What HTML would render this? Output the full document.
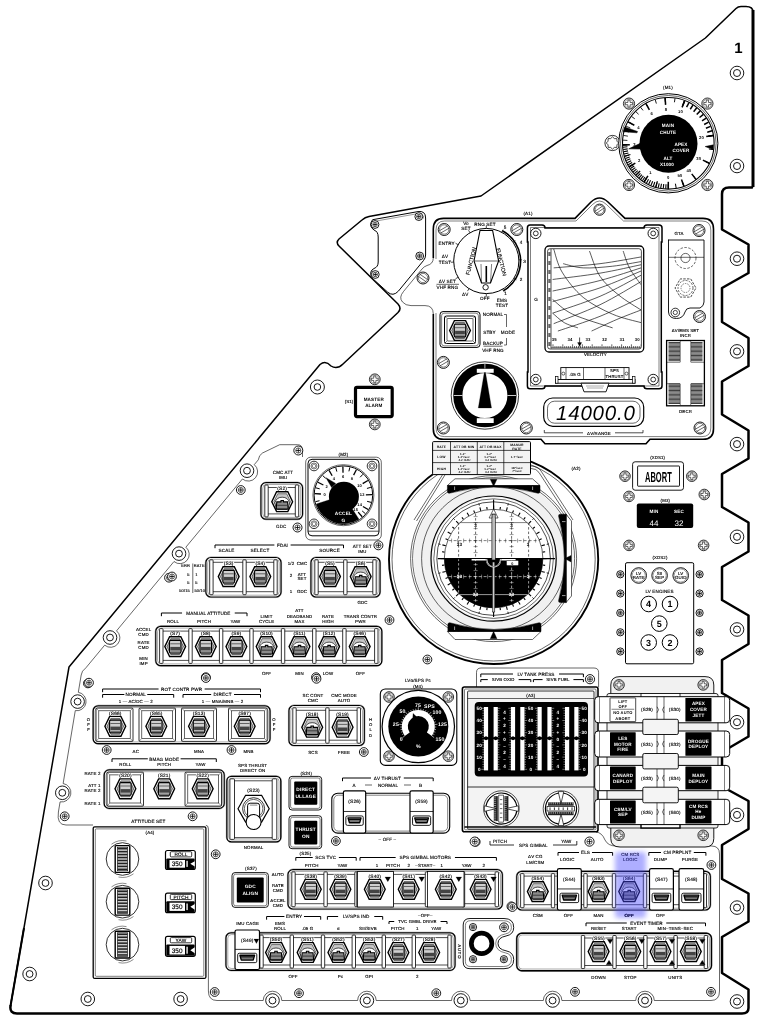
<!DOCTYPE html>
<html><head><meta charset="utf-8"><title>Panel 1</title>
<style>html,body{margin:0;padding:0;background:#fff}svg{display:block;will-change:transform;transform:translateZ(0)}text{font-family:"Liberation Sans",sans-serif;text-rendering:geometricPrecision;letter-spacing:0.15px}</style>
</head><body>
<svg width="760" height="1031" viewBox="0 0 760 1031">
<rect x="0" y="0" width="760" height="1031" fill="#fff"/>
<path d="M753 186.5 V12 Q753 6.5 746 6.5 H741 Q738 6.5 736 8.5 L705.4 38 L481 196 L369 216.5 Q365 217.3 362 220 L339 239 Q335.5 242.5 339 246 L398 304 Q402 308.5 398 312.5 L343 364 Q337 370 331 366 Q325.5 360 320 364.5 L69 667 L10.5 1006 Q9.5 1013.5 17 1013.5 H742 Q748.5 1013.5 748.5 1008 V989.5 L722 973 V937 L748.5 921.5 V893.5 L722 879 V845 L748.5 829 V801 L722 786.5 V752 L748.5 736.5 V708.5 L722 693 V660 L748.5 644 V615.5 L722 600 V567 L748.5 551.5 V522.5 L722 507 V474 L748.5 458.5 V430.5 L722 414.5 V381.5 L748.5 366 V338 L722 322 V288 L748.5 273 V244.5 L722 229.5 V194 Q722 187.5 729 187.5 H752 Z" fill="#fff" stroke="none" stroke-width="0" />
<path d="M753 186.5 V12 Q753 6.5 746 6.5 H741 Q738 6.5 736 8.5 L705.4 38 L481 196 L369 216.5 Q365 217.3 362 220 L339 239 Q335.5 242.5 339 246 L398 304 Q402 308.5 398 312.5 L343 364 Q337 370 331 366 Q325.5 360 320 364.5 L69 667 L10.5 1006" fill="none" stroke="#000" stroke-width="1.5" stroke-linejoin="round"/>
<path d="M10.5 1006 Q9.5 1013.5 17 1013.5 H742 Q748.5 1013.5 748.5 1008 V989.5 L722 973 V937 L748.5 921.5 V893.5 L722 879 V845 L748.5 829 V801 L722 786.5 V752 L748.5 736.5 V708.5 L722 693 V660 L748.5 644 V615.5 L722 600 V567 L748.5 551.5 V522.5 L722 507 V474 L748.5 458.5 V430.5 L722 414.5 V381.5 L748.5 366 V338 L722 322 V288 L748.5 273 V244.5 L722 229.5 V194 Q722 187.5 729 187.5 H752" fill="none" stroke="#000" stroke-width="2.5" stroke-linejoin="round" stroke-linecap="round"/>
<path d="M24 928 L10.5 1006" fill="none" stroke="#000" stroke-width="2.0" />
<line x1="753" y1="10" x2="753" y2="187" stroke="#000" stroke-width="3" />
<text x="738.5" y="52.5" font-size="15" text-anchor="middle" font-weight="bold" fill="#000" >1</text>
<circle cx="737" cy="73" r="6.8" fill="#fff" stroke="#000" stroke-width="0.9" />
<circle cx="737" cy="73" r="3.5" fill="none" stroke="#000" stroke-width="0.9" />
<circle cx="737" cy="166" r="6.8" fill="#fff" stroke="#000" stroke-width="0.9" />
<circle cx="737" cy="166" r="3.5" fill="none" stroke="#000" stroke-width="0.9" />
<circle cx="737" cy="258.7" r="6.8" fill="#fff" stroke="#000" stroke-width="0.9" />
<circle cx="737" cy="258.7" r="3.5" fill="none" stroke="#000" stroke-width="0.9" />
<circle cx="737" cy="351.4" r="6.8" fill="#fff" stroke="#000" stroke-width="0.9" />
<circle cx="737" cy="351.4" r="3.5" fill="none" stroke="#000" stroke-width="0.9" />
<circle cx="737" cy="444.1" r="6.8" fill="#fff" stroke="#000" stroke-width="0.9" />
<circle cx="737" cy="444.1" r="3.5" fill="none" stroke="#000" stroke-width="0.9" />
<circle cx="737" cy="536.8" r="6.8" fill="#fff" stroke="#000" stroke-width="0.9" />
<circle cx="737" cy="536.8" r="3.5" fill="none" stroke="#000" stroke-width="0.9" />
<circle cx="737" cy="629.5" r="6.8" fill="#fff" stroke="#000" stroke-width="0.9" />
<circle cx="737" cy="629.5" r="3.5" fill="none" stroke="#000" stroke-width="0.9" />
<circle cx="737" cy="722.2" r="6.8" fill="#fff" stroke="#000" stroke-width="0.9" />
<circle cx="737" cy="722.2" r="3.5" fill="none" stroke="#000" stroke-width="0.9" />
<circle cx="737" cy="814.9" r="6.8" fill="#fff" stroke="#000" stroke-width="0.9" />
<circle cx="737" cy="814.9" r="3.5" fill="none" stroke="#000" stroke-width="0.9" />
<circle cx="737" cy="907.6" r="6.8" fill="#fff" stroke="#000" stroke-width="0.9" />
<circle cx="737" cy="907.6" r="3.5" fill="none" stroke="#000" stroke-width="0.9" />
<circle cx="737" cy="1001.5" r="6.8" fill="#fff" stroke="#000" stroke-width="0.9" />
<circle cx="737" cy="1001.5" r="3.5" fill="none" stroke="#000" stroke-width="0.9" />
<path d="M302.5 457 V450 Q302.5 444.7 297.5 444.7 H279.7 L262.5 453 Q259 455 258.3 459.8" fill="none" stroke="#000" stroke-width="0.6" />
<path d="M258.3 459.8 L254.28 464.65 A9.3 9.3 0 0 1 242.41 478.97 L185.86 547.21 A9.3 9.3 0 0 1 173.99 561.53 L116.54 630.84 A9.3 9.3 0 0 1 104.68 645.17 L86 667.7" fill="none" stroke="#000" stroke-width="0.6" />
<path d="M86 667.7 Q81.5 671 81.2 675" fill="none" stroke="#000" stroke-width="0.6" />
<path d="M81.2 675 L78.32 692.29 A9.3 9.3 0 0 1 75.27 710.64 L63.14 783.51 A9.3 9.3 0 0 1 60.09 801.86 L58.4 812" fill="none" stroke="#000" stroke-width="0.6" />
<path d="M58.4 812 Q56.5 825 66 825 H93" fill="none" stroke="#000" stroke-width="0.6" />
<circle cx="247" cy="470.7" r="6.8" fill="#fff" stroke="#000" stroke-width="0.9" />
<circle cx="247" cy="470.7" r="3.4" fill="none" stroke="#000" stroke-width="0.9" />
<circle cx="179" cy="553.6" r="6.8" fill="#fff" stroke="#000" stroke-width="0.9" />
<circle cx="179" cy="553.6" r="3.4" fill="none" stroke="#000" stroke-width="0.9" />
<circle cx="110" cy="637.5" r="6.8" fill="#fff" stroke="#000" stroke-width="0.9" />
<circle cx="110" cy="637.5" r="3.4" fill="none" stroke="#000" stroke-width="0.9" />
<circle cx="77.6" cy="701.6" r="6.8" fill="#fff" stroke="#000" stroke-width="0.9" />
<circle cx="77.6" cy="701.6" r="3.4" fill="none" stroke="#000" stroke-width="0.9" />
<circle cx="62.3" cy="792.8" r="6.8" fill="#fff" stroke="#000" stroke-width="0.9" />
<circle cx="62.3" cy="792.8" r="3.4" fill="none" stroke="#000" stroke-width="0.9" />
<circle cx="240.8" cy="490" r="4.4" fill="#fff" stroke="#000" stroke-width="0.9" />
<circle cx="240.8" cy="490" r="2.55" fill="#f6f6f6" stroke="#000" stroke-width="0.6" />
<line x1="238.6" y1="490" x2="243" y2="490" stroke="#000" stroke-width="0.8" />
<line x1="240.8" y1="487.8" x2="240.8" y2="492.2" stroke="#000" stroke-width="0.8" />
<circle cx="169" cy="577.7" r="4.4" fill="#fff" stroke="#000" stroke-width="0.9" />
<circle cx="169" cy="577.7" r="2.55" fill="#f6f6f6" stroke="#000" stroke-width="0.6" />
<line x1="166.8" y1="577.7" x2="171.2" y2="577.7" stroke="#000" stroke-width="0.8" />
<line x1="169" y1="575.5" x2="169" y2="579.9" stroke="#000" stroke-width="0.8" />
<circle cx="87.9" cy="683.4" r="4.4" fill="#fff" stroke="#000" stroke-width="0.9" />
<circle cx="87.9" cy="683.4" r="2.55" fill="#f6f6f6" stroke="#000" stroke-width="0.6" />
<line x1="85.7" y1="683.4" x2="90.1" y2="683.4" stroke="#000" stroke-width="0.8" />
<line x1="87.9" y1="681.2" x2="87.9" y2="685.6" stroke="#000" stroke-width="0.8" />
<path d="M205.9 825.3 Q208.4 825.3 208.4 829 V991 Q208.4 1000.5 217 1000.5" fill="none" stroke="#000" stroke-width="0.6" />
<path d="M217 1000.5 L263.2 1000.5 A9.3 9.3 0 0 1 281.8 1000.5 L357.6 1000.5 A9.3 9.3 0 0 1 376.2 1000.5 L451.5 1000.5 A9.3 9.3 0 0 1 470.1 1000.5 L543.3 1000.5 A9.3 9.3 0 0 1 561.9 1000.5 L635.7 1000.5 A9.3 9.3 0 0 1 654.3 1000.5 L711 1000.5" fill="none" stroke="#000" stroke-width="0.6" />
<path d="M711 1000.5 Q719.5 1000.5 719.5 991 V854 Q719.5 846 711.5 846 H616 Q608 846 605 840 Q602 832.5 596 832" fill="none" stroke="#000" stroke-width="0.6" />
<path d="M372.6 219.7 L418 211.6 Q425.6 210.5 425.6 218 V255 Q425.6 258 423.5 260.5 L398.5 291 Q393 297 387.5 292 L371.5 277.5 Q369 271 374 268.5 Q378.2 267 378.2 262 V237 Q378.2 231.5 374 230 Q368 226 372.6 219.7 Z" fill="#fff" stroke="#000" stroke-width="1.0" />
<path d="M373.5 221.5 L418 213.6 Q423.6 213 423.6 218.5" fill="none" stroke="#000" stroke-width="0.4" />
<circle cx="375" cy="224.5" r="3.9" fill="#fff" stroke="#000" stroke-width="0.9" />
<circle cx="375" cy="224.5" r="2.26" fill="#f6f6f6" stroke="#000" stroke-width="0.6" />
<line x1="373.05" y1="224.5" x2="376.95" y2="224.5" stroke="#000" stroke-width="0.8" />
<line x1="375" y1="222.55" x2="375" y2="226.45" stroke="#000" stroke-width="0.8" />
<circle cx="418.8" cy="216.6" r="3.9" fill="#fff" stroke="#000" stroke-width="0.9" />
<circle cx="418.8" cy="216.6" r="2.26" fill="#f6f6f6" stroke="#000" stroke-width="0.6" />
<line x1="416.85" y1="216.6" x2="420.75" y2="216.6" stroke="#000" stroke-width="0.8" />
<line x1="418.8" y1="214.65" x2="418.8" y2="218.55" stroke="#000" stroke-width="0.8" />
<circle cx="419.7" cy="256" r="3.9" fill="#fff" stroke="#000" stroke-width="0.9" />
<circle cx="419.7" cy="256" r="2.26" fill="#f6f6f6" stroke="#000" stroke-width="0.6" />
<line x1="417.75" y1="256" x2="421.65" y2="256" stroke="#000" stroke-width="0.8" />
<line x1="419.7" y1="254.05" x2="419.7" y2="257.95" stroke="#000" stroke-width="0.8" />
<circle cx="375.3" cy="274.5" r="3.9" fill="#fff" stroke="#000" stroke-width="0.9" />
<circle cx="375.3" cy="274.5" r="2.26" fill="#f6f6f6" stroke="#000" stroke-width="0.6" />
<line x1="373.35" y1="274.5" x2="377.25" y2="274.5" stroke="#000" stroke-width="0.8" />
<line x1="375.3" y1="272.55" x2="375.3" y2="276.45" stroke="#000" stroke-width="0.8" />
<text x="668" y="88.5" font-size="4.5" text-anchor="middle" font-weight="normal" fill="#000" stroke="#000" stroke-width="0.14" >(M1)</text>
<circle cx="612.5" cy="143" r="7.6" fill="#fff" stroke="#000" stroke-width="0.8" />
<path d="M612.5 136.8 L614.34 138.57 L616.88 138.62 L616.93 141.16 L618.7 143 L616.93 144.84 L616.88 147.38 L614.34 147.43 L612.5 149.2 L610.66 147.43 L608.12 147.38 L608.07 144.84 L606.3 143 L608.07 141.16 L608.12 138.62 L610.66 138.57 Z" fill="#fff" stroke="#000" stroke-width="0.7" />
<circle cx="629" cy="103.6" r="5.6" fill="#fff" stroke="#000" stroke-width="0.8" />
<circle cx="629" cy="103.6" r="4.48" fill="none" stroke="#000" stroke-width="0.4" />
<path d="M627.88 100.13 H630.12 V102.48 H632.47 V104.72 H630.12 V107.07 H627.88 V104.72 H625.53 V102.48 H627.88 Z" fill="#fff" stroke="#000" stroke-width="0.6" />
<circle cx="707.4" cy="103.6" r="5.6" fill="#fff" stroke="#000" stroke-width="0.8" />
<circle cx="707.4" cy="103.6" r="4.48" fill="none" stroke="#000" stroke-width="0.4" />
<path d="M706.28 100.13 H708.52 V102.48 H710.87 V104.72 H708.52 V107.07 H706.28 V104.72 H703.93 V102.48 H706.28 Z" fill="#fff" stroke="#000" stroke-width="0.6" />
<circle cx="629" cy="185" r="5.6" fill="#fff" stroke="#000" stroke-width="0.8" />
<circle cx="629" cy="185" r="4.48" fill="none" stroke="#000" stroke-width="0.4" />
<path d="M627.88 181.53 H630.12 V183.88 H632.47 V186.12 H630.12 V188.47 H627.88 V186.12 H625.53 V183.88 H627.88 Z" fill="#fff" stroke="#000" stroke-width="0.6" />
<circle cx="707.4" cy="185" r="5.6" fill="#fff" stroke="#000" stroke-width="0.8" />
<circle cx="707.4" cy="185" r="4.48" fill="none" stroke="#000" stroke-width="0.4" />
<path d="M706.28 181.53 H708.52 V183.88 H710.87 V186.12 H708.52 V188.47 H706.28 V186.12 H703.93 V183.88 H706.28 Z" fill="#fff" stroke="#000" stroke-width="0.6" />
<circle cx="668.3" cy="143.3" r="49.6" fill="#fff" stroke="#000" stroke-width="1.0" />
<circle cx="668.3" cy="143.3" r="47.8" fill="none" stroke="#000" stroke-width="0.6" />
<circle cx="668.3" cy="143.3" r="45.8" fill="none" stroke="#000" stroke-width="1.1" />
<line x1="668.3" y1="188.8" x2="668.3" y2="184.3" stroke="#000" stroke-width="1.1" />
<line x1="665.76" y1="188.73" x2="666.01" y2="184.24" stroke="#000" stroke-width="1.1" />
<line x1="663.23" y1="188.52" x2="663.73" y2="184.04" stroke="#000" stroke-width="1.1" />
<line x1="660.71" y1="188.16" x2="661.46" y2="183.73" stroke="#000" stroke-width="1.1" />
<line x1="658.22" y1="187.67" x2="659.22" y2="183.28" stroke="#000" stroke-width="1.1" />
<line x1="655.76" y1="187.04" x2="657" y2="182.71" stroke="#000" stroke-width="1.1" />
<line x1="653.34" y1="186.27" x2="654.82" y2="182.02" stroke="#000" stroke-width="1.1" />
<line x1="650.96" y1="185.37" x2="652.68" y2="181.21" stroke="#000" stroke-width="1.1" />
<line x1="648.64" y1="184.33" x2="650.58" y2="180.28" stroke="#000" stroke-width="1.1" />
<line x1="646.38" y1="183.17" x2="648.55" y2="179.23" stroke="#000" stroke-width="1.1" />
<line x1="644.19" y1="181.89" x2="646.57" y2="178.07" stroke="#000" stroke-width="1.1" />
<line x1="644.19" y1="181.89" x2="646.57" y2="178.07" stroke="#000" stroke-width="1.1" />
<line x1="642.4" y1="180.71" x2="644.96" y2="177.01" stroke="#000" stroke-width="1.1" />
<line x1="640.66" y1="179.45" x2="643.4" y2="175.87" stroke="#000" stroke-width="1.1" />
<line x1="638.99" y1="178.1" x2="641.89" y2="174.66" stroke="#000" stroke-width="1.1" />
<line x1="637.39" y1="176.68" x2="640.44" y2="173.38" stroke="#000" stroke-width="1.1" />
<line x1="635.85" y1="175.19" x2="639.06" y2="172.04" stroke="#000" stroke-width="1.1" />
<line x1="634.38" y1="173.63" x2="637.74" y2="170.63" stroke="#000" stroke-width="1.1" />
<line x1="632.99" y1="172" x2="636.48" y2="169.16" stroke="#000" stroke-width="1.1" />
<line x1="631.68" y1="170.3" x2="635.3" y2="167.63" stroke="#000" stroke-width="1.1" />
<line x1="630.45" y1="168.55" x2="634.19" y2="166.05" stroke="#000" stroke-width="1.1" />
<line x1="629.3" y1="166.73" x2="633.16" y2="164.42" stroke="#000" stroke-width="1.1" />
<line x1="629.3" y1="166.73" x2="633.16" y2="164.42" stroke="#000" stroke-width="1.1" />
<line x1="628.16" y1="164.73" x2="632.13" y2="162.61" stroke="#000" stroke-width="1.1" />
<line x1="627.13" y1="162.67" x2="631.2" y2="160.76" stroke="#000" stroke-width="1.1" />
<line x1="626.2" y1="160.57" x2="630.37" y2="158.86" stroke="#000" stroke-width="1.1" />
<line x1="625.38" y1="158.41" x2="629.63" y2="156.92" stroke="#000" stroke-width="1.1" />
<line x1="624.67" y1="156.22" x2="628.99" y2="154.94" stroke="#000" stroke-width="1.1" />
<line x1="624.08" y1="154" x2="628.45" y2="152.94" stroke="#000" stroke-width="1.1" />
<line x1="623.59" y1="151.75" x2="628.01" y2="150.91" stroke="#000" stroke-width="1.1" />
<line x1="623.22" y1="149.48" x2="627.68" y2="148.86" stroke="#000" stroke-width="1.1" />
<line x1="622.97" y1="147.19" x2="627.45" y2="146.8" stroke="#000" stroke-width="1.1" />
<line x1="622.83" y1="144.89" x2="627.32" y2="144.73" stroke="#000" stroke-width="1.1" />
<line x1="622.83" y1="144.89" x2="627.32" y2="144.73" stroke="#000" stroke-width="0.8" />
<line x1="622.91" y1="140.13" x2="627.4" y2="140.44" stroke="#000" stroke-width="0.8" />
<line x1="623.49" y1="135.4" x2="627.92" y2="136.18" stroke="#000" stroke-width="0.8" />
<line x1="624.56" y1="130.76" x2="628.89" y2="132" stroke="#000" stroke-width="0.8" />
<line x1="626.11" y1="126.26" x2="630.29" y2="127.94" stroke="#000" stroke-width="0.8" />
<line x1="628.13" y1="121.94" x2="632.1" y2="124.05" stroke="#000" stroke-width="0.8" />
<line x1="628.13" y1="121.94" x2="631.66" y2="123.82" stroke="#000" stroke-width="0.9" />
<line x1="631.56" y1="116.46" x2="634.79" y2="118.82" stroke="#000" stroke-width="0.9" />
<line x1="635.74" y1="111.52" x2="638.6" y2="114.32" stroke="#000" stroke-width="0.9" />
<line x1="640.57" y1="107.23" x2="643.01" y2="110.4" stroke="#000" stroke-width="0.9" />
<line x1="645.96" y1="103.66" x2="647.93" y2="107.14" stroke="#000" stroke-width="0.9" />
<line x1="645.96" y1="103.66" x2="647.93" y2="107.14" stroke="#000" stroke-width="0.9" />
<line x1="655.23" y1="99.72" x2="656.37" y2="103.55" stroke="#000" stroke-width="0.9" />
<line x1="665.13" y1="97.91" x2="665.41" y2="101.9" stroke="#000" stroke-width="0.9" />
<line x1="665.13" y1="97.91" x2="665.41" y2="101.9" stroke="#000" stroke-width="0.9" />
<line x1="675.03" y1="98.3" x2="674.43" y2="102.26" stroke="#000" stroke-width="0.9" />
<line x1="684.61" y1="100.82" x2="683.17" y2="104.56" stroke="#000" stroke-width="0.9" />
<line x1="684.61" y1="100.82" x2="682.81" y2="105.49" stroke="#000" stroke-width="1.5" />
<line x1="688.89" y1="102.72" x2="686.62" y2="107.18" stroke="#000" stroke-width="1.5" />
<line x1="692.95" y1="105.05" x2="690.24" y2="109.26" stroke="#000" stroke-width="1.5" />
<line x1="696.75" y1="107.79" x2="693.62" y2="111.69" stroke="#000" stroke-width="1.5" />
<line x1="700.25" y1="110.9" x2="696.74" y2="114.46" stroke="#000" stroke-width="1.5" />
<line x1="703.41" y1="114.36" x2="699.55" y2="117.54" stroke="#000" stroke-width="1.5" />
<line x1="706.2" y1="118.12" x2="702.03" y2="120.89" stroke="#000" stroke-width="1.5" />
<line x1="708.59" y1="122.15" x2="704.16" y2="124.47" stroke="#000" stroke-width="1.5" />
<line x1="710.55" y1="126.4" x2="705.9" y2="128.26" stroke="#000" stroke-width="1.5" />
<line x1="712.06" y1="130.83" x2="707.25" y2="132.2" stroke="#000" stroke-width="1.5" />
<line x1="713.11" y1="135.4" x2="708.18" y2="136.27" stroke="#000" stroke-width="1.5" />
<line x1="713.11" y1="135.4" x2="708.68" y2="136.18" stroke="#000" stroke-width="1.0" />
<line x1="713.36" y1="149.63" x2="708.9" y2="149.01" stroke="#000" stroke-width="1.0" />
<line x1="709.2" y1="163.25" x2="705.15" y2="161.27" stroke="#000" stroke-width="1.0" />
<line x1="709.2" y1="163.25" x2="705.15" y2="161.27" stroke="#000" stroke-width="1.0" />
<line x1="696" y1="179.4" x2="693.26" y2="175.83" stroke="#000" stroke-width="1.0" />
<line x1="696" y1="179.4" x2="693.26" y2="175.83" stroke="#000" stroke-width="1.0" />
<line x1="683.86" y1="186.06" x2="682.32" y2="181.83" stroke="#000" stroke-width="1.0" />
<line x1="683.86" y1="186.06" x2="682.32" y2="181.83" stroke="#000" stroke-width="1.0" />
<line x1="676.2" y1="188.11" x2="675.42" y2="183.68" stroke="#000" stroke-width="1.0" />
<line x1="668.3" y1="188.8" x2="668.3" y2="184.3" stroke="#000" stroke-width="1.0" />
<line x1="668.3" y1="188.8" x2="668.3" y2="181.8" stroke="#000" stroke-width="1.5" />
<text x="668.3" y="178.7" font-size="4.2" text-anchor="middle" font-weight="bold" fill="#000" >0</text>
<line x1="644.19" y1="181.89" x2="647.9" y2="175.95" stroke="#000" stroke-width="1.5" />
<text x="650.39" y="173.56" font-size="4.2" text-anchor="middle" font-weight="bold" fill="#000" >1</text>
<line x1="629.3" y1="166.73" x2="635.3" y2="163.13" stroke="#000" stroke-width="1.5" />
<text x="639.33" y="162.31" font-size="4.2" text-anchor="middle" font-weight="bold" fill="#000" >2</text>
<line x1="622.83" y1="144.89" x2="629.82" y2="144.64" stroke="#000" stroke-width="1.5" />
<text x="634.52" y="146.08" font-size="4.2" text-anchor="middle" font-weight="bold" fill="#000" >3</text>
<line x1="628.13" y1="121.94" x2="634.31" y2="125.23" stroke="#000" stroke-width="1.5" />
<text x="638.46" y="129.03" font-size="4.2" text-anchor="middle" font-weight="bold" fill="#000" >4</text>
<line x1="645.96" y1="103.66" x2="649.4" y2="109.76" stroke="#000" stroke-width="1.5" />
<text x="651.71" y="115.45" font-size="4.2" text-anchor="middle" font-weight="bold" fill="#000" >6</text>
<line x1="665.13" y1="97.91" x2="665.61" y2="104.89" stroke="#000" stroke-width="1.5" />
<text x="665.94" y="111.18" font-size="4.2" text-anchor="middle" font-weight="bold" fill="#000" >8</text>
<line x1="684.61" y1="100.82" x2="682.1" y2="107.36" stroke="#000" stroke-width="1.5" />
<text x="680.41" y="113.34" font-size="4.2" text-anchor="middle" font-weight="bold" fill="#000" >10</text>
<line x1="713.11" y1="135.4" x2="706.22" y2="136.61" stroke="#000" stroke-width="1.5" />
<text x="701.59" y="139.03" font-size="4.2" text-anchor="middle" font-weight="bold" fill="#000" >20</text>
<line x1="709.2" y1="163.25" x2="702.9" y2="160.18" stroke="#000" stroke-width="1.5" />
<text x="698.68" y="159.72" font-size="4.2" text-anchor="middle" font-weight="bold" fill="#000" >30</text>
<line x1="696" y1="179.4" x2="691.74" y2="173.84" stroke="#000" stroke-width="1.5" />
<text x="688.88" y="171.72" font-size="4.2" text-anchor="middle" font-weight="bold" fill="#000" >40</text>
<line x1="683.86" y1="186.06" x2="681.47" y2="179.48" stroke="#000" stroke-width="1.5" />
<text x="679.86" y="176.66" font-size="4.2" text-anchor="middle" font-weight="bold" fill="#000" >50</text>
<line x1="655.76" y1="187.04" x2="657.41" y2="181.27" stroke="#000" stroke-width="1.2" />
<line x1="635.85" y1="175.19" x2="640.13" y2="170.99" stroke="#000" stroke-width="1.2" />
<line x1="624.67" y1="156.22" x2="630.43" y2="154.52" stroke="#000" stroke-width="1.2" />
<circle cx="668.5" cy="143.7" r="29" fill="#000" stroke="#000" stroke-width="0" />
<path d="M623.28 131.66 L624.74 127.02 L637.49 131.47 L637.01 132.83 Z" fill="#000" stroke="#000" stroke-width="0.5" />
<path d="M628.69 148.87 L640.91 149.12 L640.3 143.3 Z" fill="#000" stroke="#000" stroke-width="0.5" />
<path d="M705.16 146.52 L713.27 144.87 L712.86 149.56 Z" fill="#000" stroke="#000" stroke-width="0.5" />
<text x="668" y="127" font-size="4.6" text-anchor="middle" font-weight="bold" fill="#fff" >MAIN</text>
<text x="668" y="133.5" font-size="4.6" text-anchor="middle" font-weight="bold" fill="#fff" >CHUTE</text>
<text x="681" y="145.5" font-size="4.6" text-anchor="middle" font-weight="bold" fill="#fff" >APEX</text>
<text x="681" y="152" font-size="4.6" text-anchor="middle" font-weight="bold" fill="#fff" >COVER</text>
<text x="668" y="159.5" font-size="4.6" text-anchor="middle" font-weight="bold" fill="#fff" >ALT</text>
<text x="667" y="166" font-size="4.6" text-anchor="middle" font-weight="bold" fill="#fff" >X1000</text>
<text x="528" y="214.5" font-size="4.5" text-anchor="middle" font-weight="normal" fill="#000" stroke="#000" stroke-width="0.14" >(A1)</text>
<path d="M433.3 258 V229 Q433.3 218.4 443.5 218.4 H575 L591 202 Q599.5 194 608 202 L625 218.4 H703 Q713.5 218.4 713.5 229 V429 Q713.5 439.3 703 439.3 H650 L646 443.8 H545 L541 439.3 H443.5 Q433.3 439.3 433.3 429 V314 V258 Z" fill="#fff" stroke="none" stroke-width="0" />
<path d="M433.3 258 V229 Q433.3 218.4 443.5 218.4 H575 L591 202 Q599.5 194 608 202 L625 218.4 H703 Q713.5 218.4 713.5 229 V429 Q713.5 439.3 703 439.3 H650 L646 443.8 H545 L541 439.3 H443.5 Q433.3 439.3 433.3 429 V314" fill="none" stroke="#000" stroke-width="1.6" />
<path d="M436 259 V230 Q436 221 444.5 221 H576 L592.5 204.5 Q599.5 197.5 606.5 204.5 L623.5 221 H702 Q710.8 221 710.8 230 V428 Q710.8 436.6 702 436.6 H444.5 Q436 436.6 436 428 V313" fill="none" stroke="#000" stroke-width="0.5" />
<circle cx="599.5" cy="209.7" r="5.6" fill="#fff" stroke="#000" stroke-width="0.9" />
<circle cx="599.5" cy="209.7" r="4.37" fill="none" stroke="#000" stroke-width="0.5" />
<line x1="596.63" y1="213.21" x2="603.78" y2="208.2" stroke="#000" stroke-width="0.6" />
<line x1="595.22" y1="211.2" x2="602.37" y2="206.19" stroke="#000" stroke-width="0.6" />
<circle cx="444.2" cy="229.5" r="6" fill="#fff" stroke="#000" stroke-width="0.9" />
<circle cx="444.2" cy="229.5" r="4.68" fill="none" stroke="#000" stroke-width="0.5" />
<line x1="440.81" y1="232.98" x2="448.91" y2="228.3" stroke="#000" stroke-width="0.6" />
<line x1="439.49" y1="230.7" x2="447.59" y2="226.02" stroke="#000" stroke-width="0.6" />
<circle cx="516.8" cy="229.5" r="6" fill="#fff" stroke="#000" stroke-width="0.9" />
<circle cx="516.8" cy="229.5" r="4.68" fill="none" stroke="#000" stroke-width="0.5" />
<line x1="513.41" y1="232.98" x2="521.51" y2="228.3" stroke="#000" stroke-width="0.6" />
<line x1="512.09" y1="230.7" x2="520.19" y2="226.02" stroke="#000" stroke-width="0.6" />
<circle cx="443.4" cy="362.4" r="6" fill="#fff" stroke="#000" stroke-width="0.9" />
<circle cx="443.4" cy="362.4" r="4.68" fill="none" stroke="#000" stroke-width="0.5" />
<line x1="440.01" y1="365.88" x2="448.11" y2="361.2" stroke="#000" stroke-width="0.6" />
<line x1="438.69" y1="363.6" x2="446.79" y2="358.92" stroke="#000" stroke-width="0.6" />
<circle cx="443.4" cy="428" r="6" fill="#fff" stroke="#000" stroke-width="0.9" />
<circle cx="443.4" cy="428" r="4.68" fill="none" stroke="#000" stroke-width="0.5" />
<line x1="440.01" y1="431.48" x2="448.11" y2="426.8" stroke="#000" stroke-width="0.6" />
<line x1="438.69" y1="429.2" x2="446.79" y2="424.52" stroke="#000" stroke-width="0.6" />
<circle cx="526.3" cy="428" r="6" fill="#fff" stroke="#000" stroke-width="0.9" />
<circle cx="526.3" cy="428" r="4.68" fill="none" stroke="#000" stroke-width="0.5" />
<line x1="522.91" y1="431.48" x2="531.01" y2="426.8" stroke="#000" stroke-width="0.6" />
<line x1="521.59" y1="429.2" x2="529.69" y2="424.52" stroke="#000" stroke-width="0.6" />
<circle cx="699" cy="230.5" r="6" fill="#fff" stroke="#000" stroke-width="0.9" />
<circle cx="699" cy="230.5" r="4.68" fill="none" stroke="#000" stroke-width="0.5" />
<line x1="695.61" y1="233.98" x2="703.71" y2="229.3" stroke="#000" stroke-width="0.6" />
<line x1="694.29" y1="231.7" x2="702.39" y2="227.02" stroke="#000" stroke-width="0.6" />
<circle cx="699.5" cy="316.5" r="6" fill="#fff" stroke="#000" stroke-width="0.9" />
<circle cx="699.5" cy="316.5" r="4.68" fill="none" stroke="#000" stroke-width="0.5" />
<line x1="696.11" y1="319.98" x2="704.21" y2="315.3" stroke="#000" stroke-width="0.6" />
<line x1="694.79" y1="317.7" x2="702.89" y2="313.02" stroke="#000" stroke-width="0.6" />
<circle cx="700" cy="428" r="6" fill="#fff" stroke="#000" stroke-width="0.9" />
<circle cx="700" cy="428" r="4.68" fill="none" stroke="#000" stroke-width="0.5" />
<line x1="696.61" y1="431.48" x2="704.71" y2="426.8" stroke="#000" stroke-width="0.6" />
<line x1="695.29" y1="429.2" x2="703.39" y2="424.52" stroke="#000" stroke-width="0.6" />
<circle cx="486.3" cy="261" r="32.6" fill="#fff" stroke="#000" stroke-width="1.0" />
<path d="M502.4 230.71 A34.3 34.3 0 0 1 503.45 290.7" fill="none" stroke="#000" stroke-width="1.6" />
<line x1="486.3" y1="228.4" x2="486.3" y2="225.5" stroke="#000" stroke-width="0.7" />
<line x1="501.6" y1="232.22" x2="502.97" y2="229.66" stroke="#000" stroke-width="0.7" />
<line x1="513" y1="242.3" x2="515.38" y2="240.64" stroke="#000" stroke-width="0.7" />
<line x1="518.88" y1="259.86" x2="521.78" y2="259.76" stroke="#000" stroke-width="0.7" />
<line x1="513.95" y1="278.28" x2="516.41" y2="279.81" stroke="#000" stroke-width="0.7" />
<line x1="502.6" y1="289.23" x2="504.05" y2="291.74" stroke="#000" stroke-width="0.7" />
<line x1="486.3" y1="293.6" x2="486.3" y2="296.5" stroke="#000" stroke-width="0.7" />
<line x1="469.02" y1="288.65" x2="467.49" y2="291.11" stroke="#000" stroke-width="0.7" />
<line x1="458.07" y1="277.3" x2="455.56" y2="278.75" stroke="#000" stroke-width="0.7" />
<line x1="453.72" y1="262.14" x2="450.82" y2="262.24" stroke="#000" stroke-width="0.7" />
<line x1="458.07" y1="244.7" x2="455.56" y2="243.25" stroke="#000" stroke-width="0.7" />
<line x1="470" y1="232.77" x2="468.55" y2="230.26" stroke="#000" stroke-width="0.7" />
<path d="M480 230.5 L492.6 230.5 L498.6 261 L490.5 283 L481.5 283 L474 261 Z" fill="#fff" stroke="#000" stroke-width="1.1" />
<line x1="474" y1="261" x2="498.6" y2="261" stroke="#000" stroke-width="0.6" />
<line x1="486.3" y1="266" x2="486.3" y2="282" stroke="#000" stroke-width="1.6" />
<line x1="481" y1="264" x2="481.5" y2="283" stroke="#000" stroke-width="0.5" />
<line x1="491.6" y1="264" x2="490.5" y2="283" stroke="#000" stroke-width="0.5" />
<circle cx="485.6" cy="287.3" r="2.7" fill="#fff" stroke="#000" stroke-width="0.9" />
<text x="0" y="0" font-size="5.3" text-anchor="middle" font-weight="normal" fill="#000" stroke="#000" stroke-width="0.14" transform="translate(472.8 261.5) rotate(-76)">FUNCTION</text>
<text x="0" y="0" font-size="5.3" text-anchor="middle" font-weight="normal" fill="#000" stroke="#000" stroke-width="0.14" transform="translate(499.6 262.5) rotate(76)">FUNCTION</text>
<text x="466" y="224.5" font-size="4.6" text-anchor="middle" font-weight="normal" fill="#000" stroke="#000" stroke-width="0.14" >Vo</text>
<text x="466" y="229.8" font-size="4.6" text-anchor="middle" font-weight="normal" fill="#000" stroke="#000" stroke-width="0.14" >SET</text>
<text x="485" y="225.6" font-size="4.6" text-anchor="middle" font-weight="normal" fill="#000" stroke="#000" stroke-width="0.14" >RNG SET</text>
<text x="446.7" y="245.2" font-size="4.6" text-anchor="middle" font-weight="normal" fill="#000" stroke="#000" stroke-width="0.14" >ENTRY</text>
<text x="445" y="258" font-size="4.6" text-anchor="middle" font-weight="normal" fill="#000" stroke="#000" stroke-width="0.14" >ΔV</text>
<text x="445" y="264" font-size="4.6" text-anchor="middle" font-weight="normal" fill="#000" stroke="#000" stroke-width="0.14" >TEST</text>
<text x="447.4" y="282.6" font-size="4.6" text-anchor="middle" font-weight="normal" fill="#000" stroke="#000" stroke-width="0.14" >ΔV SET</text>
<text x="447.4" y="289" font-size="4.6" text-anchor="middle" font-weight="normal" fill="#000" stroke="#000" stroke-width="0.14" >VHF RNG</text>
<text x="465.3" y="296.3" font-size="4.6" text-anchor="middle" font-weight="normal" fill="#000" stroke="#000" stroke-width="0.14" >ΔV</text>
<text x="484.8" y="300" font-size="4.6" text-anchor="middle" font-weight="normal" fill="#000" stroke="#000" stroke-width="0.14" >OFF</text>
<text x="502" y="302.2" font-size="4.6" text-anchor="middle" font-weight="normal" fill="#000" stroke="#000" stroke-width="0.14" >EMS</text>
<text x="502" y="307.2" font-size="4.6" text-anchor="middle" font-weight="normal" fill="#000" stroke="#000" stroke-width="0.14" >TEST</text>
<text x="505.5" y="295.2" font-size="4.6" text-anchor="middle" font-weight="normal" fill="#000" stroke="#000" stroke-width="0.14" >1</text>
<text x="521" y="281.2" font-size="4.6" text-anchor="middle" font-weight="normal" fill="#000" stroke="#000" stroke-width="0.14" >2</text>
<text x="524.5" y="263.4" font-size="4.6" text-anchor="middle" font-weight="normal" fill="#000" stroke="#000" stroke-width="0.14" >3</text>
<text x="521" y="244.3" font-size="4.6" text-anchor="middle" font-weight="normal" fill="#000" stroke="#000" stroke-width="0.14" >4</text>
<text x="505" y="229" font-size="4.6" text-anchor="middle" font-weight="normal" fill="#000" stroke="#000" stroke-width="0.14" >5</text>
<line x1="436.5" y1="284.3" x2="459" y2="284.3" stroke="#000" stroke-width="0.6" />
<rect x="440" y="311.6" width="40" height="35.8" rx="3" fill="#fff" stroke="#000" stroke-width="1.0" />
<rect x="441.6" y="313.2" width="36.8" height="32.6" rx="2.5" fill="none" stroke="#000" stroke-width="0.5" />
<rect x="444.5" y="316" width="31" height="27.5" rx="2" fill="none" stroke="#000" stroke-width="1.0" />
<rect x="447" y="318.5" width="26" height="22.5" rx="1" fill="none" stroke="#000" stroke-width="0.6" />
<line x1="444.5" y1="316" x2="447" y2="318.5" stroke="#000" stroke-width="0.5" />
<line x1="475.5" y1="316" x2="473" y2="318.5" stroke="#000" stroke-width="0.5" />
<line x1="444.5" y1="343.5" x2="447" y2="341" stroke="#000" stroke-width="0.5" />
<line x1="475.5" y1="343.5" x2="473" y2="341" stroke="#000" stroke-width="0.5" />
<path d="M449.6 330.5 L454.4 320.6 L465.6 320.6 L470.4 330.5 L465.6 340.4 L454.4 340.4 Z" fill="#fff" stroke="#000" stroke-width="1.4" />
<path d="M451.68 330.5 L455.52 322.58 L464.48 322.58 L468.32 330.5 L464.48 338.42 L455.52 338.42 Z" fill="#a2a2a2" stroke="#222" stroke-width="0.6" />
<rect x="454.3" y="324.3" width="11.4" height="12.6" rx="1.2" fill="#cfcfcf" stroke="#000" stroke-width="1.1" />
<rect x="455.1" y="330.8" width="9.8" height="3.6" rx="0" fill="#444" stroke="#000" stroke-width="0" />
<line x1="455.1" y1="327.7" x2="464.9" y2="327.7" stroke="#333" stroke-width="0.7" />
<line x1="455.1" y1="335.7" x2="464.9" y2="335.7" stroke="#333" stroke-width="0.6" />
<text x="493" y="316" font-size="4.6" text-anchor="middle" font-weight="normal" fill="#000" stroke="#000" stroke-width="0.14" >NORMAL</text>
<text x="489.5" y="333.8" font-size="4.6" text-anchor="middle" font-weight="normal" fill="#000" stroke="#000" stroke-width="0.14" >STBY</text>
<text x="508" y="333.8" font-size="4.6" text-anchor="middle" font-weight="normal" fill="#000" stroke="#000" stroke-width="0.14" >MODE</text>
<text x="493" y="344.6" font-size="4.6" text-anchor="middle" font-weight="normal" fill="#000" stroke="#000" stroke-width="0.14" >BACKUP</text>
<text x="493" y="351.6" font-size="4.6" text-anchor="middle" font-weight="normal" fill="#000" stroke="#000" stroke-width="0.14" >VHF RNG</text>
<line x1="483.5" y1="346.2" x2="502.5" y2="346.2" stroke="#000" stroke-width="0.6" />
<path d="M504 314.5 H506.5 V327 M506.5 338 V345 H504" fill="none" stroke="#000" stroke-width="0.6" />
<circle cx="484.9" cy="395.5" r="33.7" fill="#fff" stroke="#000" stroke-width="0.8" />
<circle cx="484.9" cy="395.5" r="27.1" fill="none" stroke="#000" stroke-width="9.2" />
<rect x="476.8" y="368.8" width="16.9" height="4" rx="0" fill="#fff" stroke="#000" stroke-width="0" />
<rect x="476.8" y="418.2" width="16.9" height="4.8" rx="0" fill="#fff" stroke="#000" stroke-width="0" />
<line x1="453.7" y1="395.5" x2="462.4" y2="395.5" stroke="#fff" stroke-width="0.8" />
<line x1="516.1" y1="395.5" x2="507.4" y2="395.5" stroke="#fff" stroke-width="0.8" />
<line x1="484.9" y1="363.8" x2="484.9" y2="368.5" stroke="#fff" stroke-width="0.7" />
<path d="M484.3 372.6 L485.5 372.6 L491.5 407.9 L478.3 407.9 Z" fill="#000" stroke="#000" stroke-width="0.3" />
<path d="M530 225 H542 Q545 225 545 228 H644 Q644 225 647 225 H659 Q662 225 662 228 V242 H661.3 V372 H662 V386 Q662 388.8 659 388.8 H647 Q644 388.8 644 386 H545 Q545 388.8 542 388.8 H530 Q527.4 388.8 527.4 386 V372 H528 V242 H527.4 V228 Q527.4 225 530 225 Z" fill="#fff" stroke="#000" stroke-width="1.5" />
<path d="M530.5 227.5 H659 V386 H530.5 Z" fill="none" stroke="#000" stroke-width="0.5" />
<circle cx="535.8" cy="233.4" r="5.2" fill="#fff" stroke="#000" stroke-width="0.9" />
<circle cx="535.8" cy="233.4" r="2.4" fill="none" stroke="#000" stroke-width="0.8" />
<circle cx="653.2" cy="233.4" r="5.2" fill="#fff" stroke="#000" stroke-width="0.9" />
<circle cx="653.2" cy="233.4" r="2.4" fill="none" stroke="#000" stroke-width="0.8" />
<circle cx="535.8" cy="379.5" r="5.2" fill="#fff" stroke="#000" stroke-width="0.9" />
<circle cx="535.8" cy="379.5" r="2.4" fill="none" stroke="#000" stroke-width="0.8" />
<circle cx="653.2" cy="379.5" r="5.2" fill="#fff" stroke="#000" stroke-width="0.9" />
<circle cx="653.2" cy="379.5" r="2.4" fill="none" stroke="#000" stroke-width="0.8" />
<rect x="545" y="246" width="98.7" height="106" rx="4" fill="#fff" stroke="#000" stroke-width="1.3" />
<rect x="547.6" y="248.7" width="93.8" height="100.3" rx="2.5" fill="none" stroke="#000" stroke-width="0.7" />
<path d="M433.3 258 Q433.3 264 427 265.5 Q424 266.5 422 269 L403.5 291.5 Q398.5 297.5 402.5 302 Q405.5 305.6 411 305.6 H425 Q433.3 305.6 433.3 314" fill="none" stroke="#000" stroke-width="0.6" />
<circle cx="423" cy="278" r="6" fill="#fff" stroke="#000" stroke-width="0.9" />
<circle cx="423" cy="278" r="4.68" fill="none" stroke="#000" stroke-width="0.5" />
<line x1="418.41" y1="276.4" x2="426.08" y2="281.77" stroke="#000" stroke-width="0.6" />
<line x1="419.92" y1="274.23" x2="427.59" y2="279.6" stroke="#000" stroke-width="0.6" />
<clipPath id="scr"><rect x="548" y="249" width="93" height="99.5" rx="2"/></clipPath>
<g clip-path="url(#scr)">
<line x1="551" y1="249" x2="551" y2="349" stroke="#000" stroke-width="0.7" />
<rect x="548.3" y="252" width="2.4" height="4" rx="0" fill="#666" stroke="#000" stroke-width="0" />
<rect x="548.3" y="261" width="2.4" height="4" rx="0" fill="#666" stroke="#000" stroke-width="0" />
<rect x="548.3" y="270" width="2.4" height="4" rx="0" fill="#666" stroke="#000" stroke-width="0" />
<rect x="548.3" y="279" width="2.4" height="4" rx="0" fill="#666" stroke="#000" stroke-width="0" />
<rect x="548.3" y="288" width="2.4" height="4" rx="0" fill="#666" stroke="#000" stroke-width="0" />
<rect x="548.3" y="297" width="2.4" height="4" rx="0" fill="#666" stroke="#000" stroke-width="0" />
<rect x="548.3" y="306" width="2.4" height="4" rx="0" fill="#666" stroke="#000" stroke-width="0" />
<rect x="548.3" y="315" width="2.4" height="4" rx="0" fill="#666" stroke="#000" stroke-width="0" />
<rect x="548.3" y="324" width="2.4" height="4" rx="0" fill="#666" stroke="#000" stroke-width="0" />
<rect x="548.3" y="333" width="2.4" height="4" rx="0" fill="#666" stroke="#000" stroke-width="0" />
<rect x="548.3" y="342" width="2.4" height="4" rx="0" fill="#666" stroke="#000" stroke-width="0" />
<path d="M553.68 267.89 C561.4 267.19 585.44 265.51 600 263.68 C614.56 261.86 634.21 258.07 641.05 256.95" fill="none" stroke="#000" stroke-width="0.65" />
<path d="M563.16 263.68 C566.49 264.39 574.91 267.47 583.16 267.89 C591.4 268.32 602.98 267.26 612.63 266.21 C622.28 265.16 636.32 262.35 641.05 261.58" fill="none" stroke="#000" stroke-width="0.65" />
<path d="M552.63 279.47 C560.53 278.42 585.26 275.61 600 273.16 C614.74 270.7 634.21 266.14 641.05 264.74" fill="none" stroke="#000" stroke-width="0.65" />
<path d="M552.63 291.05 C560.53 289.3 585.26 284.39 600 280.53 C614.74 276.67 634.21 270 641.05 267.89" fill="none" stroke="#000" stroke-width="0.65" />
<path d="M552.63 301.58 C560.53 299.3 585.26 292.98 600 287.89 C614.74 282.81 634.21 273.86 641.05 271.05" fill="none" stroke="#000" stroke-width="0.65" />
<path d="M552.63 313.16 C560.53 310.35 585.26 302.63 600 296.32 C614.74 290 634.21 278.77 641.05 275.26" fill="none" stroke="#000" stroke-width="0.65" />
<path d="M553.68 323.68 C561.4 320.53 585.44 311.75 600 304.74 C614.56 297.72 634.21 285.44 641.05 281.58" fill="none" stroke="#000" stroke-width="0.65" />
<path d="M557.89 331.05 C564.91 328.6 586.14 321.93 600 316.32 C613.86 310.7 634.21 300.53 641.05 297.37" fill="none" stroke="#000" stroke-width="0.65" />
<path d="M591.58 331.05 C595.79 329.12 608.6 322.98 616.84 319.47 C625.09 315.96 637.02 311.58 641.05 310" fill="none" stroke="#000" stroke-width="0.65" />
<path d="M553.68 248.95 C555.09 252.81 557.19 264.04 562.11 272.11 C567.02 280.18 574.74 290.35 583.16 297.37 C591.58 304.39 602.98 310 612.63 314.21 C622.28 318.42 636.32 321.23 641.05 322.63" fill="none" stroke="#000" stroke-width="0.65" />
<path d="M589.47 251.05 C591.23 255.26 595.09 268.95 600 276.32 C604.91 283.68 612.11 289.65 618.95 295.26 C625.79 300.88 637.37 307.54 641.05 310" fill="none" stroke="#000" stroke-width="0.65" />
<path d="M623.16 251.05 C624.21 253.86 626.49 262.28 629.47 267.89 C632.46 273.51 639.12 281.93 641.05 284.74" fill="none" stroke="#000" stroke-width="0.65" />
<path d="M552.63 299.47 C555.96 301.93 562.63 309.47 572.63 314.21 C582.63 318.95 605.96 325.61 612.63 327.89" fill="none" stroke="#000" stroke-width="0.65" />
<path d="M552.63 313.16 C554.56 314.74 560 320.18 564.21 322.63 C568.42 325.09 575.61 327.02 577.89 327.89" fill="none" stroke="#000" stroke-width="0.65" />
<line x1="551" y1="348" x2="641" y2="348" stroke="#000" stroke-width="0.7" />
<line x1="553" y1="348" x2="553" y2="344.3" stroke="#000" stroke-width="0.6" />
<line x1="554.96" y1="348" x2="554.96" y2="346" stroke="#000" stroke-width="0.6" />
<line x1="556.92" y1="348" x2="556.92" y2="346" stroke="#000" stroke-width="0.6" />
<line x1="558.88" y1="348" x2="558.88" y2="346" stroke="#000" stroke-width="0.6" />
<line x1="560.84" y1="348" x2="560.84" y2="346" stroke="#000" stroke-width="0.6" />
<line x1="562.8" y1="348" x2="562.8" y2="344.3" stroke="#000" stroke-width="0.6" />
<line x1="564.76" y1="348" x2="564.76" y2="346" stroke="#000" stroke-width="0.6" />
<line x1="566.72" y1="348" x2="566.72" y2="346" stroke="#000" stroke-width="0.6" />
<line x1="568.68" y1="348" x2="568.68" y2="346" stroke="#000" stroke-width="0.6" />
<line x1="570.64" y1="348" x2="570.64" y2="346" stroke="#000" stroke-width="0.6" />
<line x1="572.6" y1="348" x2="572.6" y2="344.3" stroke="#000" stroke-width="0.6" />
<line x1="574.56" y1="348" x2="574.56" y2="346" stroke="#000" stroke-width="0.6" />
<line x1="576.52" y1="348" x2="576.52" y2="346" stroke="#000" stroke-width="0.6" />
<line x1="578.48" y1="348" x2="578.48" y2="346" stroke="#000" stroke-width="0.6" />
<line x1="580.44" y1="348" x2="580.44" y2="346" stroke="#000" stroke-width="0.6" />
<line x1="582.4" y1="348" x2="582.4" y2="344.3" stroke="#000" stroke-width="0.6" />
<line x1="584.36" y1="348" x2="584.36" y2="346" stroke="#000" stroke-width="0.6" />
<line x1="586.32" y1="348" x2="586.32" y2="346" stroke="#000" stroke-width="0.6" />
<line x1="588.28" y1="348" x2="588.28" y2="346" stroke="#000" stroke-width="0.6" />
<line x1="590.24" y1="348" x2="590.24" y2="346" stroke="#000" stroke-width="0.6" />
<line x1="592.2" y1="348" x2="592.2" y2="344.3" stroke="#000" stroke-width="0.6" />
<line x1="594.16" y1="348" x2="594.16" y2="346" stroke="#000" stroke-width="0.6" />
<line x1="596.12" y1="348" x2="596.12" y2="346" stroke="#000" stroke-width="0.6" />
<line x1="598.08" y1="348" x2="598.08" y2="346" stroke="#000" stroke-width="0.6" />
<line x1="600.04" y1="348" x2="600.04" y2="346" stroke="#000" stroke-width="0.6" />
<line x1="602" y1="348" x2="602" y2="344.3" stroke="#000" stroke-width="0.6" />
<line x1="603.96" y1="348" x2="603.96" y2="346" stroke="#000" stroke-width="0.6" />
<line x1="605.92" y1="348" x2="605.92" y2="346" stroke="#000" stroke-width="0.6" />
<line x1="607.88" y1="348" x2="607.88" y2="346" stroke="#000" stroke-width="0.6" />
<line x1="609.84" y1="348" x2="609.84" y2="346" stroke="#000" stroke-width="0.6" />
<line x1="611.8" y1="348" x2="611.8" y2="344.3" stroke="#000" stroke-width="0.6" />
<line x1="613.76" y1="348" x2="613.76" y2="346" stroke="#000" stroke-width="0.6" />
<line x1="615.72" y1="348" x2="615.72" y2="346" stroke="#000" stroke-width="0.6" />
<line x1="617.68" y1="348" x2="617.68" y2="346" stroke="#000" stroke-width="0.6" />
<line x1="619.64" y1="348" x2="619.64" y2="346" stroke="#000" stroke-width="0.6" />
<line x1="621.6" y1="348" x2="621.6" y2="344.3" stroke="#000" stroke-width="0.6" />
<line x1="623.56" y1="348" x2="623.56" y2="346" stroke="#000" stroke-width="0.6" />
<line x1="625.52" y1="348" x2="625.52" y2="346" stroke="#000" stroke-width="0.6" />
<line x1="627.48" y1="348" x2="627.48" y2="346" stroke="#000" stroke-width="0.6" />
<line x1="629.44" y1="348" x2="629.44" y2="346" stroke="#000" stroke-width="0.6" />
<line x1="631.4" y1="348" x2="631.4" y2="344.3" stroke="#000" stroke-width="0.6" />
<line x1="633.36" y1="348" x2="633.36" y2="346" stroke="#000" stroke-width="0.6" />
<line x1="635.32" y1="348" x2="635.32" y2="346" stroke="#000" stroke-width="0.6" />
<line x1="637.28" y1="348" x2="637.28" y2="346" stroke="#000" stroke-width="0.6" />
<line x1="639.24" y1="348" x2="639.24" y2="346" stroke="#000" stroke-width="0.6" />
<line x1="641.2" y1="348" x2="641.2" y2="344.3" stroke="#000" stroke-width="0.6" />
<text x="554.2" y="341.2" font-size="4.3" text-anchor="middle" font-weight="bold" fill="#000" >35</text>
<text x="570" y="341.2" font-size="4.3" text-anchor="middle" font-weight="bold" fill="#000" >34</text>
<text x="588" y="341.2" font-size="4.3" text-anchor="middle" font-weight="bold" fill="#000" >33</text>
<text x="604.6" y="341.2" font-size="4.3" text-anchor="middle" font-weight="bold" fill="#000" >32</text>
<text x="622" y="341.2" font-size="4.3" text-anchor="middle" font-weight="bold" fill="#000" >31</text>
<text x="637.3" y="341.2" font-size="4.3" text-anchor="middle" font-weight="bold" fill="#000" >30</text>
</g>
<path d="M577.6 342.6 L581.6 342.6 L579.6 346.6 Z" fill="#000" stroke="#000" stroke-width="0.3" />
<line x1="579.6" y1="337.5" x2="579.6" y2="343" stroke="#000" stroke-width="0.7" />
<text x="595.5" y="356.3" font-size="4.4" text-anchor="middle" font-weight="normal" fill="#000" stroke="#000" stroke-width="0.14" >VELOCITY</text>
<text x="536" y="301.2" font-size="4.6" text-anchor="middle" font-weight="normal" fill="#000" stroke="#000" stroke-width="0.14" >G</text>
<rect x="560.8" y="367.6" width="68.2" height="11.9" rx="0" fill="#fff" stroke="#000" stroke-width="0.9" />
<line x1="566" y1="367.6" x2="566" y2="379.5" stroke="#000" stroke-width="0.6" />
<line x1="583.5" y1="367.6" x2="583.5" y2="379.5" stroke="#000" stroke-width="0.6" />
<line x1="605" y1="367.6" x2="605" y2="379.5" stroke="#000" stroke-width="0.6" />
<line x1="624" y1="367.6" x2="624" y2="379.5" stroke="#000" stroke-width="0.6" />
<circle cx="563.3" cy="373.6" r="1.5" fill="none" stroke="#000" stroke-width="0.6" />
<circle cx="626.5" cy="373.6" r="1.5" fill="none" stroke="#000" stroke-width="0.6" />
<text x="575" y="375.5" font-size="4.4" text-anchor="middle" font-weight="normal" fill="#000" stroke="#000" stroke-width="0.14" >.05 G</text>
<text x="614.5" y="372.4" font-size="4.2" text-anchor="middle" font-weight="normal" fill="#000" stroke="#000" stroke-width="0.14" >SPS</text>
<text x="614.5" y="377.6" font-size="4.2" text-anchor="middle" font-weight="normal" fill="#000" stroke="#000" stroke-width="0.14" >THRUST</text>
<rect x="555.5" y="379.5" width="79.5" height="3.7" rx="0" fill="#fff" stroke="#000" stroke-width="0.9" />
<rect x="555.5" y="376.5" width="2.5" height="6.7" rx="0" fill="#fff" stroke="#000" stroke-width="0.7" />
<rect x="632.5" y="376.5" width="2.5" height="6.7" rx="0" fill="#fff" stroke="#000" stroke-width="0.7" />
<path d="M581 383.2 L609 383.2 L606 391.8 L584 391.8 Z" fill="#fff" stroke="#000" stroke-width="0.9" />
<line x1="586" y1="386" x2="604" y2="386" stroke="#555" stroke-width="0.5" />
<line x1="587" y1="388" x2="603" y2="388" stroke="#555" stroke-width="0.5" />
<rect x="543.7" y="398" width="100" height="28.3" rx="9" fill="#fff" stroke="#000" stroke-width="1.2" />
<rect x="547.5" y="401.2" width="92.5" height="22" rx="7" fill="none" stroke="#000" stroke-width="0.6" />
<text x="595.5" y="420.3" font-size="20.5" text-anchor="middle" font-weight="normal" fill="#000" font-style="italic" font-family="DejaVu Sans Light,DejaVu Sans,sans-serif" font-weight="200" textLength="79" lengthAdjust="spacing">14000.0</text>
<path d="M544.3 430 V432.8 H583 M615 432.8 H643 V430" fill="none" stroke="#000" stroke-width="0.7" />
<text x="599" y="434.5" font-size="4.4" text-anchor="middle" font-weight="normal" fill="#000" stroke="#000" stroke-width="0.14" >ΔV/RANGE</text>
<text x="679" y="234.5" font-size="4.4" text-anchor="middle" font-weight="normal" fill="#000" stroke="#000" stroke-width="0.14" >GTA</text>
<path d="M668 240 H704 V302 Q704 306 700 308 H690 Q686 308 685 312 Q683 318.5 676.5 318.5 Q669 318.5 668.5 312 V240 Z" fill="#fff" stroke="#000" stroke-width="0.9" />
<line x1="668" y1="257.3" x2="704" y2="257.3" stroke="#000" stroke-width="0.6" />
<circle cx="685.5" cy="258" r="10.5" fill="none" stroke="#000" stroke-width="0.6" stroke-dasharray="2.5 1.5"/>
<circle cx="685.5" cy="258" r="4.6" fill="none" stroke="#000" stroke-width="0.6" />
<path d="M690.75 278.91 L696 288 L690.75 297.09 L680.25 297.09 L675 288 L680.25 278.91 Z" fill="none" stroke="#000" stroke-width="0.7" stroke-dasharray="2.5 1.2"/>
<circle cx="685.5" cy="288" r="7.5" fill="none" stroke="#000" stroke-width="0.6" stroke-dasharray="2 1.2"/>
<circle cx="685.5" cy="288" r="4.5" fill="none" stroke="#000" stroke-width="0.5" stroke-dasharray="1.5 1"/>
<circle cx="675.3" cy="312.5" r="4.3" fill="#fff" stroke="#000" stroke-width="0.8" />
<circle cx="675.3" cy="312.5" r="2.1" fill="none" stroke="#000" stroke-width="0.7" />
<text x="685.5" y="332.3" font-size="4.3" text-anchor="middle" font-weight="normal" fill="#000" stroke="#000" stroke-width="0.14" >ΔV/EMS SET</text>
<text x="685.5" y="337.3" font-size="4.3" text-anchor="middle" font-weight="normal" fill="#000" stroke="#000" stroke-width="0.14" >INCR</text>
<text x="685.5" y="412.8" font-size="4.3" text-anchor="middle" font-weight="normal" fill="#000" stroke="#000" stroke-width="0.14" >DECR</text>
<rect x="666.6" y="340.5" width="37.8" height="65.3" rx="0" fill="#fff" stroke="#000" stroke-width="1.3" />
<line x1="668.5" y1="342.5" x2="680" y2="342.5" stroke="#000" stroke-width="0.75" />
<line x1="668.5" y1="343.8" x2="680" y2="343.8" stroke="#000" stroke-width="0.75" />
<line x1="668.5" y1="345.1" x2="680" y2="345.1" stroke="#000" stroke-width="0.75" />
<line x1="668.5" y1="346.4" x2="680" y2="346.4" stroke="#000" stroke-width="0.75" />
<line x1="668.5" y1="347.7" x2="680" y2="347.7" stroke="#000" stroke-width="0.75" />
<line x1="668.5" y1="349" x2="680" y2="349" stroke="#000" stroke-width="0.75" />
<line x1="668.5" y1="350.3" x2="680" y2="350.3" stroke="#000" stroke-width="0.75" />
<line x1="668.5" y1="351.6" x2="680" y2="351.6" stroke="#000" stroke-width="0.75" />
<line x1="668.5" y1="352.9" x2="680" y2="352.9" stroke="#000" stroke-width="0.75" />
<line x1="668.5" y1="354.2" x2="680" y2="354.2" stroke="#000" stroke-width="0.75" />
<line x1="668.5" y1="355.5" x2="680" y2="355.5" stroke="#000" stroke-width="0.75" />
<line x1="668.5" y1="356.8" x2="680" y2="356.8" stroke="#000" stroke-width="0.75" />
<line x1="668.5" y1="358.1" x2="680" y2="358.1" stroke="#000" stroke-width="0.75" />
<line x1="668.5" y1="359.4" x2="680" y2="359.4" stroke="#000" stroke-width="0.75" />
<line x1="668.5" y1="360.7" x2="680" y2="360.7" stroke="#000" stroke-width="0.75" />
<line x1="668.5" y1="384" x2="680" y2="384" stroke="#000" stroke-width="0.75" />
<line x1="668.5" y1="385.3" x2="680" y2="385.3" stroke="#000" stroke-width="0.75" />
<line x1="668.5" y1="386.6" x2="680" y2="386.6" stroke="#000" stroke-width="0.75" />
<line x1="668.5" y1="387.9" x2="680" y2="387.9" stroke="#000" stroke-width="0.75" />
<line x1="668.5" y1="389.2" x2="680" y2="389.2" stroke="#000" stroke-width="0.75" />
<line x1="668.5" y1="390.5" x2="680" y2="390.5" stroke="#000" stroke-width="0.75" />
<line x1="668.5" y1="391.8" x2="680" y2="391.8" stroke="#000" stroke-width="0.75" />
<line x1="668.5" y1="393.1" x2="680" y2="393.1" stroke="#000" stroke-width="0.75" />
<line x1="668.5" y1="394.4" x2="680" y2="394.4" stroke="#000" stroke-width="0.75" />
<line x1="668.5" y1="395.7" x2="680" y2="395.7" stroke="#000" stroke-width="0.75" />
<line x1="668.5" y1="397" x2="680" y2="397" stroke="#000" stroke-width="0.75" />
<line x1="668.5" y1="398.3" x2="680" y2="398.3" stroke="#000" stroke-width="0.75" />
<line x1="668.5" y1="399.6" x2="680" y2="399.6" stroke="#000" stroke-width="0.75" />
<line x1="668.5" y1="400.9" x2="680" y2="400.9" stroke="#000" stroke-width="0.75" />
<line x1="668.5" y1="402.2" x2="680" y2="402.2" stroke="#000" stroke-width="0.75" />
<line x1="668.5" y1="403.5" x2="680" y2="403.5" stroke="#000" stroke-width="0.75" />
<line x1="691" y1="342.5" x2="702.5" y2="342.5" stroke="#000" stroke-width="0.75" />
<line x1="691" y1="343.8" x2="702.5" y2="343.8" stroke="#000" stroke-width="0.75" />
<line x1="691" y1="345.1" x2="702.5" y2="345.1" stroke="#000" stroke-width="0.75" />
<line x1="691" y1="346.4" x2="702.5" y2="346.4" stroke="#000" stroke-width="0.75" />
<line x1="691" y1="347.7" x2="702.5" y2="347.7" stroke="#000" stroke-width="0.75" />
<line x1="691" y1="349" x2="702.5" y2="349" stroke="#000" stroke-width="0.75" />
<line x1="691" y1="350.3" x2="702.5" y2="350.3" stroke="#000" stroke-width="0.75" />
<line x1="691" y1="351.6" x2="702.5" y2="351.6" stroke="#000" stroke-width="0.75" />
<line x1="691" y1="352.9" x2="702.5" y2="352.9" stroke="#000" stroke-width="0.75" />
<line x1="691" y1="354.2" x2="702.5" y2="354.2" stroke="#000" stroke-width="0.75" />
<line x1="691" y1="355.5" x2="702.5" y2="355.5" stroke="#000" stroke-width="0.75" />
<line x1="691" y1="356.8" x2="702.5" y2="356.8" stroke="#000" stroke-width="0.75" />
<line x1="691" y1="358.1" x2="702.5" y2="358.1" stroke="#000" stroke-width="0.75" />
<line x1="691" y1="359.4" x2="702.5" y2="359.4" stroke="#000" stroke-width="0.75" />
<line x1="691" y1="360.7" x2="702.5" y2="360.7" stroke="#000" stroke-width="0.75" />
<line x1="691" y1="384" x2="702.5" y2="384" stroke="#000" stroke-width="0.75" />
<line x1="691" y1="385.3" x2="702.5" y2="385.3" stroke="#000" stroke-width="0.75" />
<line x1="691" y1="386.6" x2="702.5" y2="386.6" stroke="#000" stroke-width="0.75" />
<line x1="691" y1="387.9" x2="702.5" y2="387.9" stroke="#000" stroke-width="0.75" />
<line x1="691" y1="389.2" x2="702.5" y2="389.2" stroke="#000" stroke-width="0.75" />
<line x1="691" y1="390.5" x2="702.5" y2="390.5" stroke="#000" stroke-width="0.75" />
<line x1="691" y1="391.8" x2="702.5" y2="391.8" stroke="#000" stroke-width="0.75" />
<line x1="691" y1="393.1" x2="702.5" y2="393.1" stroke="#000" stroke-width="0.75" />
<line x1="691" y1="394.4" x2="702.5" y2="394.4" stroke="#000" stroke-width="0.75" />
<line x1="691" y1="395.7" x2="702.5" y2="395.7" stroke="#000" stroke-width="0.75" />
<line x1="691" y1="397" x2="702.5" y2="397" stroke="#000" stroke-width="0.75" />
<line x1="691" y1="398.3" x2="702.5" y2="398.3" stroke="#000" stroke-width="0.75" />
<line x1="691" y1="399.6" x2="702.5" y2="399.6" stroke="#000" stroke-width="0.75" />
<line x1="691" y1="400.9" x2="702.5" y2="400.9" stroke="#000" stroke-width="0.75" />
<line x1="691" y1="402.2" x2="702.5" y2="402.2" stroke="#000" stroke-width="0.75" />
<line x1="691" y1="403.5" x2="702.5" y2="403.5" stroke="#000" stroke-width="0.75" />
<line x1="680.3" y1="341" x2="680.3" y2="362" stroke="#000" stroke-width="0.5" />
<line x1="690.7" y1="341" x2="690.7" y2="362" stroke="#000" stroke-width="0.5" />
<line x1="680.3" y1="384" x2="680.3" y2="405" stroke="#000" stroke-width="0.5" />
<line x1="690.7" y1="384" x2="690.7" y2="405" stroke="#000" stroke-width="0.5" />
<line x1="667" y1="362.3" x2="680.3" y2="362.3" stroke="#000" stroke-width="0.5" />
<line x1="690.7" y1="362.3" x2="704" y2="362.3" stroke="#000" stroke-width="0.5" />
<line x1="667" y1="383.7" x2="680.3" y2="383.7" stroke="#000" stroke-width="0.5" />
<line x1="690.7" y1="383.7" x2="704" y2="383.7" stroke="#000" stroke-width="0.5" />
<text x="576" y="469.5" font-size="4.5" text-anchor="middle" font-weight="normal" fill="#000" stroke="#000" stroke-width="0.14" >(A2)</text>
<circle cx="493.6" cy="559.4" r="104.6" fill="#fff" stroke="#000" stroke-width="1.9" />
<circle cx="493.6" cy="559.4" r="101.6" fill="none" stroke="#000" stroke-width="0.6" />
<circle cx="493.6" cy="558.6" r="83" fill="none" stroke="#000" stroke-width="0.6" />
<circle cx="493.6" cy="558.6" r="81" fill="none" stroke="#000" stroke-width="0.6" />
<circle cx="493.6" cy="558.6" r="70.5" fill="none" stroke="#f1f1f1" stroke-width="19" />
<circle cx="493.6" cy="558.6" r="72" fill="none" stroke="#000" stroke-width="0.6" />
<circle cx="493.6" cy="558.6" r="62.6" fill="none" stroke="#000" stroke-width="1.2" />
<circle cx="493.6" cy="558.6" r="59.8" fill="none" stroke="#000" stroke-width="0.6" />
<circle cx="493.6" cy="558.6" r="56.8" fill="#fff" stroke="#000" stroke-width="0.7" />
<line x1="443" y1="474" x2="414" y2="520" stroke="#000" stroke-width="0.6" />
<line x1="445.5" y1="474" x2="416.5" y2="521" stroke="#000" stroke-width="0.6" />
<path d="M531 466 Q538 466 541 471 L573 520" fill="none" stroke="#000" stroke-width="0.6" />
<path d="M531 468.5 Q536.5 468.5 539 472.5 L570.5 521" fill="none" stroke="#000" stroke-width="0.6" />
<clipPath id="ball"><circle cx="493.6" cy="558.6" r="49.3"/></clipPath>
<circle cx="493.6" cy="558.6" r="49.3" fill="#fff" stroke="#000" stroke-width="0.6" />
<g clip-path="url(#ball)">
<rect x="443.6" y="558.6" width="100" height="51" rx="0" fill="#000" stroke="#000" stroke-width="0" />
<line x1="443.6" y1="522.6" x2="543.6" y2="522.6" stroke="#000" stroke-width="0.5" />
<line x1="443.6" y1="540.6" x2="543.6" y2="540.6" stroke="#000" stroke-width="0.5" stroke-dasharray="3 2"/>
<line x1="458.6" y1="513.6" x2="458.6" y2="558.6" stroke="#000" stroke-width="0.6" stroke-dasharray="2.5 2"/>
<line x1="458.6" y1="558.6" x2="458.6" y2="603.6" stroke="#fff" stroke-width="0.6" stroke-dasharray="2.5 2"/>
<line x1="475.6" y1="513.6" x2="475.6" y2="558.6" stroke="#000" stroke-width="0.6" stroke-dasharray="2.5 2"/>
<line x1="475.6" y1="558.6" x2="475.6" y2="603.6" stroke="#fff" stroke-width="0.6" stroke-dasharray="2.5 2"/>
<line x1="511.6" y1="513.6" x2="511.6" y2="558.6" stroke="#000" stroke-width="0.6" stroke-dasharray="2.5 2"/>
<line x1="511.6" y1="558.6" x2="511.6" y2="603.6" stroke="#fff" stroke-width="0.6" stroke-dasharray="2.5 2"/>
<line x1="528.6" y1="513.6" x2="528.6" y2="558.6" stroke="#000" stroke-width="0.6" stroke-dasharray="2.5 2"/>
<line x1="528.6" y1="558.6" x2="528.6" y2="603.6" stroke="#fff" stroke-width="0.6" stroke-dasharray="2.5 2"/>
<line x1="443.6" y1="576.6" x2="543.6" y2="576.6" stroke="#fff" stroke-width="0.6" stroke-dasharray="3 2"/>
<line x1="443.6" y1="594.6" x2="543.6" y2="594.6" stroke="#fff" stroke-width="0.6" />
<line x1="451.6" y1="538.6" x2="451.6" y2="542.6" stroke="#000" stroke-width="0.4" />
<line x1="451.6" y1="574.6" x2="451.6" y2="578.6" stroke="#fff" stroke-width="0.4" />
<line x1="457.6" y1="538.6" x2="457.6" y2="542.6" stroke="#000" stroke-width="0.4" />
<line x1="457.6" y1="574.6" x2="457.6" y2="578.6" stroke="#fff" stroke-width="0.4" />
<line x1="463.6" y1="538.6" x2="463.6" y2="542.6" stroke="#000" stroke-width="0.4" />
<line x1="463.6" y1="574.6" x2="463.6" y2="578.6" stroke="#fff" stroke-width="0.4" />
<line x1="469.6" y1="538.6" x2="469.6" y2="542.6" stroke="#000" stroke-width="0.4" />
<line x1="469.6" y1="574.6" x2="469.6" y2="578.6" stroke="#fff" stroke-width="0.4" />
<line x1="475.6" y1="538.6" x2="475.6" y2="542.6" stroke="#000" stroke-width="0.4" />
<line x1="475.6" y1="574.6" x2="475.6" y2="578.6" stroke="#fff" stroke-width="0.4" />
<line x1="481.6" y1="538.6" x2="481.6" y2="542.6" stroke="#000" stroke-width="0.4" />
<line x1="481.6" y1="574.6" x2="481.6" y2="578.6" stroke="#fff" stroke-width="0.4" />
<line x1="487.6" y1="538.6" x2="487.6" y2="542.6" stroke="#000" stroke-width="0.4" />
<line x1="487.6" y1="574.6" x2="487.6" y2="578.6" stroke="#fff" stroke-width="0.4" />
<line x1="493.6" y1="538.6" x2="493.6" y2="542.6" stroke="#000" stroke-width="0.4" />
<line x1="493.6" y1="574.6" x2="493.6" y2="578.6" stroke="#fff" stroke-width="0.4" />
<line x1="499.6" y1="538.6" x2="499.6" y2="542.6" stroke="#000" stroke-width="0.4" />
<line x1="499.6" y1="574.6" x2="499.6" y2="578.6" stroke="#fff" stroke-width="0.4" />
<line x1="505.6" y1="538.6" x2="505.6" y2="542.6" stroke="#000" stroke-width="0.4" />
<line x1="505.6" y1="574.6" x2="505.6" y2="578.6" stroke="#fff" stroke-width="0.4" />
<line x1="511.6" y1="538.6" x2="511.6" y2="542.6" stroke="#000" stroke-width="0.4" />
<line x1="511.6" y1="574.6" x2="511.6" y2="578.6" stroke="#fff" stroke-width="0.4" />
<line x1="517.6" y1="538.6" x2="517.6" y2="542.6" stroke="#000" stroke-width="0.4" />
<line x1="517.6" y1="574.6" x2="517.6" y2="578.6" stroke="#fff" stroke-width="0.4" />
<line x1="523.6" y1="538.6" x2="523.6" y2="542.6" stroke="#000" stroke-width="0.4" />
<line x1="523.6" y1="574.6" x2="523.6" y2="578.6" stroke="#fff" stroke-width="0.4" />
<line x1="529.6" y1="538.6" x2="529.6" y2="542.6" stroke="#000" stroke-width="0.4" />
<line x1="529.6" y1="574.6" x2="529.6" y2="578.6" stroke="#fff" stroke-width="0.4" />
<line x1="535.6" y1="538.6" x2="535.6" y2="542.6" stroke="#000" stroke-width="0.4" />
<line x1="535.6" y1="574.6" x2="535.6" y2="578.6" stroke="#fff" stroke-width="0.4" />
<line x1="473.6" y1="516.6" x2="477.6" y2="516.6" stroke="#000" stroke-width="0.4" />
<line x1="509.6" y1="516.6" x2="513.6" y2="516.6" stroke="#000" stroke-width="0.4" />
<line x1="473.6" y1="522.6" x2="477.6" y2="522.6" stroke="#000" stroke-width="0.4" />
<line x1="509.6" y1="522.6" x2="513.6" y2="522.6" stroke="#000" stroke-width="0.4" />
<line x1="473.6" y1="528.6" x2="477.6" y2="528.6" stroke="#000" stroke-width="0.4" />
<line x1="509.6" y1="528.6" x2="513.6" y2="528.6" stroke="#000" stroke-width="0.4" />
<line x1="473.6" y1="534.6" x2="477.6" y2="534.6" stroke="#000" stroke-width="0.4" />
<line x1="509.6" y1="534.6" x2="513.6" y2="534.6" stroke="#000" stroke-width="0.4" />
<line x1="473.6" y1="540.6" x2="477.6" y2="540.6" stroke="#000" stroke-width="0.4" />
<line x1="509.6" y1="540.6" x2="513.6" y2="540.6" stroke="#000" stroke-width="0.4" />
<line x1="473.6" y1="546.6" x2="477.6" y2="546.6" stroke="#000" stroke-width="0.4" />
<line x1="509.6" y1="546.6" x2="513.6" y2="546.6" stroke="#000" stroke-width="0.4" />
<line x1="473.6" y1="552.6" x2="477.6" y2="552.6" stroke="#000" stroke-width="0.4" />
<line x1="509.6" y1="552.6" x2="513.6" y2="552.6" stroke="#000" stroke-width="0.4" />
<line x1="473.6" y1="558.6" x2="477.6" y2="558.6" stroke="#fff" stroke-width="0.4" />
<line x1="509.6" y1="558.6" x2="513.6" y2="558.6" stroke="#fff" stroke-width="0.4" />
<line x1="473.6" y1="564.6" x2="477.6" y2="564.6" stroke="#fff" stroke-width="0.4" />
<line x1="509.6" y1="564.6" x2="513.6" y2="564.6" stroke="#fff" stroke-width="0.4" />
<line x1="473.6" y1="570.6" x2="477.6" y2="570.6" stroke="#fff" stroke-width="0.4" />
<line x1="509.6" y1="570.6" x2="513.6" y2="570.6" stroke="#fff" stroke-width="0.4" />
<line x1="473.6" y1="576.6" x2="477.6" y2="576.6" stroke="#fff" stroke-width="0.4" />
<line x1="509.6" y1="576.6" x2="513.6" y2="576.6" stroke="#fff" stroke-width="0.4" />
<line x1="473.6" y1="582.6" x2="477.6" y2="582.6" stroke="#fff" stroke-width="0.4" />
<line x1="509.6" y1="582.6" x2="513.6" y2="582.6" stroke="#fff" stroke-width="0.4" />
<line x1="473.6" y1="588.6" x2="477.6" y2="588.6" stroke="#fff" stroke-width="0.4" />
<line x1="509.6" y1="588.6" x2="513.6" y2="588.6" stroke="#fff" stroke-width="0.4" />
<line x1="473.6" y1="594.6" x2="477.6" y2="594.6" stroke="#fff" stroke-width="0.4" />
<line x1="509.6" y1="594.6" x2="513.6" y2="594.6" stroke="#fff" stroke-width="0.4" />
<line x1="473.6" y1="600.6" x2="477.6" y2="600.6" stroke="#fff" stroke-width="0.4" />
<line x1="509.6" y1="600.6" x2="513.6" y2="600.6" stroke="#fff" stroke-width="0.4" />
</g>
<text x="475.5" y="526.5" font-size="4.6" text-anchor="middle" font-weight="bold" fill="#000" >3</text>
<text x="511.5" y="526.5" font-size="4.6" text-anchor="middle" font-weight="bold" fill="#000" >3</text>
<text x="459.5" y="546" font-size="4.6" text-anchor="middle" font-weight="bold" fill="#000" >33</text>
<text x="528" y="546" font-size="4.6" text-anchor="middle" font-weight="bold" fill="#000" >3</text>
<text x="459.5" y="578" font-size="4.6" text-anchor="middle" font-weight="bold" fill="#fff" >33</text>
<text x="528" y="578" font-size="4.6" text-anchor="middle" font-weight="bold" fill="#fff" >3</text>
<text x="475.5" y="596" font-size="4.6" text-anchor="middle" font-weight="bold" fill="#fff" >33</text>
<text x="511.5" y="596" font-size="4.6" text-anchor="middle" font-weight="bold" fill="#fff" >33</text>
<line x1="493.6" y1="509.1" x2="493.6" y2="505.6" stroke="#000" stroke-width="1.1" />
<line x1="500.06" y1="509.52" x2="500.39" y2="507.04" stroke="#000" stroke-width="1.1" />
<line x1="506.41" y1="510.79" x2="507.32" y2="507.41" stroke="#000" stroke-width="1.1" />
<line x1="512.54" y1="512.87" x2="513.5" y2="510.56" stroke="#000" stroke-width="1.1" />
<line x1="518.35" y1="515.73" x2="520.1" y2="512.7" stroke="#000" stroke-width="1.1" />
<line x1="523.73" y1="519.33" x2="525.26" y2="517.35" stroke="#000" stroke-width="1.1" />
<line x1="528.6" y1="523.6" x2="531.08" y2="521.12" stroke="#000" stroke-width="1.1" />
<line x1="532.87" y1="528.47" x2="534.85" y2="526.94" stroke="#000" stroke-width="1.1" />
<line x1="536.47" y1="533.85" x2="539.5" y2="532.1" stroke="#000" stroke-width="1.1" />
<line x1="539.33" y1="539.66" x2="541.64" y2="538.7" stroke="#000" stroke-width="1.1" />
<line x1="541.41" y1="545.79" x2="544.79" y2="544.88" stroke="#000" stroke-width="1.1" />
<line x1="542.68" y1="552.14" x2="545.16" y2="551.81" stroke="#000" stroke-width="1.1" />
<line x1="543.1" y1="558.6" x2="546.6" y2="558.6" stroke="#000" stroke-width="1.1" />
<line x1="542.68" y1="565.06" x2="545.16" y2="565.39" stroke="#000" stroke-width="1.1" />
<line x1="541.41" y1="571.41" x2="544.79" y2="572.32" stroke="#000" stroke-width="1.1" />
<line x1="539.33" y1="577.54" x2="541.64" y2="578.5" stroke="#000" stroke-width="1.1" />
<line x1="536.47" y1="583.35" x2="539.5" y2="585.1" stroke="#000" stroke-width="1.1" />
<line x1="532.87" y1="588.73" x2="534.85" y2="590.26" stroke="#000" stroke-width="1.1" />
<line x1="528.6" y1="593.6" x2="531.08" y2="596.08" stroke="#000" stroke-width="1.1" />
<line x1="523.73" y1="597.87" x2="525.26" y2="599.85" stroke="#000" stroke-width="1.1" />
<line x1="518.35" y1="601.47" x2="520.1" y2="604.5" stroke="#000" stroke-width="1.1" />
<line x1="512.54" y1="604.33" x2="513.5" y2="606.64" stroke="#000" stroke-width="1.1" />
<line x1="506.41" y1="606.41" x2="507.32" y2="609.79" stroke="#000" stroke-width="1.1" />
<line x1="500.06" y1="607.68" x2="500.39" y2="610.16" stroke="#000" stroke-width="1.1" />
<line x1="493.6" y1="608.1" x2="493.6" y2="611.6" stroke="#000" stroke-width="1.1" />
<line x1="487.14" y1="607.68" x2="486.81" y2="610.16" stroke="#000" stroke-width="1.1" />
<line x1="480.79" y1="606.41" x2="479.88" y2="609.79" stroke="#000" stroke-width="1.1" />
<line x1="474.66" y1="604.33" x2="473.7" y2="606.64" stroke="#000" stroke-width="1.1" />
<line x1="468.85" y1="601.47" x2="467.1" y2="604.5" stroke="#000" stroke-width="1.1" />
<line x1="463.47" y1="597.87" x2="461.94" y2="599.85" stroke="#000" stroke-width="1.1" />
<line x1="458.6" y1="593.6" x2="456.12" y2="596.08" stroke="#000" stroke-width="1.1" />
<line x1="454.33" y1="588.73" x2="452.35" y2="590.26" stroke="#000" stroke-width="1.1" />
<line x1="450.73" y1="583.35" x2="447.7" y2="585.1" stroke="#000" stroke-width="1.1" />
<line x1="447.87" y1="577.54" x2="445.56" y2="578.5" stroke="#000" stroke-width="1.1" />
<line x1="445.79" y1="571.41" x2="442.41" y2="572.32" stroke="#000" stroke-width="1.1" />
<line x1="444.52" y1="565.06" x2="442.04" y2="565.39" stroke="#000" stroke-width="1.1" />
<line x1="444.1" y1="558.6" x2="440.6" y2="558.6" stroke="#000" stroke-width="1.1" />
<line x1="444.52" y1="552.14" x2="442.04" y2="551.81" stroke="#000" stroke-width="1.1" />
<line x1="445.79" y1="545.79" x2="442.41" y2="544.88" stroke="#000" stroke-width="1.1" />
<line x1="447.87" y1="539.66" x2="445.56" y2="538.7" stroke="#000" stroke-width="1.1" />
<line x1="450.73" y1="533.85" x2="447.7" y2="532.1" stroke="#000" stroke-width="1.1" />
<line x1="454.33" y1="528.47" x2="452.35" y2="526.94" stroke="#000" stroke-width="1.1" />
<line x1="458.6" y1="523.6" x2="456.12" y2="521.12" stroke="#000" stroke-width="1.1" />
<line x1="463.47" y1="519.33" x2="461.94" y2="517.35" stroke="#000" stroke-width="1.1" />
<line x1="468.85" y1="515.73" x2="467.1" y2="512.7" stroke="#000" stroke-width="1.1" />
<line x1="474.66" y1="512.87" x2="473.7" y2="510.56" stroke="#000" stroke-width="1.1" />
<line x1="480.79" y1="510.79" x2="479.88" y2="507.41" stroke="#000" stroke-width="1.1" />
<line x1="487.14" y1="509.52" x2="486.81" y2="507.04" stroke="#000" stroke-width="1.1" />
<line x1="507.84" y1="505.47" x2="508.35" y2="503.54" stroke="#000" stroke-width="0.9" />
<line x1="532.49" y1="519.71" x2="533.91" y2="518.29" stroke="#000" stroke-width="0.9" />
<line x1="546.73" y1="544.36" x2="548.66" y2="543.85" stroke="#000" stroke-width="0.9" />
<line x1="546.73" y1="572.84" x2="548.66" y2="573.35" stroke="#000" stroke-width="0.9" />
<line x1="532.49" y1="597.49" x2="533.91" y2="598.91" stroke="#000" stroke-width="0.9" />
<line x1="507.84" y1="611.73" x2="508.35" y2="613.66" stroke="#000" stroke-width="0.9" />
<line x1="479.36" y1="611.73" x2="478.85" y2="613.66" stroke="#000" stroke-width="0.9" />
<line x1="454.71" y1="597.49" x2="453.29" y2="598.91" stroke="#000" stroke-width="0.9" />
<line x1="440.47" y1="572.84" x2="438.54" y2="573.35" stroke="#000" stroke-width="0.9" />
<line x1="440.47" y1="544.36" x2="438.54" y2="543.85" stroke="#000" stroke-width="0.9" />
<line x1="454.71" y1="519.71" x2="453.29" y2="518.29" stroke="#000" stroke-width="0.9" />
<line x1="479.36" y1="505.47" x2="478.85" y2="503.54" stroke="#000" stroke-width="0.9" />
<line x1="437.7" y1="558.6" x2="555" y2="558.6" stroke="#000" stroke-width="1.3" />
<line x1="493.6" y1="499.4" x2="493.6" y2="617" stroke="#000" stroke-width="1.1" />
<rect x="491.9" y="514" width="3.4" height="46" rx="0" fill="#bbb" stroke="#000" stroke-width="0.6" />
<rect x="492.4" y="562" width="2.4" height="50" rx="0" fill="#ccc" stroke="#000" stroke-width="0.5" />
<path d="M493.6 509 L498.1 518 L495.3 518 L495.3 514 L491.9 514 L491.9 518 L489.1 518 Z" fill="#fff" stroke="#000" stroke-width="0.6" />
<path d="M471.6 559.8000000000001 H486.6 A7 7 0 0 0 500.6 559.8000000000001 H515.6" fill="none" stroke="#fff" stroke-width="1.4" />
<path d="M486.1 559.1 A7.5 7.5 0 0 0 501.1 559.1" fill="none" stroke="#000" stroke-width="0.5" />
<rect x="506.5" y="560.5" width="12" height="5" rx="1" fill="#fff" stroke="#000" stroke-width="0.4" />
<text x="512.5" y="564.6" font-size="3.8" text-anchor="middle" font-weight="bold" fill="#000" >0</text>
<rect x="432.6" y="441.6" width="97.9" height="33" rx="1" fill="#f3f3f3" stroke="#000" stroke-width="1.0" />
<line x1="450.5" y1="441.6" x2="450.5" y2="474.6" stroke="#000" stroke-width="0.7" />
<line x1="477.3" y1="441.6" x2="477.3" y2="474.6" stroke="#000" stroke-width="0.7" />
<line x1="503.8" y1="441.6" x2="503.8" y2="474.6" stroke="#000" stroke-width="0.7" />
<line x1="432.6" y1="450.4" x2="530.5" y2="450.4" stroke="#000" stroke-width="0.7" />
<line x1="432.6" y1="462.6" x2="530.5" y2="462.6" stroke="#000" stroke-width="0.7" />
<text x="441.5" y="447.5" font-size="3.4" text-anchor="middle" font-weight="bold" fill="#000" >RATE</text>
<text x="464" y="447.5" font-size="3.4" text-anchor="middle" font-weight="bold" fill="#000" >ATT DB MIN</text>
<text x="490.5" y="447.5" font-size="3.4" text-anchor="middle" font-weight="bold" fill="#000" >ATT DB MAX</text>
<text x="517" y="445.8" font-size="3.4" text-anchor="middle" font-weight="bold" fill="#000" >MANUR</text>
<text x="517" y="449.6" font-size="3.4" text-anchor="middle" font-weight="bold" fill="#000" >RATE</text>
<text x="441.5" y="458" font-size="3.4" text-anchor="middle" font-weight="bold" fill="#000" >LOW</text>
<text x="441.5" y="470" font-size="3.4" text-anchor="middle" font-weight="bold" fill="#000" >HIGH</text>
<text x="463" y="454.6" font-size="2.9" text-anchor="middle" font-weight="bold" fill="#000" >1.2°</text>
<text x="463.8" y="457.8" font-size="2.9" text-anchor="middle" font-weight="bold" fill="#000" >1.2°/sec</text>
<text x="464.6" y="461" font-size="2.9" text-anchor="middle" font-weight="bold" fill="#000" >4.2 lb/hr</text>
<text x="463" y="466.8" font-size="2.9" text-anchor="middle" font-weight="bold" fill="#000" >1.2°</text>
<text x="463.8" y="470" font-size="2.9" text-anchor="middle" font-weight="bold" fill="#000" >1.2°/sec</text>
<text x="464.6" y="473.2" font-size="2.9" text-anchor="middle" font-weight="bold" fill="#000" >4.2 lb/hr</text>
<text x="489.5" y="454.6" font-size="2.9" text-anchor="middle" font-weight="bold" fill="#000" >1.2°</text>
<text x="490.3" y="457.8" font-size="2.9" text-anchor="middle" font-weight="bold" fill="#000" >1.2°/sec</text>
<text x="491.1" y="461" font-size="2.9" text-anchor="middle" font-weight="bold" fill="#000" >4.2 lb/hr</text>
<text x="489.5" y="466.8" font-size="2.9" text-anchor="middle" font-weight="bold" fill="#000" >1.2°</text>
<text x="490.3" y="470" font-size="2.9" text-anchor="middle" font-weight="bold" fill="#000" >1.2°/sec</text>
<text x="491.1" y="473.2" font-size="2.9" text-anchor="middle" font-weight="bold" fill="#000" >4.2 lb/hr</text>
<text x="517" y="458" font-size="3" text-anchor="middle" font-weight="bold" fill="#000" >1.7°/sec</text>
<text x="517" y="468.5" font-size="3" text-anchor="middle" font-weight="bold" fill="#000" >18°/sec</text>
<text x="517" y="472" font-size="3" text-anchor="middle" font-weight="bold" fill="#000" >7°/sec</text>
<path d="M455 478.8 L532.5 478.8 L540 485.5 L447.4 485.5 Z" fill="#fff" stroke="#000" stroke-width="0.6" />
<path d="M447.4 485.5 H540 V491.5 Q540 493.5 538 493.2 Q493.6 481 449.4 493.2 Q447.4 493.5 447.4 491.5 Z" fill="#000" stroke="#000" stroke-width="0.5" />
<path d="M490.2 479.3 L497 479.3 L493.6 486.6 Z" fill="#000" stroke="#000" stroke-width="0.3" />
<line x1="454.6" y1="486.5" x2="454.6" y2="490" stroke="#fff" stroke-width="0.6" />
<line x1="532.6" y1="486.5" x2="532.6" y2="490" stroke="#fff" stroke-width="0.6" />
<path d="M455 639.5 L532.5 639.5 L541 631.5 L447.4 631.5 Z" fill="#fff" stroke="#000" stroke-width="0.6" />
<path d="M447.9 631.5 H541 V624.5 Q541 622.5 539 622.8 Q493.6 636 449.9 622.8 Q447.9 622.5 447.9 624.5 Z" fill="#000" stroke="#000" stroke-width="0.5" />
<path d="M490.2 638.8 L497 638.8 L493.6 631.2 Z" fill="#000" stroke="#000" stroke-width="0.3" />
<line x1="454.6" y1="626.5" x2="454.6" y2="630" stroke="#fff" stroke-width="0.6" />
<line x1="532.6" y1="626.5" x2="532.6" y2="630" stroke="#fff" stroke-width="0.6" />
<path d="M571.5 521 L571.5 596 L566 602.6 L566 514.2 Z" fill="#fff" stroke="#000" stroke-width="0.6" />
<path d="M566.3 514.2 V602.6 H560.4 Q558.2 602.6 558.6 600.6 Q570 558.6 558.6 516.2 Q558.2 514.2 560.4 514.2 Z" fill="#000" stroke="#000" stroke-width="0.5" />
<path d="M571 555.4 L571 562 L564.5 558.6 Z" fill="#000" stroke="#000" stroke-width="0.3" />
<line x1="562" y1="521.6" x2="565.5" y2="521.6" stroke="#fff" stroke-width="0.6" />
<line x1="562" y1="595.6" x2="565.5" y2="595.6" stroke="#fff" stroke-width="0.6" />
<circle cx="427.4" cy="659.5" r="4.4" fill="#fff" stroke="#000" stroke-width="0.9" />
<circle cx="427.4" cy="659.5" r="2.55" fill="#f6f6f6" stroke="#000" stroke-width="0.6" />
<line x1="425.2" y1="659.5" x2="429.6" y2="659.5" stroke="#000" stroke-width="0.8" />
<line x1="427.4" y1="657.3" x2="427.4" y2="661.7" stroke="#000" stroke-width="0.8" />
<circle cx="374.8" cy="379.3" r="5.4" fill="#fff" stroke="#000" stroke-width="0.8" />
<circle cx="374.8" cy="379.3" r="4.32" fill="none" stroke="#000" stroke-width="0.4" />
<path d="M373.72 375.95 H375.88 V378.22 H378.15 V380.38 H375.88 V382.65 H373.72 V380.38 H371.45 V378.22 H373.72 Z" fill="#fff" stroke="#000" stroke-width="0.6" />
<circle cx="374.8" cy="424.4" r="5.4" fill="#fff" stroke="#000" stroke-width="0.8" />
<circle cx="374.8" cy="424.4" r="4.32" fill="none" stroke="#000" stroke-width="0.4" />
<path d="M373.72 421.05 H375.88 V423.32 H378.15 V425.48 H375.88 V427.75 H373.72 V425.48 H371.45 V423.32 H373.72 Z" fill="#fff" stroke="#000" stroke-width="0.6" />
<rect x="355.5" y="387.3" width="36.7" height="29.3" rx="1.5" fill="#fff" stroke="#000" stroke-width="3.2" />
<text x="373.8" y="401" font-size="4.6" text-anchor="middle" font-weight="bold" fill="#000" >MASTER</text>
<text x="373.8" y="407.2" font-size="4.6" text-anchor="middle" font-weight="bold" fill="#000" >ALARM</text>
<text x="349" y="403" font-size="4.3" text-anchor="middle" font-weight="normal" fill="#000" stroke="#000" stroke-width="0.14" >(S1)</text>
<circle cx="317.4" cy="387" r="7" fill="#fff" stroke="#000" stroke-width="0.9" />
<circle cx="317.4" cy="387" r="3.3" fill="none" stroke="#000" stroke-width="0.9" />
<text x="343.5" y="455.6" font-size="4.5" text-anchor="middle" font-weight="normal" fill="#000" stroke="#000" stroke-width="0.14" >(M2)</text>
<rect x="305.7" y="457.2" width="75.6" height="82.8" rx="5" fill="none" stroke="#000" stroke-width="0.6" />
<rect x="308" y="459.3" width="71" height="76.5" rx="4" fill="#fff" stroke="#000" stroke-width="1.0" />
<line x1="308" y1="531.2" x2="379" y2="531.2" stroke="#000" stroke-width="0.7" />
<circle cx="314" cy="466" r="4.8" fill="#fff" stroke="#000" stroke-width="0.8" />
<circle cx="314" cy="466" r="3" fill="none" stroke="#000" stroke-width="0.5" />
<path d="M314 464 L315.73 465 L315.73 467 L314 468 L312.27 467 L312.27 465 Z" fill="none" stroke="#000" stroke-width="0.5" />
<circle cx="372" cy="466" r="4.8" fill="#fff" stroke="#000" stroke-width="0.8" />
<circle cx="372" cy="466" r="3" fill="none" stroke="#000" stroke-width="0.5" />
<path d="M372 464 L373.73 465 L373.73 467 L372 468 L370.27 467 L370.27 465 Z" fill="none" stroke="#000" stroke-width="0.5" />
<circle cx="314" cy="523.8" r="4.8" fill="#fff" stroke="#000" stroke-width="0.8" />
<circle cx="314" cy="523.8" r="3" fill="none" stroke="#000" stroke-width="0.5" />
<path d="M314 521.8 L315.73 522.8 L315.73 524.8 L314 525.8 L312.27 524.8 L312.27 522.8 Z" fill="none" stroke="#000" stroke-width="0.5" />
<circle cx="372" cy="523.8" r="4.8" fill="#fff" stroke="#000" stroke-width="0.8" />
<circle cx="372" cy="523.8" r="3" fill="none" stroke="#000" stroke-width="0.5" />
<path d="M372 521.8 L373.73 522.8 L373.73 524.8 L372 525.8 L370.27 524.8 L370.27 522.8 Z" fill="none" stroke="#000" stroke-width="0.5" />
<circle cx="343.4" cy="495.2" r="30.5" fill="none" stroke="#000" stroke-width="0.6" />
<circle cx="343.4" cy="495.2" r="29.3" fill="#fff" stroke="#000" stroke-width="1.0" />
<path d="M343.4 495.2 L316.2 504.04 A28.6 28.6 0 0 0 358.98 519.19 Z" fill="#000" stroke="#000" stroke-width="0.3" />
<circle cx="343.9" cy="496.7" r="15" fill="#000" stroke="#000" stroke-width="0" />
<line x1="314.84" y1="493.7" x2="320.93" y2="494.02" stroke="#000" stroke-width="1.3" />
<text x="324.63" y="495.72" font-size="4" text-anchor="middle" font-weight="bold" fill="#000" >0</text>
<line x1="317.92" y1="482.22" x2="323.35" y2="484.99" stroke="#000" stroke-width="1.3" />
<text x="326.65" y="488.16" font-size="4" text-anchor="middle" font-weight="bold" fill="#000" >2</text>
<line x1="329.1" y1="470.43" x2="332.15" y2="475.71" stroke="#000" stroke-width="1.3" />
<text x="334" y="480.42" font-size="4" text-anchor="middle" font-weight="bold" fill="#000" >4</text>
<line x1="342.9" y1="466.6" x2="343.01" y2="472.7" stroke="#000" stroke-width="1.3" />
<text x="343.07" y="477.9" font-size="4" text-anchor="middle" font-weight="bold" fill="#000" >6</text>
<line x1="356.38" y1="469.72" x2="353.61" y2="475.15" stroke="#000" stroke-width="1.3" />
<text x="351.94" y="479.95" font-size="4" text-anchor="middle" font-weight="bold" fill="#000" >8</text>
<line x1="367.91" y1="480.47" x2="362.69" y2="483.61" stroke="#000" stroke-width="1.3" />
<text x="359.51" y="487.02" font-size="4" text-anchor="middle" font-weight="bold" fill="#000" >10</text>
<line x1="372" y1="494.7" x2="365.9" y2="494.81" stroke="#000" stroke-width="1.3" />
<text x="362.2" y="496.37" font-size="4" text-anchor="middle" font-weight="bold" fill="#000" >12</text>
<line x1="368.17" y1="509.5" x2="362.89" y2="506.45" stroke="#000" stroke-width="1.3" />
<text x="359.68" y="506.1" font-size="4" text-anchor="middle" font-weight="bold" fill="#000" >14</text>
<line x1="362.16" y1="516.78" x2="358.16" y2="512.18" stroke="#000" stroke-width="1.3" />
<text x="355.73" y="510.89" font-size="4" text-anchor="middle" font-weight="bold" fill="#000" >15</text>
<line x1="315.53" y1="501.63" x2="319.53" y2="500.71" stroke="#000" stroke-width="1.0" />
<line x1="315.77" y1="487.8" x2="319.73" y2="488.86" stroke="#000" stroke-width="1.0" />
<line x1="322.65" y1="475.51" x2="325.63" y2="478.34" stroke="#000" stroke-width="1.0" />
<line x1="335.76" y1="467.64" x2="336.85" y2="471.59" stroke="#000" stroke-width="1.0" />
<line x1="349.83" y1="467.33" x2="348.91" y2="471.33" stroke="#000" stroke-width="1.0" />
<line x1="362.91" y1="474.28" x2="360.11" y2="477.28" stroke="#000" stroke-width="1.0" />
<line x1="370.89" y1="487.32" x2="366.95" y2="488.45" stroke="#000" stroke-width="1.0" />
<line x1="371.09" y1="502.36" x2="367.12" y2="501.33" stroke="#000" stroke-width="1.0" />
<line x1="365.31" y1="513.58" x2="362.17" y2="510.95" stroke="#000" stroke-width="1.0" />
<text x="334" y="502" font-size="3.8" text-anchor="middle" font-weight="bold" fill="#000" >-1</text>
<path d="M325.72 477.52 L331.66 487.58 L335.78 483.46 Z" fill="#000" stroke="#000" stroke-width="0.3" />
<text x="343.5" y="514.5" font-size="4.8" text-anchor="middle" font-weight="bold" fill="#fff" >ACCEL</text>
<text x="343.5" y="521.5" font-size="4.8" text-anchor="middle" font-weight="bold" fill="#fff" >G</text>
<text x="283" y="473.5" font-size="4.5" text-anchor="middle" font-weight="normal" fill="#000" stroke="#000" stroke-width="0.14" >CMC ATT</text>
<text x="283" y="478.5" font-size="4.3" text-anchor="middle" font-weight="normal" fill="#000" stroke="#000" stroke-width="0.14" >IMU</text>
<text x="281.3" y="527.8" font-size="4.5" text-anchor="middle" font-weight="normal" fill="#000" stroke="#000" stroke-width="0.14" >GDC</text>
<rect x="260.4" y="482.1" width="42.7" height="37.7" rx="5.6" fill="#fff" stroke="#888" stroke-width="0.7" />
<rect x="261" y="482.7" width="41.5" height="36.5" rx="5" fill="#fff" stroke="#000" stroke-width="1.2" />
<rect x="262.8" y="484.5" width="37.9" height="32.9" rx="3.5" fill="none" stroke="#555" stroke-width="0.5" />
<line x1="266.5" y1="487.5" x2="297" y2="487.5" stroke="#000" stroke-width="0.7" />
<line x1="266.5" y1="513.9" x2="297" y2="513.9" stroke="#000" stroke-width="0.7" />
<rect x="264.8" y="485" width="3.4" height="31.9" rx="0.8" fill="#fff" stroke="#000" stroke-width="0.8" />
<rect x="295.3" y="485" width="3.4" height="31.9" rx="0.8" fill="#fff" stroke="#000" stroke-width="0.8" />
<path d="M271.8 501.7 L276.6 491.8 L287.8 491.8 L292.6 501.7 L287.8 511.6 L276.6 511.6 Z" fill="#fff" stroke="#000" stroke-width="1.4" />
<path d="M273.88 501.7 L277.72 493.78 L286.68 493.78 L290.52 501.7 L286.68 509.62 L277.72 509.62 Z" fill="#c8c8c8" stroke="#222" stroke-width="0.6" />
<path d="M274.9 502.7 A7.6 7.6 0 0 1 289.5 502.7 L288.2 508.5 H276.2 Z" fill="#fff" stroke="#000" stroke-width="0.7" />
<path d="M276.8 501.9 H281 V500.5 H283.4 V501.9 H287.6 L288.2 509.1 H276.2 Z" fill="#8a8a8a" stroke="#000" stroke-width="1.1" />
<line x1="277.2" y1="505.3" x2="287.2" y2="505.3" stroke="#333" stroke-width="0.9" />
<rect x="276.8" y="486.8" width="10.8" height="4" rx="0" fill="#fff" stroke="#000" stroke-width="0" />
<text x="282.2" y="490.3" font-size="4.8" text-anchor="middle" font-weight="normal" fill="#000" stroke="#000" stroke-width="0.14" >(S2)</text>
<circle cx="298.3" cy="450.5" r="4.5" fill="#fff" stroke="#000" stroke-width="0.9" />
<circle cx="298.3" cy="450.5" r="2.61" fill="#f6f6f6" stroke="#000" stroke-width="0.6" />
<line x1="296.05" y1="450.5" x2="300.55" y2="450.5" stroke="#000" stroke-width="0.8" />
<line x1="298.3" y1="448.25" x2="298.3" y2="452.75" stroke="#000" stroke-width="0.8" />
<circle cx="297.5" cy="527.5" r="4.5" fill="#fff" stroke="#000" stroke-width="0.9" />
<circle cx="297.5" cy="527.5" r="2.61" fill="#f6f6f6" stroke="#000" stroke-width="0.6" />
<line x1="295.25" y1="527.5" x2="299.75" y2="527.5" stroke="#000" stroke-width="0.8" />
<line x1="297.5" y1="525.25" x2="297.5" y2="529.75" stroke="#000" stroke-width="0.8" />
<circle cx="378.4" cy="545.3" r="4.5" fill="#fff" stroke="#000" stroke-width="0.9" />
<circle cx="378.4" cy="545.3" r="2.61" fill="#f6f6f6" stroke="#000" stroke-width="0.6" />
<line x1="376.15" y1="545.3" x2="380.65" y2="545.3" stroke="#000" stroke-width="0.8" />
<line x1="378.4" y1="543.05" x2="378.4" y2="547.55" stroke="#000" stroke-width="0.8" />
<text x="362.3" y="548" font-size="4.5" text-anchor="middle" font-weight="normal" fill="#000" stroke="#000" stroke-width="0.14" >ATT SET</text>
<text x="362.3" y="553" font-size="4.3" text-anchor="middle" font-weight="normal" fill="#000" stroke="#000" stroke-width="0.14" >IMU</text>
<text x="657.7" y="459.3" font-size="4.3" text-anchor="middle" font-weight="normal" fill="#000" stroke="#000" stroke-width="0.14" >(XDS1)</text>
<rect x="632.6" y="461.8" width="50.9" height="28.4" rx="2.5" fill="#fff" stroke="#000" stroke-width="0.9" />
<rect x="637.6" y="466" width="41.9" height="20.2" rx="0.5" fill="none" stroke="#000" stroke-width="0.9" />
<text x="658.4" y="481.8" font-size="14.5" text-anchor="middle" font-weight="bold" fill="#000" font-family="DejaVu Sans Condensed,DejaVu Sans,sans-serif" textLength="27" lengthAdjust="spacingAndGlyphs">ABORT</text>
<circle cx="625" cy="476.2" r="5.3" fill="#fff" stroke="#000" stroke-width="0.8" />
<circle cx="625" cy="476.2" r="4.24" fill="none" stroke="#000" stroke-width="0.4" />
<path d="M623.94 472.91 H626.06 V475.14 H628.29 V477.26 H626.06 V479.49 H623.94 V477.26 H621.71 V475.14 H623.94 Z" fill="#fff" stroke="#000" stroke-width="0.6" />
<circle cx="691.8" cy="476.2" r="5.3" fill="#fff" stroke="#000" stroke-width="0.8" />
<circle cx="691.8" cy="476.2" r="4.24" fill="none" stroke="#000" stroke-width="0.4" />
<path d="M690.74 472.91 H692.86 V475.14 H695.09 V477.26 H692.86 V479.49 H690.74 V477.26 H688.51 V475.14 H690.74 Z" fill="#fff" stroke="#000" stroke-width="0.6" />
<circle cx="629" cy="496.4" r="5.3" fill="#fff" stroke="#000" stroke-width="0.8" />
<circle cx="629" cy="496.4" r="4.24" fill="none" stroke="#000" stroke-width="0.4" />
<path d="M627.94 493.11 H630.06 V495.34 H632.29 V497.46 H630.06 V499.69 H627.94 V497.46 H625.71 V495.34 H627.94 Z" fill="#fff" stroke="#000" stroke-width="0.6" />
<circle cx="704.3" cy="494.5" r="5.3" fill="#fff" stroke="#000" stroke-width="0.8" />
<circle cx="704.3" cy="494.5" r="4.24" fill="none" stroke="#000" stroke-width="0.4" />
<path d="M703.24 491.21 H705.36 V493.44 H707.59 V495.56 H705.36 V497.79 H703.24 V495.56 H701.01 V493.44 H703.24 Z" fill="#fff" stroke="#000" stroke-width="0.6" />
<circle cx="629" cy="545.4" r="5.3" fill="#fff" stroke="#000" stroke-width="0.8" />
<circle cx="629" cy="545.4" r="4.24" fill="none" stroke="#000" stroke-width="0.4" />
<path d="M627.94 542.11 H630.06 V544.34 H632.29 V546.46 H630.06 V548.69 H627.94 V546.46 H625.71 V544.34 H627.94 Z" fill="#fff" stroke="#000" stroke-width="0.6" />
<circle cx="703.6" cy="545.4" r="5.3" fill="#fff" stroke="#000" stroke-width="0.8" />
<circle cx="703.6" cy="545.4" r="4.24" fill="none" stroke="#000" stroke-width="0.4" />
<path d="M702.54 542.11 H704.66 V544.34 H706.89 V546.46 H704.66 V548.69 H702.54 V546.46 H700.31 V544.34 H702.54 Z" fill="#fff" stroke="#000" stroke-width="0.6" />
<text x="665.3" y="502" font-size="4.3" text-anchor="middle" font-weight="normal" fill="#000" stroke="#000" stroke-width="0.14" >(M3)</text>
<rect x="636.8" y="503.5" width="56.4" height="24.6" rx="2" fill="#000" stroke="#000" stroke-width="0" />
<text x="654" y="513.4" font-size="4.6" text-anchor="middle" font-weight="bold" fill="#fff" >MIN</text>
<text x="679" y="513.4" font-size="4.6" text-anchor="middle" font-weight="bold" fill="#fff" >SEC</text>
<text x="654" y="525.5" font-size="8" text-anchor="middle" font-weight="normal" fill="#fff" letter-spacing="0.8">44</text>
<text x="679" y="525.5" font-size="8" text-anchor="middle" font-weight="normal" fill="#fff" letter-spacing="0.8">32</text>
<text x="660" y="559.3" font-size="4.3" text-anchor="middle" font-weight="normal" fill="#000" stroke="#000" stroke-width="0.14" >(XDS2)</text>
<rect x="625.5" y="562.7" width="68.2" height="101.1" rx="1.5" fill="#fff" stroke="#000" stroke-width="1.0" />
<circle cx="638.7" cy="575.5" r="7.8" fill="#fff" stroke="#000" stroke-width="0.9" />
<circle cx="638.7" cy="575.5" r="6.6" fill="none" stroke="#000" stroke-width="0.4" />
<text x="638.7" y="574.5" font-size="4.4" text-anchor="middle" font-weight="normal" fill="#000" stroke="#000" stroke-width="0.14" >LV</text>
<text x="638.7" y="578.7" font-size="4.4" text-anchor="middle" font-weight="normal" fill="#000" stroke="#000" stroke-width="0.14" >RATE</text>
<circle cx="659.6" cy="575.5" r="7.8" fill="#fff" stroke="#000" stroke-width="0.9" />
<circle cx="659.6" cy="575.5" r="6.6" fill="none" stroke="#000" stroke-width="0.4" />
<text x="659.6" y="574.5" font-size="4.4" text-anchor="middle" font-weight="normal" fill="#000" stroke="#000" stroke-width="0.14" >SII</text>
<text x="659.6" y="578.7" font-size="4.4" text-anchor="middle" font-weight="normal" fill="#000" stroke="#000" stroke-width="0.14" >SEP</text>
<circle cx="680.7" cy="575.5" r="7.8" fill="#fff" stroke="#000" stroke-width="0.9" />
<circle cx="680.7" cy="575.5" r="6.6" fill="none" stroke="#000" stroke-width="0.4" />
<text x="680.7" y="574.5" font-size="4.4" text-anchor="middle" font-weight="normal" fill="#000" stroke="#000" stroke-width="0.14" >LV</text>
<text x="680.7" y="578.7" font-size="4.4" text-anchor="middle" font-weight="normal" fill="#000" stroke="#000" stroke-width="0.14" >GUID</text>
<text x="659.6" y="593.2" font-size="4.5" text-anchor="middle" font-weight="normal" fill="#000" stroke="#000" stroke-width="0.14" >LV ENGINES</text>
<circle cx="648.7" cy="604" r="7.8" fill="#fff" stroke="#000" stroke-width="1.0" />
<text x="648.7" y="607.2" font-size="9" text-anchor="middle" font-weight="bold" fill="#000" >4</text>
<circle cx="670" cy="604" r="7.8" fill="#fff" stroke="#000" stroke-width="1.0" />
<text x="670" y="607.2" font-size="9" text-anchor="middle" font-weight="bold" fill="#000" >1</text>
<circle cx="659.3" cy="623.6" r="7.8" fill="#fff" stroke="#000" stroke-width="1.0" />
<text x="659.3" y="626.8" font-size="9" text-anchor="middle" font-weight="bold" fill="#000" >5</text>
<circle cx="648.7" cy="642.5" r="7.8" fill="#fff" stroke="#000" stroke-width="1.0" />
<text x="648.7" y="645.7" font-size="9" text-anchor="middle" font-weight="bold" fill="#000" >3</text>
<circle cx="670" cy="642.5" r="7.8" fill="#fff" stroke="#000" stroke-width="1.0" />
<text x="670" y="645.7" font-size="9" text-anchor="middle" font-weight="bold" fill="#000" >2</text>
<circle cx="620.3" cy="574.3" r="3.6" fill="#fff" stroke="#000" stroke-width="0.9" />
<circle cx="620.3" cy="574.3" r="2.09" fill="#f6f6f6" stroke="#000" stroke-width="0.6" />
<line x1="618.5" y1="574.3" x2="622.1" y2="574.3" stroke="#000" stroke-width="0.8" />
<line x1="620.3" y1="572.5" x2="620.3" y2="576.1" stroke="#000" stroke-width="0.8" />
<circle cx="699.6" cy="574.3" r="3.6" fill="#fff" stroke="#000" stroke-width="0.9" />
<circle cx="699.6" cy="574.3" r="2.09" fill="#f6f6f6" stroke="#000" stroke-width="0.6" />
<line x1="697.8" y1="574.3" x2="701.4" y2="574.3" stroke="#000" stroke-width="0.8" />
<line x1="699.6" y1="572.5" x2="699.6" y2="576.1" stroke="#000" stroke-width="0.8" />
<circle cx="620.3" cy="593.5" r="3.6" fill="#fff" stroke="#000" stroke-width="0.9" />
<circle cx="620.3" cy="593.5" r="2.09" fill="#f6f6f6" stroke="#000" stroke-width="0.6" />
<line x1="618.5" y1="593.5" x2="622.1" y2="593.5" stroke="#000" stroke-width="0.8" />
<line x1="620.3" y1="591.7" x2="620.3" y2="595.3" stroke="#000" stroke-width="0.8" />
<circle cx="699.6" cy="593.5" r="3.6" fill="#fff" stroke="#000" stroke-width="0.9" />
<circle cx="699.6" cy="593.5" r="2.09" fill="#f6f6f6" stroke="#000" stroke-width="0.6" />
<line x1="697.8" y1="593.5" x2="701.4" y2="593.5" stroke="#000" stroke-width="0.8" />
<line x1="699.6" y1="591.7" x2="699.6" y2="595.3" stroke="#000" stroke-width="0.8" />
<circle cx="620.3" cy="612.9" r="3.6" fill="#fff" stroke="#000" stroke-width="0.9" />
<circle cx="620.3" cy="612.9" r="2.09" fill="#f6f6f6" stroke="#000" stroke-width="0.6" />
<line x1="618.5" y1="612.9" x2="622.1" y2="612.9" stroke="#000" stroke-width="0.8" />
<line x1="620.3" y1="611.1" x2="620.3" y2="614.7" stroke="#000" stroke-width="0.8" />
<circle cx="699.6" cy="612.9" r="3.6" fill="#fff" stroke="#000" stroke-width="0.9" />
<circle cx="699.6" cy="612.9" r="2.09" fill="#f6f6f6" stroke="#000" stroke-width="0.6" />
<line x1="697.8" y1="612.9" x2="701.4" y2="612.9" stroke="#000" stroke-width="0.8" />
<line x1="699.6" y1="611.1" x2="699.6" y2="614.7" stroke="#000" stroke-width="0.8" />
<circle cx="620.3" cy="632.3" r="3.6" fill="#fff" stroke="#000" stroke-width="0.9" />
<circle cx="620.3" cy="632.3" r="2.09" fill="#f6f6f6" stroke="#000" stroke-width="0.6" />
<line x1="618.5" y1="632.3" x2="622.1" y2="632.3" stroke="#000" stroke-width="0.8" />
<line x1="620.3" y1="630.5" x2="620.3" y2="634.1" stroke="#000" stroke-width="0.8" />
<circle cx="699.6" cy="632.3" r="3.6" fill="#fff" stroke="#000" stroke-width="0.9" />
<circle cx="699.6" cy="632.3" r="2.09" fill="#f6f6f6" stroke="#000" stroke-width="0.6" />
<line x1="697.8" y1="632.3" x2="701.4" y2="632.3" stroke="#000" stroke-width="0.8" />
<line x1="699.6" y1="630.5" x2="699.6" y2="634.1" stroke="#000" stroke-width="0.8" />
<circle cx="620.3" cy="651.5" r="3.6" fill="#fff" stroke="#000" stroke-width="0.9" />
<circle cx="620.3" cy="651.5" r="2.09" fill="#f6f6f6" stroke="#000" stroke-width="0.6" />
<line x1="618.5" y1="651.5" x2="622.1" y2="651.5" stroke="#000" stroke-width="0.8" />
<line x1="620.3" y1="649.7" x2="620.3" y2="653.3" stroke="#000" stroke-width="0.8" />
<circle cx="699.6" cy="651.5" r="3.6" fill="#fff" stroke="#000" stroke-width="0.9" />
<circle cx="699.6" cy="651.5" r="2.09" fill="#f6f6f6" stroke="#000" stroke-width="0.6" />
<line x1="697.8" y1="651.5" x2="701.4" y2="651.5" stroke="#000" stroke-width="0.8" />
<line x1="699.6" y1="649.7" x2="699.6" y2="653.3" stroke="#000" stroke-width="0.8" />
<path d="M215 548.2 V545 H274.38 M290.62 545 H343.5 V548.2" fill="none" stroke="#000" stroke-width="1.0" />
<text x="282.5" y="546.7" font-size="4.6" text-anchor="middle" font-weight="normal" fill="#000" stroke="#000" stroke-width="0.14" >FDAI</text>
<text x="226.5" y="552" font-size="4.6" text-anchor="middle" font-weight="normal" fill="#000" stroke="#000" stroke-width="0.14" >SCALE</text>
<text x="260" y="552" font-size="4.6" text-anchor="middle" font-weight="normal" fill="#000" stroke="#000" stroke-width="0.14" >SELECT</text>
<text x="329.6" y="552" font-size="4.6" text-anchor="middle" font-weight="normal" fill="#000" stroke="#000" stroke-width="0.14" >SOURCE</text>
<rect x="205.3" y="556.9" width="76.3" height="40.7" rx="5.6" fill="#fff" stroke="#888" stroke-width="0.7" />
<rect x="205.9" y="557.5" width="75.1" height="39.5" rx="5" fill="#fff" stroke="#000" stroke-width="1.2" />
<rect x="207.7" y="559.3" width="71.5" height="35.9" rx="3.5" fill="none" stroke="#555" stroke-width="0.5" />
<line x1="211.4" y1="562.3" x2="275.5" y2="562.3" stroke="#000" stroke-width="0.7" />
<line x1="211.4" y1="591.7" x2="275.5" y2="591.7" stroke="#000" stroke-width="0.7" />
<rect x="209.7" y="559.8" width="3.4" height="34.9" rx="0.8" fill="#fff" stroke="#000" stroke-width="0.8" />
<rect x="242.8" y="559.8" width="3.4" height="34.9" rx="0.8" fill="#fff" stroke="#000" stroke-width="0.8" />
<rect x="273.8" y="559.8" width="3.4" height="34.9" rx="0.8" fill="#fff" stroke="#000" stroke-width="0.8" />
<path d="M218.3 576.6 L223.1 566.7 L234.3 566.7 L239.1 576.6 L234.3 586.5 L223.1 586.5 Z" fill="#fff" stroke="#000" stroke-width="1.4" />
<path d="M220.38 576.6 L224.22 568.68 L233.18 568.68 L237.02 576.6 L233.18 584.52 L224.22 584.52 Z" fill="#a2a2a2" stroke="#222" stroke-width="0.6" />
<rect x="223" y="570.4" width="11.4" height="12.6" rx="1.2" fill="#cfcfcf" stroke="#000" stroke-width="1.1" />
<rect x="223.8" y="576.9" width="9.8" height="3.6" rx="0" fill="#444" stroke="#000" stroke-width="0" />
<line x1="223.8" y1="573.8" x2="233.6" y2="573.8" stroke="#333" stroke-width="0.7" />
<line x1="223.8" y1="581.8" x2="233.6" y2="581.8" stroke="#333" stroke-width="0.6" />
<rect x="223.3" y="561.7" width="10.8" height="4" rx="0" fill="#fff" stroke="#000" stroke-width="0" />
<text x="228.7" y="565.2" font-size="4.8" text-anchor="middle" font-weight="normal" fill="#000" stroke="#000" stroke-width="0.14" >(S3)</text>
<path d="M249.9 576.6 L254.7 566.7 L265.9 566.7 L270.7 576.6 L265.9 586.5 L254.7 586.5 Z" fill="#fff" stroke="#000" stroke-width="1.4" />
<path d="M251.98 576.6 L255.82 568.68 L264.78 568.68 L268.62 576.6 L264.78 584.52 L255.82 584.52 Z" fill="#a2a2a2" stroke="#222" stroke-width="0.6" />
<rect x="254.6" y="570.4" width="11.4" height="12.6" rx="1.2" fill="#cfcfcf" stroke="#000" stroke-width="1.1" />
<rect x="255.4" y="576.9" width="9.8" height="3.6" rx="0" fill="#444" stroke="#000" stroke-width="0" />
<line x1="255.4" y1="573.8" x2="265.2" y2="573.8" stroke="#333" stroke-width="0.7" />
<line x1="255.4" y1="581.8" x2="265.2" y2="581.8" stroke="#333" stroke-width="0.6" />
<rect x="254.9" y="561.7" width="10.8" height="4" rx="0" fill="#fff" stroke="#000" stroke-width="0" />
<text x="260.3" y="565.2" font-size="4.8" text-anchor="middle" font-weight="normal" fill="#000" stroke="#000" stroke-width="0.14" >(S4)</text>
<rect x="310.4" y="556.9" width="70.2" height="40.7" rx="5.6" fill="#fff" stroke="#888" stroke-width="0.7" />
<rect x="311" y="557.5" width="69" height="39.5" rx="5" fill="#fff" stroke="#000" stroke-width="1.2" />
<rect x="312.8" y="559.3" width="65.4" height="35.9" rx="3.5" fill="none" stroke="#555" stroke-width="0.5" />
<line x1="316.5" y1="562.3" x2="374.5" y2="562.3" stroke="#000" stroke-width="0.7" />
<line x1="316.5" y1="591.7" x2="374.5" y2="591.7" stroke="#000" stroke-width="0.7" />
<rect x="314.8" y="559.8" width="3.4" height="34.9" rx="0.8" fill="#fff" stroke="#000" stroke-width="0.8" />
<rect x="343.65" y="559.8" width="3.4" height="34.9" rx="0.8" fill="#fff" stroke="#000" stroke-width="0.8" />
<rect x="372.8" y="559.8" width="3.4" height="34.9" rx="0.8" fill="#fff" stroke="#000" stroke-width="0.8" />
<path d="M319.6 576.6 L324.4 566.7 L335.6 566.7 L340.4 576.6 L335.6 586.5 L324.4 586.5 Z" fill="#fff" stroke="#000" stroke-width="1.4" />
<path d="M321.68 576.6 L325.52 568.68 L334.48 568.68 L338.32 576.6 L334.48 584.52 L325.52 584.52 Z" fill="#a2a2a2" stroke="#222" stroke-width="0.6" />
<rect x="324.3" y="570.4" width="11.4" height="12.6" rx="1.2" fill="#cfcfcf" stroke="#000" stroke-width="1.1" />
<rect x="325.1" y="576.9" width="9.8" height="3.6" rx="0" fill="#444" stroke="#000" stroke-width="0" />
<line x1="325.1" y1="573.8" x2="334.9" y2="573.8" stroke="#333" stroke-width="0.7" />
<line x1="325.1" y1="581.8" x2="334.9" y2="581.8" stroke="#333" stroke-width="0.6" />
<rect x="324.6" y="561.7" width="10.8" height="4" rx="0" fill="#fff" stroke="#000" stroke-width="0" />
<text x="330" y="565.2" font-size="4.8" text-anchor="middle" font-weight="normal" fill="#000" stroke="#000" stroke-width="0.14" >(S5)</text>
<path d="M350.3 576.6 L355.1 566.7 L366.3 566.7 L371.1 576.6 L366.3 586.5 L355.1 586.5 Z" fill="#fff" stroke="#000" stroke-width="1.4" />
<path d="M352.38 576.6 L356.22 568.68 L365.18 568.68 L369.02 576.6 L365.18 584.52 L356.22 584.52 Z" fill="#c8c8c8" stroke="#222" stroke-width="0.6" />
<path d="M353.4 577.6 A7.6 7.6 0 0 1 368 577.6 L366.7 583.4 H354.7 Z" fill="#fff" stroke="#000" stroke-width="0.7" />
<path d="M355.3 576.8 H359.5 V575.4 H361.9 V576.8 H366.1 L366.7 584 H354.7 Z" fill="#8a8a8a" stroke="#000" stroke-width="1.1" />
<line x1="355.7" y1="580.2" x2="365.7" y2="580.2" stroke="#333" stroke-width="0.9" />
<rect x="355.3" y="561.7" width="10.8" height="4" rx="0" fill="#fff" stroke="#000" stroke-width="0" />
<text x="360.7" y="565.2" font-size="4.8" text-anchor="middle" font-weight="normal" fill="#000" stroke="#000" stroke-width="0.14" >(S6)</text>
<text x="185.6" y="567" font-size="4.0" text-anchor="middle" font-weight="normal" fill="#000" stroke="#000" stroke-width="0.14" >ERR</text>
<text x="199.3" y="567" font-size="4.0" text-anchor="middle" font-weight="normal" fill="#000" stroke="#000" stroke-width="0.14" >RATE</text>
<text x="188.5" y="575.5" font-size="4.0" text-anchor="middle" font-weight="normal" fill="#000" stroke="#000" stroke-width="0.14" >5</text>
<text x="196.5" y="575.5" font-size="4.0" text-anchor="middle" font-weight="normal" fill="#000" stroke="#000" stroke-width="0.14" >1</text>
<text x="188.5" y="584" font-size="4.0" text-anchor="middle" font-weight="normal" fill="#000" stroke="#000" stroke-width="0.14" >5</text>
<text x="196.5" y="584" font-size="4.0" text-anchor="middle" font-weight="normal" fill="#000" stroke="#000" stroke-width="0.14" >5</text>
<text x="184.6" y="592.3" font-size="4.0" text-anchor="middle" font-weight="normal" fill="#000" stroke="#000" stroke-width="0.14" >50/15</text>
<text x="199.8" y="592.3" font-size="4.0" text-anchor="middle" font-weight="normal" fill="#000" stroke="#000" stroke-width="0.14" >50/10</text>
<line x1="192.8" y1="563.5" x2="192.8" y2="593" stroke="#000" stroke-width="0.6" />
<text x="291" y="565" font-size="4.4" text-anchor="middle" font-weight="normal" fill="#000" stroke="#000" stroke-width="0.14" >1/2</text>
<text x="302" y="565" font-size="4.4" text-anchor="middle" font-weight="normal" fill="#000" stroke="#000" stroke-width="0.14" >CMC</text>
<text x="291" y="577" font-size="4.4" text-anchor="middle" font-weight="normal" fill="#000" stroke="#000" stroke-width="0.14" >2</text>
<text x="302" y="575.5" font-size="4.4" text-anchor="middle" font-weight="normal" fill="#000" stroke="#000" stroke-width="0.14" >ATT</text>
<text x="302" y="580.3" font-size="4.4" text-anchor="middle" font-weight="normal" fill="#000" stroke="#000" stroke-width="0.14" >SET</text>
<text x="291" y="593" font-size="4.4" text-anchor="middle" font-weight="normal" fill="#000" stroke="#000" stroke-width="0.14" >1</text>
<text x="302" y="593" font-size="4.4" text-anchor="middle" font-weight="normal" fill="#000" stroke="#000" stroke-width="0.14" >GDC</text>
<text x="362.5" y="603.5" font-size="4.4" text-anchor="middle" font-weight="normal" fill="#000" stroke="#000" stroke-width="0.14" >GDC</text>
<circle cx="172" cy="576.5" r="4.4" fill="#fff" stroke="#000" stroke-width="0.9" />
<circle cx="172" cy="576.5" r="2.55" fill="#f6f6f6" stroke="#000" stroke-width="0.6" />
<line x1="169.8" y1="576.5" x2="174.2" y2="576.5" stroke="#000" stroke-width="0.8" />
<line x1="172" y1="574.3" x2="172" y2="578.7" stroke="#000" stroke-width="0.8" />
<path d="M161.4 616.2 V613 H182.06 M234.74 613 H247 V616.2" fill="none" stroke="#000" stroke-width="1.0" />
<text x="208.4" y="614.7" font-size="4.6" text-anchor="middle" font-weight="normal" fill="#000" stroke="#000" stroke-width="0.14" >MANUAL ATTITUDE</text>
<rect x="155.2" y="625.7" width="227.2" height="40.6" rx="5.6" fill="#fff" stroke="#888" stroke-width="0.7" />
<rect x="155.8" y="626.3" width="226" height="39.4" rx="5" fill="#fff" stroke="#000" stroke-width="1.2" />
<rect x="157.6" y="628.1" width="222.4" height="35.8" rx="3.5" fill="none" stroke="#555" stroke-width="0.5" />
<line x1="161.3" y1="631.1" x2="376.3" y2="631.1" stroke="#000" stroke-width="0.7" />
<line x1="161.3" y1="660.4" x2="376.3" y2="660.4" stroke="#000" stroke-width="0.7" />
<rect x="159.6" y="628.6" width="3.4" height="34.8" rx="0.8" fill="#fff" stroke="#000" stroke-width="0.8" />
<rect x="188.8" y="628.6" width="3.4" height="34.8" rx="0.8" fill="#fff" stroke="#000" stroke-width="0.8" />
<rect x="219.4" y="628.6" width="3.4" height="34.8" rx="0.8" fill="#fff" stroke="#000" stroke-width="0.8" />
<rect x="249.8" y="628.6" width="3.4" height="34.8" rx="0.8" fill="#fff" stroke="#000" stroke-width="0.8" />
<rect x="281.35" y="628.6" width="3.4" height="34.8" rx="0.8" fill="#fff" stroke="#000" stroke-width="0.8" />
<rect x="312.6" y="628.6" width="3.4" height="34.8" rx="0.8" fill="#fff" stroke="#000" stroke-width="0.8" />
<rect x="342.7" y="628.6" width="3.4" height="34.8" rx="0.8" fill="#fff" stroke="#000" stroke-width="0.8" />
<rect x="374.6" y="628.6" width="3.4" height="34.8" rx="0.8" fill="#fff" stroke="#000" stroke-width="0.8" />
<path d="M164.8 646.6 L169.6 636.7 L180.8 636.7 L185.6 646.6 L180.8 656.5 L169.6 656.5 Z" fill="#fff" stroke="#000" stroke-width="1.4" />
<path d="M166.88 646.6 L170.72 638.68 L179.68 638.68 L183.52 646.6 L179.68 654.52 L170.72 654.52 Z" fill="#a2a2a2" stroke="#222" stroke-width="0.6" />
<rect x="169.5" y="640.4" width="11.4" height="12.6" rx="1.2" fill="#cfcfcf" stroke="#000" stroke-width="1.1" />
<rect x="170.3" y="646.9" width="9.8" height="3.6" rx="0" fill="#444" stroke="#000" stroke-width="0" />
<line x1="170.3" y1="643.8" x2="180.1" y2="643.8" stroke="#333" stroke-width="0.7" />
<line x1="170.3" y1="651.8" x2="180.1" y2="651.8" stroke="#333" stroke-width="0.6" />
<rect x="169.8" y="631.7" width="10.8" height="4" rx="0" fill="#fff" stroke="#000" stroke-width="0" />
<text x="175.2" y="635.2" font-size="4.8" text-anchor="middle" font-weight="normal" fill="#000" stroke="#000" stroke-width="0.14" >(S7)</text>
<path d="M195.4 646.6 L200.2 636.7 L211.4 636.7 L216.2 646.6 L211.4 656.5 L200.2 656.5 Z" fill="#fff" stroke="#000" stroke-width="1.4" />
<path d="M197.48 646.6 L201.32 638.68 L210.28 638.68 L214.12 646.6 L210.28 654.52 L201.32 654.52 Z" fill="#a2a2a2" stroke="#222" stroke-width="0.6" />
<rect x="200.1" y="640.4" width="11.4" height="12.6" rx="1.2" fill="#cfcfcf" stroke="#000" stroke-width="1.1" />
<rect x="200.9" y="646.9" width="9.8" height="3.6" rx="0" fill="#444" stroke="#000" stroke-width="0" />
<line x1="200.9" y1="643.8" x2="210.7" y2="643.8" stroke="#333" stroke-width="0.7" />
<line x1="200.9" y1="651.8" x2="210.7" y2="651.8" stroke="#333" stroke-width="0.6" />
<rect x="200.4" y="631.7" width="10.8" height="4" rx="0" fill="#fff" stroke="#000" stroke-width="0" />
<text x="205.8" y="635.2" font-size="4.8" text-anchor="middle" font-weight="normal" fill="#000" stroke="#000" stroke-width="0.14" >(S8)</text>
<path d="M226 646.6 L230.8 636.7 L242 636.7 L246.8 646.6 L242 656.5 L230.8 656.5 Z" fill="#fff" stroke="#000" stroke-width="1.4" />
<path d="M228.08 646.6 L231.92 638.68 L240.88 638.68 L244.72 646.6 L240.88 654.52 L231.92 654.52 Z" fill="#a2a2a2" stroke="#222" stroke-width="0.6" />
<rect x="230.7" y="640.4" width="11.4" height="12.6" rx="1.2" fill="#cfcfcf" stroke="#000" stroke-width="1.1" />
<rect x="231.5" y="646.9" width="9.8" height="3.6" rx="0" fill="#444" stroke="#000" stroke-width="0" />
<line x1="231.5" y1="643.8" x2="241.3" y2="643.8" stroke="#333" stroke-width="0.7" />
<line x1="231.5" y1="651.8" x2="241.3" y2="651.8" stroke="#333" stroke-width="0.6" />
<rect x="231" y="631.7" width="10.8" height="4" rx="0" fill="#fff" stroke="#000" stroke-width="0" />
<text x="236.4" y="635.2" font-size="4.8" text-anchor="middle" font-weight="normal" fill="#000" stroke="#000" stroke-width="0.14" >(S9)</text>
<path d="M256.2 646.6 L261 636.7 L272.2 636.7 L277 646.6 L272.2 656.5 L261 656.5 Z" fill="#fff" stroke="#000" stroke-width="1.4" />
<path d="M258.28 646.6 L262.12 638.68 L271.08 638.68 L274.92 646.6 L271.08 654.52 L262.12 654.52 Z" fill="#c8c8c8" stroke="#222" stroke-width="0.6" />
<path d="M259.3 647.6 A7.6 7.6 0 0 1 273.9 647.6 L272.6 653.4 H260.6 Z" fill="#fff" stroke="#000" stroke-width="0.7" />
<path d="M261.2 646.8 H265.4 V645.4 H267.8 V646.8 H272 L272.6 654 H260.6 Z" fill="#8a8a8a" stroke="#000" stroke-width="1.1" />
<line x1="261.6" y1="650.2" x2="271.6" y2="650.2" stroke="#333" stroke-width="0.9" />
<rect x="259.85" y="631.7" width="13.5" height="4" rx="0" fill="#fff" stroke="#000" stroke-width="0" />
<text x="266.6" y="635.2" font-size="4.8" text-anchor="middle" font-weight="normal" fill="#000" stroke="#000" stroke-width="0.14" >(S10)</text>
<path d="M289.1 646.6 L293.9 636.7 L305.1 636.7 L309.9 646.6 L305.1 656.5 L293.9 656.5 Z" fill="#fff" stroke="#000" stroke-width="1.4" />
<path d="M291.18 646.6 L295.02 638.68 L303.98 638.68 L307.82 646.6 L303.98 654.52 L295.02 654.52 Z" fill="#c8c8c8" stroke="#222" stroke-width="0.6" />
<path d="M292.2 647.6 A7.6 7.6 0 0 1 306.8 647.6 L305.5 653.4 H293.5 Z" fill="#fff" stroke="#000" stroke-width="0.7" />
<path d="M294.1 646.8 H298.3 V645.4 H300.7 V646.8 H304.9 L305.5 654 H293.5 Z" fill="#8a8a8a" stroke="#000" stroke-width="1.1" />
<line x1="294.5" y1="650.2" x2="304.5" y2="650.2" stroke="#333" stroke-width="0.9" />
<rect x="292.75" y="631.7" width="13.5" height="4" rx="0" fill="#fff" stroke="#000" stroke-width="0" />
<text x="299.5" y="635.2" font-size="4.8" text-anchor="middle" font-weight="normal" fill="#000" stroke="#000" stroke-width="0.14" >(S11)</text>
<path d="M318.7 646.6 L323.5 636.7 L334.7 636.7 L339.5 646.6 L334.7 656.5 L323.5 656.5 Z" fill="#fff" stroke="#000" stroke-width="1.4" />
<path d="M320.78 646.6 L324.62 638.68 L333.58 638.68 L337.42 646.6 L333.58 654.52 L324.62 654.52 Z" fill="#c8c8c8" stroke="#222" stroke-width="0.6" />
<path d="M321.8 647.6 A7.6 7.6 0 0 1 336.4 647.6 L335.1 653.4 H323.1 Z" fill="#fff" stroke="#000" stroke-width="0.7" />
<path d="M323.7 646.8 H327.9 V645.4 H330.3 V646.8 H334.5 L335.1 654 H323.1 Z" fill="#8a8a8a" stroke="#000" stroke-width="1.1" />
<line x1="324.1" y1="650.2" x2="334.1" y2="650.2" stroke="#333" stroke-width="0.9" />
<rect x="322.35" y="631.7" width="13.5" height="4" rx="0" fill="#fff" stroke="#000" stroke-width="0" />
<text x="329.1" y="635.2" font-size="4.8" text-anchor="middle" font-weight="normal" fill="#000" stroke="#000" stroke-width="0.14" >(S12)</text>
<path d="M349.3 646.6 L354.1 636.7 L365.3 636.7 L370.1 646.6 L365.3 656.5 L354.1 656.5 Z" fill="#fff" stroke="#000" stroke-width="1.4" />
<path d="M351.38 646.6 L355.22 638.68 L364.18 638.68 L368.02 646.6 L364.18 654.52 L355.22 654.52 Z" fill="#c8c8c8" stroke="#222" stroke-width="0.6" />
<path d="M352.4 647.6 A7.6 7.6 0 0 1 367 647.6 L365.7 653.4 H353.7 Z" fill="#fff" stroke="#000" stroke-width="0.7" />
<path d="M354.3 646.8 H358.5 V645.4 H360.9 V646.8 H365.1 L365.7 654 H353.7 Z" fill="#8a8a8a" stroke="#000" stroke-width="1.1" />
<line x1="354.7" y1="650.2" x2="364.7" y2="650.2" stroke="#333" stroke-width="0.9" />
<rect x="352.95" y="631.7" width="13.5" height="4" rx="0" fill="#fff" stroke="#000" stroke-width="0" />
<text x="359.7" y="635.2" font-size="4.8" text-anchor="middle" font-weight="normal" fill="#000" stroke="#000" stroke-width="0.14" >(S46)</text>
<text x="173" y="622.8" font-size="4.4" text-anchor="middle" font-weight="normal" fill="#000" stroke="#000" stroke-width="0.14" >ROLL</text>
<text x="204" y="622.8" font-size="4.4" text-anchor="middle" font-weight="normal" fill="#000" stroke="#000" stroke-width="0.14" >PITCH</text>
<text x="235.4" y="622.8" font-size="4.4" text-anchor="middle" font-weight="normal" fill="#000" stroke="#000" stroke-width="0.14" >YAW</text>
<text x="266.6" y="617.8" font-size="4.4" text-anchor="middle" font-weight="normal" fill="#000" stroke="#000" stroke-width="0.14" >LIMIT</text>
<text x="266.6" y="622.8" font-size="4.4" text-anchor="middle" font-weight="normal" fill="#000" stroke="#000" stroke-width="0.14" >CYCLE</text>
<text x="299.5" y="612.4" font-size="4.4" text-anchor="middle" font-weight="normal" fill="#000" stroke="#000" stroke-width="0.14" >ATT</text>
<text x="299.5" y="617.8" font-size="4.4" text-anchor="middle" font-weight="normal" fill="#000" stroke="#000" stroke-width="0.14" >DEADBAND</text>
<text x="299.5" y="622.8" font-size="4.4" text-anchor="middle" font-weight="normal" fill="#000" stroke="#000" stroke-width="0.14" >MAX</text>
<text x="328" y="617.8" font-size="4.4" text-anchor="middle" font-weight="normal" fill="#000" stroke="#000" stroke-width="0.14" >RATE</text>
<text x="328" y="622.8" font-size="4.4" text-anchor="middle" font-weight="normal" fill="#000" stroke="#000" stroke-width="0.14" >HIGH</text>
<text x="360.4" y="617.8" font-size="4.4" text-anchor="middle" font-weight="normal" fill="#000" stroke="#000" stroke-width="0.14" >TRANS CONTR</text>
<text x="360.4" y="622.8" font-size="4.4" text-anchor="middle" font-weight="normal" fill="#000" stroke="#000" stroke-width="0.14" >PWR</text>
<text x="266.6" y="674.8" font-size="4.4" text-anchor="middle" font-weight="normal" fill="#000" stroke="#000" stroke-width="0.14" >OFF</text>
<text x="299.5" y="674.8" font-size="4.4" text-anchor="middle" font-weight="normal" fill="#000" stroke="#000" stroke-width="0.14" >MIN</text>
<text x="328" y="674.8" font-size="4.4" text-anchor="middle" font-weight="normal" fill="#000" stroke="#000" stroke-width="0.14" >LOW</text>
<text x="360.4" y="674.8" font-size="4.4" text-anchor="middle" font-weight="normal" fill="#000" stroke="#000" stroke-width="0.14" >OFF</text>
<text x="143.6" y="631.2" font-size="4.4" text-anchor="middle" font-weight="normal" fill="#000" stroke="#000" stroke-width="0.14" >ACCEL</text>
<text x="143.6" y="636" font-size="4.4" text-anchor="middle" font-weight="normal" fill="#000" stroke="#000" stroke-width="0.14" >CMD</text>
<text x="143.6" y="644" font-size="4.4" text-anchor="middle" font-weight="normal" fill="#000" stroke="#000" stroke-width="0.14" >RATE</text>
<text x="143.6" y="648.8" font-size="4.4" text-anchor="middle" font-weight="normal" fill="#000" stroke="#000" stroke-width="0.14" >CMD</text>
<text x="143.6" y="660" font-size="4.4" text-anchor="middle" font-weight="normal" fill="#000" stroke="#000" stroke-width="0.14" >MIN</text>
<text x="143.6" y="664.8" font-size="4.4" text-anchor="middle" font-weight="normal" fill="#000" stroke="#000" stroke-width="0.14" >IMP</text>
<circle cx="205.8" cy="677.2" r="4.4" fill="#fff" stroke="#000" stroke-width="0.9" />
<circle cx="205.8" cy="677.2" r="2.55" fill="#f6f6f6" stroke="#000" stroke-width="0.6" />
<line x1="203.6" y1="677.2" x2="208" y2="677.2" stroke="#000" stroke-width="0.8" />
<line x1="205.8" y1="675" x2="205.8" y2="679.4" stroke="#000" stroke-width="0.8" />
<circle cx="316" cy="677.2" r="4.4" fill="#fff" stroke="#000" stroke-width="0.9" />
<circle cx="316" cy="677.2" r="2.55" fill="#f6f6f6" stroke="#000" stroke-width="0.6" />
<line x1="313.8" y1="677.2" x2="318.2" y2="677.2" stroke="#000" stroke-width="0.8" />
<line x1="316" y1="675" x2="316" y2="679.4" stroke="#000" stroke-width="0.8" />
<circle cx="389.5" cy="620" r="4.4" fill="#fff" stroke="#000" stroke-width="0.9" />
<circle cx="389.5" cy="620" r="2.55" fill="#f6f6f6" stroke="#000" stroke-width="0.6" />
<line x1="387.3" y1="620" x2="391.7" y2="620" stroke="#000" stroke-width="0.8" />
<line x1="389.5" y1="617.8" x2="389.5" y2="622.2" stroke="#000" stroke-width="0.8" />
<path d="M102.6 692.2 V689 H158.57 M204.63 689 H260.5 V692.2" fill="none" stroke="#000" stroke-width="1.0" />
<text x="181.6" y="690.7" font-size="4.6" text-anchor="middle" font-weight="normal" fill="#000" stroke="#000" stroke-width="0.14" >ROT CONTR PWR</text>
<path d="M102.6 697.7 V694.5 H124.36 M147.24 694.5 H173.7 V697.7" fill="none" stroke="#000" stroke-width="1.0" />
<text x="135.8" y="696.2" font-size="4.6" text-anchor="middle" font-weight="normal" fill="#000" stroke="#000" stroke-width="0.14" >NORMAL</text>
<path d="M183 697.7 V694.5 H211.16 M234.04 694.5 H260.5 V697.7" fill="none" stroke="#000" stroke-width="1.0" />
<text x="222.6" y="696.2" font-size="4.6" text-anchor="middle" font-weight="normal" fill="#000" stroke="#000" stroke-width="0.14" >DIRECT</text>
<text x="135.8" y="702.6" font-size="4.4" text-anchor="middle" font-weight="normal" fill="#000" stroke="#000" stroke-width="0.14" >1  —  AC/DC  —  2</text>
<text x="222.6" y="702.6" font-size="4.4" text-anchor="middle" font-weight="normal" fill="#000" stroke="#000" stroke-width="0.14" >1  —  MNA/MNB  —  2</text>
<rect x="92.6" y="705.2" width="178" height="39.1" rx="5.6" fill="#fff" stroke="#888" stroke-width="0.7" />
<rect x="93.2" y="705.8" width="176.8" height="37.9" rx="5" fill="#fff" stroke="#000" stroke-width="1.2" />
<rect x="95" y="707.6" width="173.2" height="34.3" rx="3.5" fill="none" stroke="#555" stroke-width="0.5" />
<rect x="96" y="708.1" width="37" height="33.3" rx="1" fill="#fff" stroke="#000" stroke-width="0.8" />
<rect x="98.8" y="710.8" width="31.4" height="27.5" rx="0" fill="none" stroke="#000" stroke-width="0.6" />
<line x1="96.3" y1="708.4" x2="98.8" y2="710.8" stroke="#000" stroke-width="0.4" />
<line x1="132.7" y1="708.4" x2="130.2" y2="710.8" stroke="#000" stroke-width="0.4" />
<line x1="96.3" y1="741.1" x2="98.8" y2="738.3" stroke="#000" stroke-width="0.4" />
<line x1="132.7" y1="741.1" x2="130.2" y2="738.3" stroke="#000" stroke-width="0.4" />
<rect x="139" y="708.1" width="36.5" height="33.3" rx="1" fill="#fff" stroke="#000" stroke-width="0.8" />
<rect x="141.8" y="710.8" width="30.9" height="27.5" rx="0" fill="none" stroke="#000" stroke-width="0.6" />
<line x1="139.3" y1="708.4" x2="141.8" y2="710.8" stroke="#000" stroke-width="0.4" />
<line x1="175.2" y1="708.4" x2="172.7" y2="710.8" stroke="#000" stroke-width="0.4" />
<line x1="139.3" y1="741.1" x2="141.8" y2="738.3" stroke="#000" stroke-width="0.4" />
<line x1="175.2" y1="741.1" x2="172.7" y2="738.3" stroke="#000" stroke-width="0.4" />
<rect x="181.5" y="708.1" width="35" height="33.3" rx="1" fill="#fff" stroke="#000" stroke-width="0.8" />
<rect x="184.3" y="710.8" width="29.4" height="27.5" rx="0" fill="none" stroke="#000" stroke-width="0.6" />
<line x1="181.8" y1="708.4" x2="184.3" y2="710.8" stroke="#000" stroke-width="0.4" />
<line x1="216.2" y1="708.4" x2="213.7" y2="710.8" stroke="#000" stroke-width="0.4" />
<line x1="181.8" y1="741.1" x2="184.3" y2="738.3" stroke="#000" stroke-width="0.4" />
<line x1="216.2" y1="741.1" x2="213.7" y2="738.3" stroke="#000" stroke-width="0.4" />
<rect x="228.5" y="708.1" width="38.7" height="33.3" rx="1" fill="#fff" stroke="#000" stroke-width="0.8" />
<rect x="231.3" y="710.8" width="33.1" height="27.5" rx="0" fill="none" stroke="#000" stroke-width="0.6" />
<line x1="228.8" y1="708.4" x2="231.3" y2="710.8" stroke="#000" stroke-width="0.4" />
<line x1="266.9" y1="708.4" x2="264.4" y2="710.8" stroke="#000" stroke-width="0.4" />
<line x1="228.8" y1="741.1" x2="231.3" y2="738.3" stroke="#000" stroke-width="0.4" />
<line x1="266.9" y1="741.1" x2="264.4" y2="738.3" stroke="#000" stroke-width="0.4" />
<path d="M104.9 726.3 L109.7 716.4 L120.9 716.4 L125.7 726.3 L120.9 736.2 L109.7 736.2 Z" fill="#fff" stroke="#000" stroke-width="1.4" />
<path d="M106.98 726.3 L110.82 718.38 L119.78 718.38 L123.62 726.3 L119.78 734.22 L110.82 734.22 Z" fill="#a2a2a2" stroke="#222" stroke-width="0.6" />
<rect x="109.6" y="720.1" width="11.4" height="12.6" rx="1.2" fill="#cfcfcf" stroke="#000" stroke-width="1.1" />
<rect x="110.4" y="726.6" width="9.8" height="3.6" rx="0" fill="#444" stroke="#000" stroke-width="0" />
<line x1="110.4" y1="723.5" x2="120.2" y2="723.5" stroke="#333" stroke-width="0.7" />
<line x1="110.4" y1="731.5" x2="120.2" y2="731.5" stroke="#333" stroke-width="0.6" />
<rect x="108.55" y="711.4" width="13.5" height="4" rx="0" fill="#fff" stroke="#000" stroke-width="0" />
<text x="115.3" y="714.9" font-size="4.8" text-anchor="middle" font-weight="normal" fill="#000" stroke="#000" stroke-width="0.14" >(S66)</text>
<path d="M145.9 726.3 L150.7 716.4 L161.9 716.4 L166.7 726.3 L161.9 736.2 L150.7 736.2 Z" fill="#fff" stroke="#000" stroke-width="1.4" />
<path d="M147.98 726.3 L151.82 718.38 L160.78 718.38 L164.62 726.3 L160.78 734.22 L151.82 734.22 Z" fill="#a2a2a2" stroke="#222" stroke-width="0.6" />
<rect x="150.6" y="720.1" width="11.4" height="12.6" rx="1.2" fill="#cfcfcf" stroke="#000" stroke-width="1.1" />
<rect x="151.4" y="726.6" width="9.8" height="3.6" rx="0" fill="#444" stroke="#000" stroke-width="0" />
<line x1="151.4" y1="723.5" x2="161.2" y2="723.5" stroke="#333" stroke-width="0.7" />
<line x1="151.4" y1="731.5" x2="161.2" y2="731.5" stroke="#333" stroke-width="0.6" />
<rect x="149.55" y="711.4" width="13.5" height="4" rx="0" fill="#fff" stroke="#000" stroke-width="0" />
<text x="156.3" y="714.9" font-size="4.8" text-anchor="middle" font-weight="normal" fill="#000" stroke="#000" stroke-width="0.14" >(S65)</text>
<path d="M188.6 726.3 L193.4 716.4 L204.6 716.4 L209.4 726.3 L204.6 736.2 L193.4 736.2 Z" fill="#fff" stroke="#000" stroke-width="1.4" />
<path d="M190.68 726.3 L194.52 718.38 L203.48 718.38 L207.32 726.3 L203.48 734.22 L194.52 734.22 Z" fill="#a2a2a2" stroke="#222" stroke-width="0.6" />
<rect x="193.3" y="720.1" width="11.4" height="12.6" rx="1.2" fill="#cfcfcf" stroke="#000" stroke-width="1.1" />
<rect x="194.1" y="726.6" width="9.8" height="3.6" rx="0" fill="#444" stroke="#000" stroke-width="0" />
<line x1="194.1" y1="723.5" x2="203.9" y2="723.5" stroke="#333" stroke-width="0.7" />
<line x1="194.1" y1="731.5" x2="203.9" y2="731.5" stroke="#333" stroke-width="0.6" />
<rect x="192.25" y="711.4" width="13.5" height="4" rx="0" fill="#fff" stroke="#000" stroke-width="0" />
<text x="199" y="714.9" font-size="4.8" text-anchor="middle" font-weight="normal" fill="#000" stroke="#000" stroke-width="0.14" >(S13)</text>
<path d="M234.3 726.3 L239.1 716.4 L250.3 716.4 L255.1 726.3 L250.3 736.2 L239.1 736.2 Z" fill="#fff" stroke="#000" stroke-width="1.4" />
<path d="M236.38 726.3 L240.22 718.38 L249.18 718.38 L253.02 726.3 L249.18 734.22 L240.22 734.22 Z" fill="#a2a2a2" stroke="#222" stroke-width="0.6" />
<rect x="239" y="720.1" width="11.4" height="12.6" rx="1.2" fill="#cfcfcf" stroke="#000" stroke-width="1.1" />
<rect x="239.8" y="726.6" width="9.8" height="3.6" rx="0" fill="#444" stroke="#000" stroke-width="0" />
<line x1="239.8" y1="723.5" x2="249.6" y2="723.5" stroke="#333" stroke-width="0.7" />
<line x1="239.8" y1="731.5" x2="249.6" y2="731.5" stroke="#333" stroke-width="0.6" />
<rect x="237.95" y="711.4" width="13.5" height="4" rx="0" fill="#fff" stroke="#000" stroke-width="0" />
<text x="244.7" y="714.9" font-size="4.8" text-anchor="middle" font-weight="normal" fill="#000" stroke="#000" stroke-width="0.14" >(S67)</text>
<text x="88.5" y="721" font-size="4.2" text-anchor="middle" font-weight="normal" fill="#000" stroke="#000" stroke-width="0.14" >O</text>
<text x="88.5" y="726" font-size="4.2" text-anchor="middle" font-weight="normal" fill="#000" stroke="#000" stroke-width="0.14" >F</text>
<text x="88.5" y="731" font-size="4.2" text-anchor="middle" font-weight="normal" fill="#000" stroke="#000" stroke-width="0.14" >F</text>
<text x="274" y="721" font-size="4.2" text-anchor="middle" font-weight="normal" fill="#000" stroke="#000" stroke-width="0.14" >O</text>
<text x="274" y="726" font-size="4.2" text-anchor="middle" font-weight="normal" fill="#000" stroke="#000" stroke-width="0.14" >F</text>
<text x="274" y="731" font-size="4.2" text-anchor="middle" font-weight="normal" fill="#000" stroke="#000" stroke-width="0.14" >F</text>
<text x="135.8" y="753.2" font-size="4.4" text-anchor="middle" font-weight="normal" fill="#000" stroke="#000" stroke-width="0.14" >AC</text>
<text x="199" y="753.2" font-size="4.4" text-anchor="middle" font-weight="normal" fill="#000" stroke="#000" stroke-width="0.14" >MNA</text>
<text x="248.5" y="753.2" font-size="4.4" text-anchor="middle" font-weight="normal" fill="#000" stroke="#000" stroke-width="0.14" >MNB</text>
<circle cx="106.7" cy="750" r="4.4" fill="#fff" stroke="#000" stroke-width="0.9" />
<circle cx="106.7" cy="750" r="2.55" fill="#f6f6f6" stroke="#000" stroke-width="0.6" />
<line x1="104.5" y1="750" x2="108.9" y2="750" stroke="#000" stroke-width="0.8" />
<line x1="106.7" y1="747.8" x2="106.7" y2="752.2" stroke="#000" stroke-width="0.8" />
<circle cx="231.5" cy="750" r="4.4" fill="#fff" stroke="#000" stroke-width="0.9" />
<circle cx="231.5" cy="750" r="2.55" fill="#f6f6f6" stroke="#000" stroke-width="0.6" />
<line x1="229.3" y1="750" x2="233.7" y2="750" stroke="#000" stroke-width="0.8" />
<line x1="231.5" y1="747.8" x2="231.5" y2="752.2" stroke="#000" stroke-width="0.8" />
<circle cx="89" cy="682.7" r="4.4" fill="#fff" stroke="#000" stroke-width="0.9" />
<circle cx="89" cy="682.7" r="2.55" fill="#f6f6f6" stroke="#000" stroke-width="0.6" />
<line x1="86.8" y1="682.7" x2="91.2" y2="682.7" stroke="#000" stroke-width="0.8" />
<line x1="89" y1="680.5" x2="89" y2="684.9" stroke="#000" stroke-width="0.8" />
<circle cx="205.9" cy="678" r="4.4" fill="#fff" stroke="#000" stroke-width="0.9" />
<circle cx="205.9" cy="678" r="2.55" fill="#f6f6f6" stroke="#000" stroke-width="0.6" />
<line x1="203.7" y1="678" x2="208.1" y2="678" stroke="#000" stroke-width="0.8" />
<line x1="205.9" y1="675.8" x2="205.9" y2="680.2" stroke="#000" stroke-width="0.8" />
<path d="M112 762 V758.8 H147.8 M180.6 758.8 H216.3 V762" fill="none" stroke="#000" stroke-width="1.0" />
<text x="164.2" y="760.5" font-size="4.6" text-anchor="middle" font-weight="normal" fill="#000" stroke="#000" stroke-width="0.14" >BMAG MODE</text>
<text x="125.4" y="765.8" font-size="4.4" text-anchor="middle" font-weight="normal" fill="#000" stroke="#000" stroke-width="0.14" >ROLL</text>
<text x="164.2" y="765.8" font-size="4.4" text-anchor="middle" font-weight="normal" fill="#000" stroke="#000" stroke-width="0.14" >PITCH</text>
<text x="200.5" y="765.8" font-size="4.4" text-anchor="middle" font-weight="normal" fill="#000" stroke="#000" stroke-width="0.14" >YAW</text>
<rect x="103.6" y="769.3" width="121.2" height="39.7" rx="5.6" fill="#fff" stroke="#888" stroke-width="0.7" />
<rect x="104.2" y="769.9" width="120" height="38.5" rx="5" fill="#fff" stroke="#000" stroke-width="1.2" />
<rect x="106" y="771.7" width="116.4" height="34.9" rx="3.5" fill="none" stroke="#555" stroke-width="0.5" />
<rect x="107" y="772.2" width="36.5" height="33.9" rx="1" fill="#fff" stroke="#000" stroke-width="0.8" />
<rect x="109.8" y="774.9" width="30.9" height="28.1" rx="0" fill="none" stroke="#000" stroke-width="0.6" />
<line x1="107.3" y1="772.5" x2="109.8" y2="774.9" stroke="#000" stroke-width="0.4" />
<line x1="143.2" y1="772.5" x2="140.7" y2="774.9" stroke="#000" stroke-width="0.4" />
<line x1="107.3" y1="805.8" x2="109.8" y2="803" stroke="#000" stroke-width="0.4" />
<line x1="143.2" y1="805.8" x2="140.7" y2="803" stroke="#000" stroke-width="0.4" />
<rect x="185" y="772.2" width="36.5" height="33.9" rx="1" fill="#fff" stroke="#000" stroke-width="0.8" />
<rect x="187.8" y="774.9" width="30.9" height="28.1" rx="0" fill="none" stroke="#000" stroke-width="0.6" />
<line x1="185.3" y1="772.5" x2="187.8" y2="774.9" stroke="#000" stroke-width="0.4" />
<line x1="221.2" y1="772.5" x2="218.7" y2="774.9" stroke="#000" stroke-width="0.4" />
<line x1="185.3" y1="805.8" x2="187.8" y2="803" stroke="#000" stroke-width="0.4" />
<line x1="221.2" y1="805.8" x2="218.7" y2="803" stroke="#000" stroke-width="0.4" />
<path d="M115 788.8 L119.8 778.9 L131 778.9 L135.8 788.8 L131 798.7 L119.8 798.7 Z" fill="#fff" stroke="#000" stroke-width="1.4" />
<path d="M117.08 788.8 L120.92 780.88 L129.88 780.88 L133.72 788.8 L129.88 796.72 L120.92 796.72 Z" fill="#a2a2a2" stroke="#222" stroke-width="0.6" />
<rect x="119.7" y="782.6" width="11.4" height="12.6" rx="1.2" fill="#cfcfcf" stroke="#000" stroke-width="1.1" />
<rect x="120.5" y="789.1" width="9.8" height="3.6" rx="0" fill="#444" stroke="#000" stroke-width="0" />
<line x1="120.5" y1="786" x2="130.3" y2="786" stroke="#333" stroke-width="0.7" />
<line x1="120.5" y1="794" x2="130.3" y2="794" stroke="#333" stroke-width="0.6" />
<rect x="118.65" y="773.9" width="13.5" height="4" rx="0" fill="#fff" stroke="#000" stroke-width="0" />
<text x="125.4" y="777.4" font-size="4.8" text-anchor="middle" font-weight="normal" fill="#000" stroke="#000" stroke-width="0.14" >(S20)</text>
<path d="M153.8 788.8 L158.6 778.9 L169.8 778.9 L174.6 788.8 L169.8 798.7 L158.6 798.7 Z" fill="#fff" stroke="#000" stroke-width="1.4" />
<path d="M155.88 788.8 L159.72 780.88 L168.68 780.88 L172.52 788.8 L168.68 796.72 L159.72 796.72 Z" fill="#a2a2a2" stroke="#222" stroke-width="0.6" />
<rect x="158.5" y="782.6" width="11.4" height="12.6" rx="1.2" fill="#cfcfcf" stroke="#000" stroke-width="1.1" />
<rect x="159.3" y="789.1" width="9.8" height="3.6" rx="0" fill="#444" stroke="#000" stroke-width="0" />
<line x1="159.3" y1="786" x2="169.1" y2="786" stroke="#333" stroke-width="0.7" />
<line x1="159.3" y1="794" x2="169.1" y2="794" stroke="#333" stroke-width="0.6" />
<rect x="157.45" y="773.9" width="13.5" height="4" rx="0" fill="#fff" stroke="#000" stroke-width="0" />
<text x="164.2" y="777.4" font-size="4.8" text-anchor="middle" font-weight="normal" fill="#000" stroke="#000" stroke-width="0.14" >(S21)</text>
<path d="M192.3 788.8 L197.1 778.9 L208.3 778.9 L213.1 788.8 L208.3 798.7 L197.1 798.7 Z" fill="#fff" stroke="#000" stroke-width="1.4" />
<path d="M194.38 788.8 L198.22 780.88 L207.18 780.88 L211.02 788.8 L207.18 796.72 L198.22 796.72 Z" fill="#a2a2a2" stroke="#222" stroke-width="0.6" />
<rect x="197" y="782.6" width="11.4" height="12.6" rx="1.2" fill="#cfcfcf" stroke="#000" stroke-width="1.1" />
<rect x="197.8" y="789.1" width="9.8" height="3.6" rx="0" fill="#444" stroke="#000" stroke-width="0" />
<line x1="197.8" y1="786" x2="207.6" y2="786" stroke="#333" stroke-width="0.7" />
<line x1="197.8" y1="794" x2="207.6" y2="794" stroke="#333" stroke-width="0.6" />
<rect x="195.95" y="773.9" width="13.5" height="4" rx="0" fill="#fff" stroke="#000" stroke-width="0" />
<text x="202.7" y="777.4" font-size="4.8" text-anchor="middle" font-weight="normal" fill="#000" stroke="#000" stroke-width="0.14" >(S22)</text>
<text x="100.5" y="775.3" font-size="4.4" text-anchor="end" font-weight="normal" fill="#000" stroke="#000" stroke-width="0.14" >RATE 2</text>
<text x="100.5" y="787.2" font-size="4.4" text-anchor="end" font-weight="normal" fill="#000" stroke="#000" stroke-width="0.14" >ATT 1</text>
<text x="100.5" y="792" font-size="4.4" text-anchor="end" font-weight="normal" fill="#000" stroke="#000" stroke-width="0.14" >RATE 2</text>
<text x="100.5" y="805.3" font-size="4.4" text-anchor="end" font-weight="normal" fill="#000" stroke="#000" stroke-width="0.14" >RATE 1</text>
<circle cx="64.7" cy="816.3" r="4.4" fill="#fff" stroke="#000" stroke-width="0.9" />
<circle cx="64.7" cy="816.3" r="2.55" fill="#f6f6f6" stroke="#000" stroke-width="0.6" />
<line x1="62.5" y1="816.3" x2="66.9" y2="816.3" stroke="#000" stroke-width="0.8" />
<line x1="64.7" y1="814.1" x2="64.7" y2="818.5" stroke="#000" stroke-width="0.8" />
<circle cx="192.6" cy="816.3" r="4.4" fill="#fff" stroke="#000" stroke-width="0.9" />
<circle cx="192.6" cy="816.3" r="2.55" fill="#f6f6f6" stroke="#000" stroke-width="0.6" />
<line x1="190.4" y1="816.3" x2="194.8" y2="816.3" stroke="#000" stroke-width="0.8" />
<line x1="192.6" y1="814.1" x2="192.6" y2="818.5" stroke="#000" stroke-width="0.8" />
<text x="148.4" y="823.3" font-size="4.6" text-anchor="middle" font-weight="normal" fill="#000" stroke="#000" stroke-width="0.14" >ATTITUDE SET</text>
<rect x="288.4" y="704.9" width="76.5" height="41.2" rx="5.6" fill="#fff" stroke="#888" stroke-width="0.7" />
<rect x="289" y="705.5" width="75.3" height="40" rx="5" fill="#fff" stroke="#000" stroke-width="1.2" />
<rect x="290.8" y="707.3" width="71.7" height="36.4" rx="3.5" fill="none" stroke="#555" stroke-width="0.5" />
<line x1="294.5" y1="710.3" x2="358.8" y2="710.3" stroke="#000" stroke-width="0.7" />
<line x1="294.5" y1="740.2" x2="358.8" y2="740.2" stroke="#000" stroke-width="0.7" />
<rect x="292.8" y="707.8" width="3.4" height="35.4" rx="0.8" fill="#fff" stroke="#000" stroke-width="0.8" />
<rect x="325.7" y="707.8" width="3.4" height="35.4" rx="0.8" fill="#fff" stroke="#000" stroke-width="0.8" />
<rect x="357.1" y="707.8" width="3.4" height="35.4" rx="0.8" fill="#fff" stroke="#000" stroke-width="0.8" />
<path d="M301.8 727.2 L306.6 717.3 L317.8 717.3 L322.6 727.2 L317.8 737.1 L306.6 737.1 Z" fill="#fff" stroke="#000" stroke-width="1.4" />
<path d="M303.88 727.2 L307.72 719.28 L316.68 719.28 L320.52 727.2 L316.68 735.12 L307.72 735.12 Z" fill="#c8c8c8" stroke="#222" stroke-width="0.6" />
<path d="M304.9 728.2 A7.6 7.6 0 0 1 319.5 728.2 L318.2 734 H306.2 Z" fill="#fff" stroke="#000" stroke-width="0.7" />
<path d="M306.8 727.4 H311 V726 H313.4 V727.4 H317.6 L318.2 734.6 H306.2 Z" fill="#8a8a8a" stroke="#000" stroke-width="1.1" />
<line x1="307.2" y1="730.8" x2="317.2" y2="730.8" stroke="#333" stroke-width="0.9" />
<rect x="305.45" y="712.3" width="13.5" height="4" rx="0" fill="#fff" stroke="#000" stroke-width="0" />
<text x="312.2" y="715.8" font-size="4.8" text-anchor="middle" font-weight="normal" fill="#000" stroke="#000" stroke-width="0.14" >(S18)</text>
<path d="M332.2 727.2 L337 717.3 L348.2 717.3 L353 727.2 L348.2 737.1 L337 737.1 Z" fill="#fff" stroke="#000" stroke-width="1.4" />
<path d="M334.28 727.2 L338.12 719.28 L347.08 719.28 L350.92 727.2 L347.08 735.12 L338.12 735.12 Z" fill="#a2a2a2" stroke="#222" stroke-width="0.6" />
<rect x="336.9" y="721" width="11.4" height="12.6" rx="1.2" fill="#cfcfcf" stroke="#000" stroke-width="1.1" />
<rect x="337.7" y="727.5" width="9.8" height="3.6" rx="0" fill="#444" stroke="#000" stroke-width="0" />
<line x1="337.7" y1="724.4" x2="347.5" y2="724.4" stroke="#333" stroke-width="0.7" />
<line x1="337.7" y1="732.4" x2="347.5" y2="732.4" stroke="#333" stroke-width="0.6" />
<rect x="335.85" y="712.3" width="13.5" height="4" rx="0" fill="#fff" stroke="#000" stroke-width="0" />
<text x="342.6" y="715.8" font-size="4.8" text-anchor="middle" font-weight="normal" fill="#000" stroke="#000" stroke-width="0.14" >(S19)</text>
<text x="313" y="697.2" font-size="4.4" text-anchor="middle" font-weight="normal" fill="#000" stroke="#000" stroke-width="0.14" >SC CONT</text>
<text x="313" y="702.2" font-size="4.4" text-anchor="middle" font-weight="normal" fill="#000" stroke="#000" stroke-width="0.14" >CMC</text>
<text x="344" y="697.2" font-size="4.4" text-anchor="middle" font-weight="normal" fill="#000" stroke="#000" stroke-width="0.14" >CMC MODE</text>
<text x="344" y="702.2" font-size="4.4" text-anchor="middle" font-weight="normal" fill="#000" stroke="#000" stroke-width="0.14" >AUTO</text>
<text x="313" y="753.6" font-size="4.4" text-anchor="middle" font-weight="normal" fill="#000" stroke="#000" stroke-width="0.14" >SCS</text>
<text x="344" y="753.6" font-size="4.4" text-anchor="middle" font-weight="normal" fill="#000" stroke="#000" stroke-width="0.14" >FREE</text>
<text x="370.7" y="721" font-size="4.2" text-anchor="middle" font-weight="normal" fill="#000" stroke="#000" stroke-width="0.14" >H</text>
<text x="370.7" y="726.2" font-size="4.2" text-anchor="middle" font-weight="normal" fill="#000" stroke="#000" stroke-width="0.14" >O</text>
<text x="370.7" y="731.4" font-size="4.2" text-anchor="middle" font-weight="normal" fill="#000" stroke="#000" stroke-width="0.14" >L</text>
<text x="370.7" y="736.6" font-size="4.2" text-anchor="middle" font-weight="normal" fill="#000" stroke="#000" stroke-width="0.14" >D</text>
<circle cx="363.8" cy="752" r="4.4" fill="#fff" stroke="#000" stroke-width="0.9" />
<circle cx="363.8" cy="752" r="2.55" fill="#f6f6f6" stroke="#000" stroke-width="0.6" />
<line x1="361.6" y1="752" x2="366" y2="752" stroke="#000" stroke-width="0.8" />
<line x1="363.8" y1="749.8" x2="363.8" y2="754.2" stroke="#000" stroke-width="0.8" />
<circle cx="316.5" cy="678.8" r="4.4" fill="#fff" stroke="#000" stroke-width="0.9" />
<circle cx="316.5" cy="678.8" r="2.55" fill="#f6f6f6" stroke="#000" stroke-width="0.6" />
<line x1="314.3" y1="678.8" x2="318.7" y2="678.8" stroke="#000" stroke-width="0.8" />
<line x1="316.5" y1="676.6" x2="316.5" y2="681" stroke="#000" stroke-width="0.8" />
<text x="418" y="682.3" font-size="4.5" text-anchor="middle" font-weight="normal" fill="#000" stroke="#000" stroke-width="0.14" >LVα/SPS Pc</text>
<text x="418" y="687.6" font-size="4.4" text-anchor="middle" font-weight="normal" fill="#000" stroke="#000" stroke-width="0.14" >(M4)</text>
<rect x="380.3" y="689" width="76.5" height="76.4" rx="5" fill="#fff" stroke="#000" stroke-width="1.1" />
<circle cx="389" cy="697" r="5.3" fill="#fff" stroke="#000" stroke-width="0.8" />
<circle cx="389" cy="697" r="4.24" fill="none" stroke="#000" stroke-width="0.4" />
<path d="M387.94 693.71 H390.06 V695.94 H392.29 V698.06 H390.06 V700.29 H387.94 V698.06 H385.71 V695.94 H387.94 Z" fill="#fff" stroke="#000" stroke-width="0.6" />
<circle cx="448.3" cy="697" r="5.3" fill="#fff" stroke="#000" stroke-width="0.8" />
<circle cx="448.3" cy="697" r="4.24" fill="none" stroke="#000" stroke-width="0.4" />
<path d="M447.24 693.71 H449.36 V695.94 H451.59 V698.06 H449.36 V700.29 H447.24 V698.06 H445.01 V695.94 H447.24 Z" fill="#fff" stroke="#000" stroke-width="0.6" />
<circle cx="389" cy="756.2" r="5.3" fill="#fff" stroke="#000" stroke-width="0.8" />
<circle cx="389" cy="756.2" r="4.24" fill="none" stroke="#000" stroke-width="0.4" />
<path d="M387.94 752.91 H390.06 V755.14 H392.29 V757.26 H390.06 V759.49 H387.94 V757.26 H385.71 V755.14 H387.94 Z" fill="#fff" stroke="#000" stroke-width="0.6" />
<circle cx="448.3" cy="756.2" r="5.3" fill="#fff" stroke="#000" stroke-width="0.8" />
<circle cx="448.3" cy="756.2" r="4.24" fill="none" stroke="#000" stroke-width="0.4" />
<path d="M447.24 752.91 H449.36 V755.14 H451.59 V757.26 H449.36 V759.49 H447.24 V757.26 H445.01 V755.14 H447.24 Z" fill="#fff" stroke="#000" stroke-width="0.6" />
<circle cx="418.3" cy="726.5" r="36.2" fill="#fff" stroke="#000" stroke-width="1.2" />
<circle cx="418.3" cy="726.5" r="30" fill="#000" stroke="#000" stroke-width="0" />
<path d="M407.24 734.24 A13.5 13.5 0 1 1 429.36 734.24" fill="none" stroke="#fff" stroke-width="6" />
<line x1="404.78" y1="735.96" x2="402.49" y2="737.57" stroke="#fff" stroke-width="0.6" />
<line x1="403.56" y1="733.91" x2="402.21" y2="734.58" stroke="#fff" stroke-width="0.6" />
<line x1="402.64" y1="731.69" x2="401.21" y2="732.16" stroke="#fff" stroke-width="0.6" />
<line x1="402.05" y1="729.37" x2="400.57" y2="729.63" stroke="#fff" stroke-width="0.6" />
<line x1="401.81" y1="726.98" x2="400.31" y2="727.02" stroke="#fff" stroke-width="0.6" />
<line x1="401.91" y1="724.58" x2="399.13" y2="724.26" stroke="#fff" stroke-width="0.6" />
<line x1="402.36" y1="722.23" x2="400.91" y2="721.84" stroke="#fff" stroke-width="0.6" />
<line x1="403.15" y1="719.96" x2="401.77" y2="719.37" stroke="#fff" stroke-width="0.6" />
<line x1="404.26" y1="717.84" x2="402.98" y2="717.05" stroke="#fff" stroke-width="0.6" />
<line x1="405.66" y1="715.89" x2="404.51" y2="714.93" stroke="#fff" stroke-width="0.6" />
<line x1="407.33" y1="714.17" x2="405.47" y2="712.08" stroke="#fff" stroke-width="0.6" />
<line x1="409.23" y1="712.71" x2="408.41" y2="711.46" stroke="#fff" stroke-width="0.6" />
<line x1="411.33" y1="711.55" x2="410.69" y2="710.19" stroke="#fff" stroke-width="0.6" />
<line x1="413.57" y1="710.69" x2="413.14" y2="709.26" stroke="#fff" stroke-width="0.6" />
<line x1="415.91" y1="710.17" x2="415.69" y2="708.69" stroke="#fff" stroke-width="0.6" />
<line x1="418.3" y1="710" x2="418.3" y2="707.2" stroke="#fff" stroke-width="0.6" />
<line x1="420.69" y1="710.17" x2="420.91" y2="708.69" stroke="#fff" stroke-width="0.6" />
<line x1="423.03" y1="710.69" x2="423.46" y2="709.26" stroke="#fff" stroke-width="0.6" />
<line x1="425.27" y1="711.55" x2="425.91" y2="710.19" stroke="#fff" stroke-width="0.6" />
<line x1="427.37" y1="712.71" x2="428.19" y2="711.46" stroke="#fff" stroke-width="0.6" />
<line x1="429.27" y1="714.17" x2="431.13" y2="712.08" stroke="#fff" stroke-width="0.6" />
<line x1="430.94" y1="715.89" x2="432.09" y2="714.93" stroke="#fff" stroke-width="0.6" />
<line x1="432.34" y1="717.84" x2="433.62" y2="717.05" stroke="#fff" stroke-width="0.6" />
<line x1="433.45" y1="719.96" x2="434.83" y2="719.37" stroke="#fff" stroke-width="0.6" />
<line x1="434.24" y1="722.23" x2="435.69" y2="721.84" stroke="#fff" stroke-width="0.6" />
<line x1="434.69" y1="724.58" x2="437.47" y2="724.26" stroke="#fff" stroke-width="0.6" />
<line x1="434.79" y1="726.98" x2="436.29" y2="727.02" stroke="#fff" stroke-width="0.6" />
<line x1="434.55" y1="729.37" x2="436.03" y2="729.63" stroke="#fff" stroke-width="0.6" />
<line x1="433.96" y1="731.69" x2="435.39" y2="732.16" stroke="#fff" stroke-width="0.6" />
<line x1="433.04" y1="733.91" x2="434.39" y2="734.58" stroke="#fff" stroke-width="0.6" />
<line x1="431.82" y1="735.96" x2="434.11" y2="737.57" stroke="#fff" stroke-width="0.6" />
<path d="M413.06 713.52 L412.57 722.48 L419.52 719.61 Z" fill="#000" stroke="#000" stroke-width="0.3" />
<circle cx="418.3" cy="726.5" r="8" fill="#000" stroke="#000" stroke-width="0" />
<text x="401.2" y="740.6" font-size="5.2" text-anchor="middle" font-weight="bold" fill="#fff" >0</text>
<text x="395.9" y="726.2" font-size="5.2" text-anchor="middle" font-weight="bold" fill="#fff" >25</text>
<text x="402.6" y="713.4" font-size="5.2" text-anchor="middle" font-weight="bold" fill="#fff" >50</text>
<text x="418" y="706.8" font-size="5.2" text-anchor="middle" font-weight="bold" fill="#fff" >75</text>
<text x="429.5" y="708.2" font-size="5.2" text-anchor="middle" font-weight="bold" fill="#fff" >SPS</text>
<text x="437" y="713.8" font-size="5.2" text-anchor="middle" font-weight="bold" fill="#fff" >100</text>
<text x="442.5" y="726.2" font-size="5.2" text-anchor="middle" font-weight="bold" fill="#fff" >125</text>
<text x="440" y="740.6" font-size="5.2" text-anchor="middle" font-weight="bold" fill="#fff" >150</text>
<text x="418.5" y="748" font-size="5.2" text-anchor="middle" font-weight="bold" fill="#fff" >%</text>
<text x="252.6" y="766.7" font-size="4.4" text-anchor="middle" font-weight="normal" fill="#000" stroke="#000" stroke-width="0.14" >SPS THRUST</text>
<text x="252.6" y="771.9" font-size="4.4" text-anchor="middle" font-weight="normal" fill="#000" stroke="#000" stroke-width="0.14" >DIRECT ON</text>
<text x="253.6" y="848.9" font-size="4.4" text-anchor="middle" font-weight="normal" fill="#000" stroke="#000" stroke-width="0.14" >NORMAL</text>
<rect x="226.3" y="775.8" width="55.1" height="66.6" rx="5" fill="#fff" stroke="#888" stroke-width="0.7" />
<rect x="226.9" y="776.4" width="53.9" height="65.4" rx="4.5" fill="#fff" stroke="#000" stroke-width="1.3" />
<rect x="228.7" y="778.2" width="50.3" height="61.8" rx="3" fill="none" stroke="#555" stroke-width="0.5" />
<line x1="232" y1="780.8" x2="274.5" y2="780.8" stroke="#000" stroke-width="0.7" />
<line x1="232" y1="837.8" x2="274.5" y2="837.8" stroke="#000" stroke-width="0.9" />
<rect x="229.9" y="778.8" width="4.6" height="60.6" rx="1" fill="#fff" stroke="#000" stroke-width="0.8" />
<rect x="272.2" y="778.8" width="4.6" height="60.6" rx="1" fill="#fff" stroke="#000" stroke-width="0.8" />
<text x="253.6" y="792" font-size="4.8" text-anchor="middle" font-weight="normal" fill="#000" stroke="#000" stroke-width="0.14" >(S23)</text>
<path d="M238 808.7 L245.6 795.3 L261.6 795.3 L269.2 808.7 L261.6 822.1 L245.6 822.1 Z" fill="#fff" stroke="#000" stroke-width="1.2" />
<circle cx="253.6" cy="808.7" r="11" fill="#fff" stroke="#000" stroke-width="0.8" />
<circle cx="253.6" cy="808.7" r="9.3" fill="none" stroke="#000" stroke-width="0.6" />
<path d="M247.6 816.7 V805.7 Q247.6 803.2 250.1 803.2 H257.1 Q259.6 803.2 259.6 805.7 V816.7 Z" fill="#fff" stroke="#000" stroke-width="1.0" />
<line x1="249.8" y1="805.1" x2="257.4" y2="805.1" stroke="#555" stroke-width="0.7" />
<circle cx="253.6" cy="822" r="7.5" fill="#fff" stroke="#000" stroke-width="1.1" />
<text x="306.3" y="774.6" font-size="4.5" text-anchor="middle" font-weight="normal" fill="#000" stroke="#000" stroke-width="0.14" >(S24)</text>
<text x="305.5" y="855" font-size="4.5" text-anchor="middle" font-weight="normal" fill="#000" stroke="#000" stroke-width="0.14" >(S25)</text>
<rect x="289" y="776.4" width="32.7" height="33.6" rx="3" fill="#fff" stroke="#000" stroke-width="0.9" />
<rect x="290.6" y="778" width="29.5" height="30.4" rx="2" fill="none" stroke="#000" stroke-width="0.5" />
<rect x="294.2" y="781.6" width="23.1" height="23.2" rx="1" fill="#000" stroke="#000" stroke-width="0" />
<text x="305.75" y="791.3" font-size="4.8" text-anchor="middle" font-weight="bold" fill="#fff" >DIRECT</text>
<text x="305.75" y="798.3" font-size="4.8" text-anchor="middle" font-weight="bold" fill="#fff" >ULLAGE</text>
<rect x="289" y="815.7" width="32.7" height="33" rx="3" fill="#fff" stroke="#000" stroke-width="0.9" />
<rect x="290.6" y="817.3" width="29.5" height="29.8" rx="2" fill="none" stroke="#000" stroke-width="0.5" />
<rect x="294.2" y="820.7" width="23.1" height="23.7" rx="1" fill="#000" stroke="#000" stroke-width="0" />
<text x="305.75" y="830.65" font-size="4.8" text-anchor="middle" font-weight="bold" fill="#fff" >THRUST</text>
<text x="305.75" y="837.65" font-size="4.8" text-anchor="middle" font-weight="bold" fill="#fff" >ON</text>
<text x="251" y="870.4" font-size="4.5" text-anchor="middle" font-weight="normal" fill="#000" stroke="#000" stroke-width="0.14" >(S37)</text>
<rect x="232" y="872.6" width="36.4" height="34.8" rx="3" fill="#fff" stroke="#000" stroke-width="0.9" />
<rect x="233.6" y="874.2" width="33.2" height="31.6" rx="2" fill="none" stroke="#000" stroke-width="0.5" />
<rect x="236.8" y="877.4" width="26.9" height="25.2" rx="1" fill="#000" stroke="#000" stroke-width="0" />
<text x="250.25" y="888.1" font-size="4.8" text-anchor="middle" font-weight="bold" fill="#fff" >GDC</text>
<text x="250.25" y="895.1" font-size="4.8" text-anchor="middle" font-weight="bold" fill="#fff" >ALIGN</text>
<text x="277.9" y="875.8" font-size="4.3" text-anchor="middle" font-weight="normal" fill="#000" stroke="#000" stroke-width="0.14" >AUTO</text>
<text x="277.9" y="886.9" font-size="4.3" text-anchor="middle" font-weight="normal" fill="#000" stroke="#000" stroke-width="0.14" >RATE</text>
<text x="277.9" y="891.6" font-size="4.3" text-anchor="middle" font-weight="normal" fill="#000" stroke="#000" stroke-width="0.14" >CMD</text>
<text x="277.9" y="902" font-size="4.3" text-anchor="middle" font-weight="normal" fill="#000" stroke="#000" stroke-width="0.14" >ACCEL</text>
<text x="277.9" y="906.8" font-size="4.3" text-anchor="middle" font-weight="normal" fill="#000" stroke="#000" stroke-width="0.14" >CMD</text>
<circle cx="215.7" cy="854.3" r="4.4" fill="#fff" stroke="#000" stroke-width="0.9" />
<circle cx="215.7" cy="854.3" r="2.55" fill="#f6f6f6" stroke="#000" stroke-width="0.6" />
<line x1="213.5" y1="854.3" x2="217.9" y2="854.3" stroke="#000" stroke-width="0.8" />
<line x1="215.7" y1="852.1" x2="215.7" y2="856.5" stroke="#000" stroke-width="0.8" />
<path d="M342.5 781.2 V778 H371 M403.8 778 H433.2 V781.2" fill="none" stroke="#000" stroke-width="1.0" />
<text x="387.4" y="779.7" font-size="4.6" text-anchor="middle" font-weight="normal" fill="#000" stroke="#000" stroke-width="0.14" >ΔV THRUST</text>
<text x="354" y="786.6" font-size="4.5" text-anchor="middle" font-weight="normal" fill="#000" stroke="#000" stroke-width="0.14" >A</text>
<text x="388" y="786.6" font-size="4.5" text-anchor="middle" font-weight="normal" fill="#000" stroke="#000" stroke-width="0.14" >NORMAL</text>
<text x="420.7" y="786.6" font-size="4.5" text-anchor="middle" font-weight="normal" fill="#000" stroke="#000" stroke-width="0.14" >B</text>
<line x1="365" y1="785" x2="372" y2="785" stroke="#000" stroke-width="0.6" />
<line x1="404" y1="785" x2="411" y2="785" stroke="#000" stroke-width="0.6" />
<rect x="331.8" y="793.2" width="117.9" height="39.9" rx="6" fill="#fff" stroke="#000" stroke-width="1.1" />
<rect x="333.8" y="795.2" width="113.9" height="35.9" rx="4.5" fill="none" stroke="#000" stroke-width="0.5" />
<rect x="343.4" y="790.8" width="22.3" height="42.2" rx="1.8" fill="#fff" stroke="#000" stroke-width="1.2" />
<line x1="343.4" y1="811.48" x2="365.7" y2="811.48" stroke="#000" stroke-width="0.8" />
<text x="354.55" y="803.27" font-size="4.8" text-anchor="middle" font-weight="normal" fill="#000" stroke="#000" stroke-width="0.14" >(S26)</text>
<rect x="345.85" y="815.95" width="17.39" height="9.4" rx="1.5" fill="#fff" stroke="#000" stroke-width="0.9" />
<path d="M348.05 817.95 H361.05 L359.65 822.75 H349.45 Z" fill="#777" stroke="#000" stroke-width="1.3" stroke-linejoin="round"/>
<line x1="349.05" y1="819.55" x2="360.05" y2="819.55" stroke="#000" stroke-width="1.0" />
<rect x="410" y="790.8" width="23.2" height="42.2" rx="1.8" fill="#fff" stroke="#000" stroke-width="1.2" />
<line x1="410" y1="811.48" x2="433.2" y2="811.48" stroke="#000" stroke-width="0.8" />
<text x="421.6" y="803.27" font-size="4.8" text-anchor="middle" font-weight="normal" fill="#000" stroke="#000" stroke-width="0.14" >(S59)</text>
<rect x="412.55" y="815.95" width="18.1" height="9.4" rx="1.5" fill="#fff" stroke="#000" stroke-width="0.9" />
<path d="M414.75 817.95 H428.45 L427.05 822.75 H416.15 Z" fill="#777" stroke="#000" stroke-width="1.3" stroke-linejoin="round"/>
<line x1="415.75" y1="819.55" x2="427.45" y2="819.55" stroke="#000" stroke-width="1.0" />
<text x="387.4" y="841" font-size="4.5" text-anchor="middle" font-weight="normal" fill="#000" stroke="#000" stroke-width="0.14" >– OFF –</text>
<circle cx="335.9" cy="841" r="4.4" fill="#fff" stroke="#000" stroke-width="0.9" />
<circle cx="335.9" cy="841" r="2.55" fill="#f6f6f6" stroke="#000" stroke-width="0.6" />
<line x1="333.7" y1="841" x2="338.1" y2="841" stroke="#000" stroke-width="0.8" />
<line x1="335.9" y1="838.8" x2="335.9" y2="843.2" stroke="#000" stroke-width="0.8" />
<circle cx="475.7" cy="841.8" r="4.4" fill="#fff" stroke="#000" stroke-width="0.9" />
<circle cx="475.7" cy="841.8" r="2.55" fill="#f6f6f6" stroke="#000" stroke-width="0.6" />
<line x1="473.5" y1="841.8" x2="477.9" y2="841.8" stroke="#000" stroke-width="0.8" />
<line x1="475.7" y1="839.6" x2="475.7" y2="844" stroke="#000" stroke-width="0.8" />
<path d="M476.5 687 V672.5 Q476.5 668 481 668 H594 Q598.6 668 598.6 672.5 V687" fill="none" stroke="#000" stroke-width="0.6" />
<path d="M480.8 677.2 V674 H512.97 M559.03 674 H583.4 V677.2" fill="none" stroke="#000" stroke-width="1.0" />
<text x="536" y="675.7" font-size="4.6" text-anchor="middle" font-weight="normal" fill="#000" stroke="#000" stroke-width="0.14" >LV TANK PRESS</text>
<path d="M480.8 682.1 V679.6 H487.77 M518.63 679.6 H530.8 V682.1" fill="none" stroke="#000" stroke-width="1.0" />
<text x="503.2" y="681.3" font-size="4.3" text-anchor="middle" font-weight="normal" fill="#000" stroke="#000" stroke-width="0.14" >SIVB OXID</text>
<path d="M533.4 682.1 V679.6 H542.57 M573.43 679.6 H583.4 V682.1" fill="none" stroke="#000" stroke-width="1.0" />
<text x="558" y="681.3" font-size="4.3" text-anchor="middle" font-weight="normal" fill="#000" stroke="#000" stroke-width="0.14" >SIVB FUEL</text>
<circle cx="590" cy="679.2" r="4.6" fill="#fff" stroke="#000" stroke-width="0.9" />
<circle cx="590" cy="679.2" r="2.67" fill="#f6f6f6" stroke="#000" stroke-width="0.6" />
<line x1="587.7" y1="679.2" x2="592.3" y2="679.2" stroke="#000" stroke-width="0.8" />
<line x1="590" y1="676.9" x2="590" y2="681.5" stroke="#000" stroke-width="0.8" />
<circle cx="474.7" cy="841.6" r="4.6" fill="#fff" stroke="#000" stroke-width="0.9" />
<circle cx="474.7" cy="841.6" r="2.67" fill="#f6f6f6" stroke="#000" stroke-width="0.6" />
<line x1="472.4" y1="841.6" x2="477" y2="841.6" stroke="#000" stroke-width="0.8" />
<line x1="474.7" y1="839.3" x2="474.7" y2="843.9" stroke="#000" stroke-width="0.8" />
<circle cx="589.5" cy="841.6" r="4.6" fill="#fff" stroke="#000" stroke-width="0.9" />
<circle cx="589.5" cy="841.6" r="2.67" fill="#f6f6f6" stroke="#000" stroke-width="0.6" />
<line x1="587.2" y1="841.6" x2="591.8" y2="841.6" stroke="#000" stroke-width="0.8" />
<line x1="589.5" y1="839.3" x2="589.5" y2="843.9" stroke="#000" stroke-width="0.8" />
<rect x="462.4" y="687" width="135.6" height="144.8" rx="2" fill="#fff" stroke="#000" stroke-width="1.6" />
<rect x="464.5" y="689" width="131.5" height="140.8" rx="1" fill="none" stroke="#000" stroke-width="0.5" />
<rect x="467.6" y="691" width="126.4" height="138.2" rx="1" fill="#f3f3f3" stroke="#000" stroke-width="0.8" />
<line x1="467.6" y1="698.5" x2="594" y2="698.5" stroke="#000" stroke-width="0.6" />
<line x1="467.6" y1="787" x2="594" y2="787" stroke="#000" stroke-width="0.8" />
<line x1="464.5" y1="827" x2="596" y2="827" stroke="#000" stroke-width="1.6" />
<text x="530.8" y="697" font-size="4.4" text-anchor="middle" font-weight="normal" fill="#000" stroke="#000" stroke-width="0.14" >(A3)</text>
<rect x="474.7" y="702" width="113.3" height="74.6" rx="4" fill="#000" stroke="#000" stroke-width="0" />
<rect x="483.9" y="707" width="4.2" height="63.4" rx="0" fill="#fff" stroke="#000" stroke-width="0" />
<line x1="483.9" y1="708.3" x2="481.3" y2="708.3" stroke="#fff" stroke-width="0.45" />
<line x1="483.9" y1="710.74" x2="482.4" y2="710.74" stroke="#fff" stroke-width="0.45" />
<line x1="483.9" y1="713.18" x2="482.4" y2="713.18" stroke="#fff" stroke-width="0.45" />
<line x1="483.9" y1="715.62" x2="482.4" y2="715.62" stroke="#fff" stroke-width="0.45" />
<line x1="483.9" y1="718.06" x2="482.4" y2="718.06" stroke="#fff" stroke-width="0.45" />
<line x1="483.9" y1="720.5" x2="481.3" y2="720.5" stroke="#fff" stroke-width="0.45" />
<line x1="483.9" y1="722.94" x2="482.4" y2="722.94" stroke="#fff" stroke-width="0.45" />
<line x1="483.9" y1="725.38" x2="482.4" y2="725.38" stroke="#fff" stroke-width="0.45" />
<line x1="483.9" y1="727.82" x2="482.4" y2="727.82" stroke="#fff" stroke-width="0.45" />
<line x1="483.9" y1="730.26" x2="482.4" y2="730.26" stroke="#fff" stroke-width="0.45" />
<line x1="483.9" y1="732.7" x2="481.3" y2="732.7" stroke="#fff" stroke-width="0.45" />
<line x1="483.9" y1="735.14" x2="482.4" y2="735.14" stroke="#fff" stroke-width="0.45" />
<line x1="483.9" y1="737.58" x2="482.4" y2="737.58" stroke="#fff" stroke-width="0.45" />
<line x1="483.9" y1="740.02" x2="482.4" y2="740.02" stroke="#fff" stroke-width="0.45" />
<line x1="483.9" y1="742.46" x2="482.4" y2="742.46" stroke="#fff" stroke-width="0.45" />
<line x1="483.9" y1="744.9" x2="481.3" y2="744.9" stroke="#fff" stroke-width="0.45" />
<line x1="483.9" y1="747.34" x2="482.4" y2="747.34" stroke="#fff" stroke-width="0.45" />
<line x1="483.9" y1="749.78" x2="482.4" y2="749.78" stroke="#fff" stroke-width="0.45" />
<line x1="483.9" y1="752.22" x2="482.4" y2="752.22" stroke="#fff" stroke-width="0.45" />
<line x1="483.9" y1="754.66" x2="482.4" y2="754.66" stroke="#fff" stroke-width="0.45" />
<line x1="483.9" y1="757.1" x2="481.3" y2="757.1" stroke="#fff" stroke-width="0.45" />
<line x1="483.9" y1="759.54" x2="482.4" y2="759.54" stroke="#fff" stroke-width="0.45" />
<line x1="483.9" y1="761.98" x2="482.4" y2="761.98" stroke="#fff" stroke-width="0.45" />
<line x1="483.9" y1="764.42" x2="482.4" y2="764.42" stroke="#fff" stroke-width="0.45" />
<line x1="483.9" y1="766.86" x2="482.4" y2="766.86" stroke="#fff" stroke-width="0.45" />
<line x1="483.9" y1="769.3" x2="481.3" y2="769.3" stroke="#fff" stroke-width="0.45" />
<path d="M481.6 738.3 L486 736.3 L490.4 738.3 L486 740.3 Z" fill="#000" stroke="none" stroke-width="0" />
<rect x="493.6" y="707" width="4.2" height="63.4" rx="0" fill="#fff" stroke="#000" stroke-width="0" />
<line x1="497.8" y1="708.3" x2="500.4" y2="708.3" stroke="#fff" stroke-width="0.45" />
<line x1="497.8" y1="710.74" x2="499.3" y2="710.74" stroke="#fff" stroke-width="0.45" />
<line x1="497.8" y1="713.18" x2="499.3" y2="713.18" stroke="#fff" stroke-width="0.45" />
<line x1="497.8" y1="715.62" x2="499.3" y2="715.62" stroke="#fff" stroke-width="0.45" />
<line x1="497.8" y1="718.06" x2="499.3" y2="718.06" stroke="#fff" stroke-width="0.45" />
<line x1="497.8" y1="720.5" x2="500.4" y2="720.5" stroke="#fff" stroke-width="0.45" />
<line x1="497.8" y1="722.94" x2="499.3" y2="722.94" stroke="#fff" stroke-width="0.45" />
<line x1="497.8" y1="725.38" x2="499.3" y2="725.38" stroke="#fff" stroke-width="0.45" />
<line x1="497.8" y1="727.82" x2="499.3" y2="727.82" stroke="#fff" stroke-width="0.45" />
<line x1="497.8" y1="730.26" x2="499.3" y2="730.26" stroke="#fff" stroke-width="0.45" />
<line x1="497.8" y1="732.7" x2="500.4" y2="732.7" stroke="#fff" stroke-width="0.45" />
<line x1="497.8" y1="735.14" x2="499.3" y2="735.14" stroke="#fff" stroke-width="0.45" />
<line x1="497.8" y1="737.58" x2="499.3" y2="737.58" stroke="#fff" stroke-width="0.45" />
<line x1="497.8" y1="740.02" x2="499.3" y2="740.02" stroke="#fff" stroke-width="0.45" />
<line x1="497.8" y1="742.46" x2="499.3" y2="742.46" stroke="#fff" stroke-width="0.45" />
<line x1="497.8" y1="744.9" x2="500.4" y2="744.9" stroke="#fff" stroke-width="0.45" />
<line x1="497.8" y1="747.34" x2="499.3" y2="747.34" stroke="#fff" stroke-width="0.45" />
<line x1="497.8" y1="749.78" x2="499.3" y2="749.78" stroke="#fff" stroke-width="0.45" />
<line x1="497.8" y1="752.22" x2="499.3" y2="752.22" stroke="#fff" stroke-width="0.45" />
<line x1="497.8" y1="754.66" x2="499.3" y2="754.66" stroke="#fff" stroke-width="0.45" />
<line x1="497.8" y1="757.1" x2="500.4" y2="757.1" stroke="#fff" stroke-width="0.45" />
<line x1="497.8" y1="759.54" x2="499.3" y2="759.54" stroke="#fff" stroke-width="0.45" />
<line x1="497.8" y1="761.98" x2="499.3" y2="761.98" stroke="#fff" stroke-width="0.45" />
<line x1="497.8" y1="764.42" x2="499.3" y2="764.42" stroke="#fff" stroke-width="0.45" />
<line x1="497.8" y1="766.86" x2="499.3" y2="766.86" stroke="#fff" stroke-width="0.45" />
<line x1="497.8" y1="769.3" x2="500.4" y2="769.3" stroke="#fff" stroke-width="0.45" />
<path d="M491.3 738.3 L495.7 736.3 L500.1 738.3 L495.7 740.3 Z" fill="#000" stroke="none" stroke-width="0" />
<rect x="510.9" y="707" width="4.2" height="63.4" rx="0" fill="#fff" stroke="#000" stroke-width="0" />
<line x1="510.9" y1="708.3" x2="508.3" y2="708.3" stroke="#fff" stroke-width="0.45" />
<line x1="510.9" y1="710.74" x2="509.4" y2="710.74" stroke="#fff" stroke-width="0.45" />
<line x1="510.9" y1="713.18" x2="509.4" y2="713.18" stroke="#fff" stroke-width="0.45" />
<line x1="510.9" y1="715.62" x2="509.4" y2="715.62" stroke="#fff" stroke-width="0.45" />
<line x1="510.9" y1="718.06" x2="509.4" y2="718.06" stroke="#fff" stroke-width="0.45" />
<line x1="510.9" y1="720.5" x2="508.3" y2="720.5" stroke="#fff" stroke-width="0.45" />
<line x1="510.9" y1="722.94" x2="509.4" y2="722.94" stroke="#fff" stroke-width="0.45" />
<line x1="510.9" y1="725.38" x2="509.4" y2="725.38" stroke="#fff" stroke-width="0.45" />
<line x1="510.9" y1="727.82" x2="509.4" y2="727.82" stroke="#fff" stroke-width="0.45" />
<line x1="510.9" y1="730.26" x2="509.4" y2="730.26" stroke="#fff" stroke-width="0.45" />
<line x1="510.9" y1="732.7" x2="508.3" y2="732.7" stroke="#fff" stroke-width="0.45" />
<line x1="510.9" y1="735.14" x2="509.4" y2="735.14" stroke="#fff" stroke-width="0.45" />
<line x1="510.9" y1="737.58" x2="509.4" y2="737.58" stroke="#fff" stroke-width="0.45" />
<line x1="510.9" y1="740.02" x2="509.4" y2="740.02" stroke="#fff" stroke-width="0.45" />
<line x1="510.9" y1="742.46" x2="509.4" y2="742.46" stroke="#fff" stroke-width="0.45" />
<line x1="510.9" y1="744.9" x2="508.3" y2="744.9" stroke="#fff" stroke-width="0.45" />
<line x1="510.9" y1="747.34" x2="509.4" y2="747.34" stroke="#fff" stroke-width="0.45" />
<line x1="510.9" y1="749.78" x2="509.4" y2="749.78" stroke="#fff" stroke-width="0.45" />
<line x1="510.9" y1="752.22" x2="509.4" y2="752.22" stroke="#fff" stroke-width="0.45" />
<line x1="510.9" y1="754.66" x2="509.4" y2="754.66" stroke="#fff" stroke-width="0.45" />
<line x1="510.9" y1="757.1" x2="508.3" y2="757.1" stroke="#fff" stroke-width="0.45" />
<line x1="510.9" y1="759.54" x2="509.4" y2="759.54" stroke="#fff" stroke-width="0.45" />
<line x1="510.9" y1="761.98" x2="509.4" y2="761.98" stroke="#fff" stroke-width="0.45" />
<line x1="510.9" y1="764.42" x2="509.4" y2="764.42" stroke="#fff" stroke-width="0.45" />
<line x1="510.9" y1="766.86" x2="509.4" y2="766.86" stroke="#fff" stroke-width="0.45" />
<line x1="510.9" y1="769.3" x2="508.3" y2="769.3" stroke="#fff" stroke-width="0.45" />
<path d="M508.6 738.3 L513 736.3 L517.4 738.3 L513 740.3 Z" fill="#000" stroke="none" stroke-width="0" />
<rect x="520.3" y="707" width="4.2" height="63.4" rx="0" fill="#fff" stroke="#000" stroke-width="0" />
<line x1="524.5" y1="708.3" x2="527.1" y2="708.3" stroke="#fff" stroke-width="0.45" />
<line x1="524.5" y1="710.74" x2="526" y2="710.74" stroke="#fff" stroke-width="0.45" />
<line x1="524.5" y1="713.18" x2="526" y2="713.18" stroke="#fff" stroke-width="0.45" />
<line x1="524.5" y1="715.62" x2="526" y2="715.62" stroke="#fff" stroke-width="0.45" />
<line x1="524.5" y1="718.06" x2="526" y2="718.06" stroke="#fff" stroke-width="0.45" />
<line x1="524.5" y1="720.5" x2="527.1" y2="720.5" stroke="#fff" stroke-width="0.45" />
<line x1="524.5" y1="722.94" x2="526" y2="722.94" stroke="#fff" stroke-width="0.45" />
<line x1="524.5" y1="725.38" x2="526" y2="725.38" stroke="#fff" stroke-width="0.45" />
<line x1="524.5" y1="727.82" x2="526" y2="727.82" stroke="#fff" stroke-width="0.45" />
<line x1="524.5" y1="730.26" x2="526" y2="730.26" stroke="#fff" stroke-width="0.45" />
<line x1="524.5" y1="732.7" x2="527.1" y2="732.7" stroke="#fff" stroke-width="0.45" />
<line x1="524.5" y1="735.14" x2="526" y2="735.14" stroke="#fff" stroke-width="0.45" />
<line x1="524.5" y1="737.58" x2="526" y2="737.58" stroke="#fff" stroke-width="0.45" />
<line x1="524.5" y1="740.02" x2="526" y2="740.02" stroke="#fff" stroke-width="0.45" />
<line x1="524.5" y1="742.46" x2="526" y2="742.46" stroke="#fff" stroke-width="0.45" />
<line x1="524.5" y1="744.9" x2="527.1" y2="744.9" stroke="#fff" stroke-width="0.45" />
<line x1="524.5" y1="747.34" x2="526" y2="747.34" stroke="#fff" stroke-width="0.45" />
<line x1="524.5" y1="749.78" x2="526" y2="749.78" stroke="#fff" stroke-width="0.45" />
<line x1="524.5" y1="752.22" x2="526" y2="752.22" stroke="#fff" stroke-width="0.45" />
<line x1="524.5" y1="754.66" x2="526" y2="754.66" stroke="#fff" stroke-width="0.45" />
<line x1="524.5" y1="757.1" x2="527.1" y2="757.1" stroke="#fff" stroke-width="0.45" />
<line x1="524.5" y1="759.54" x2="526" y2="759.54" stroke="#fff" stroke-width="0.45" />
<line x1="524.5" y1="761.98" x2="526" y2="761.98" stroke="#fff" stroke-width="0.45" />
<line x1="524.5" y1="764.42" x2="526" y2="764.42" stroke="#fff" stroke-width="0.45" />
<line x1="524.5" y1="766.86" x2="526" y2="766.86" stroke="#fff" stroke-width="0.45" />
<line x1="524.5" y1="769.3" x2="527.1" y2="769.3" stroke="#fff" stroke-width="0.45" />
<path d="M518 738.3 L522.4 736.3 L526.8 738.3 L522.4 740.3 Z" fill="#000" stroke="none" stroke-width="0" />
<rect x="537.5" y="707" width="4.2" height="63.4" rx="0" fill="#fff" stroke="#000" stroke-width="0" />
<line x1="537.5" y1="708.3" x2="534.9" y2="708.3" stroke="#fff" stroke-width="0.45" />
<line x1="537.5" y1="710.74" x2="536" y2="710.74" stroke="#fff" stroke-width="0.45" />
<line x1="537.5" y1="713.18" x2="536" y2="713.18" stroke="#fff" stroke-width="0.45" />
<line x1="537.5" y1="715.62" x2="536" y2="715.62" stroke="#fff" stroke-width="0.45" />
<line x1="537.5" y1="718.06" x2="536" y2="718.06" stroke="#fff" stroke-width="0.45" />
<line x1="537.5" y1="720.5" x2="534.9" y2="720.5" stroke="#fff" stroke-width="0.45" />
<line x1="537.5" y1="722.94" x2="536" y2="722.94" stroke="#fff" stroke-width="0.45" />
<line x1="537.5" y1="725.38" x2="536" y2="725.38" stroke="#fff" stroke-width="0.45" />
<line x1="537.5" y1="727.82" x2="536" y2="727.82" stroke="#fff" stroke-width="0.45" />
<line x1="537.5" y1="730.26" x2="536" y2="730.26" stroke="#fff" stroke-width="0.45" />
<line x1="537.5" y1="732.7" x2="534.9" y2="732.7" stroke="#fff" stroke-width="0.45" />
<line x1="537.5" y1="735.14" x2="536" y2="735.14" stroke="#fff" stroke-width="0.45" />
<line x1="537.5" y1="737.58" x2="536" y2="737.58" stroke="#fff" stroke-width="0.45" />
<line x1="537.5" y1="740.02" x2="536" y2="740.02" stroke="#fff" stroke-width="0.45" />
<line x1="537.5" y1="742.46" x2="536" y2="742.46" stroke="#fff" stroke-width="0.45" />
<line x1="537.5" y1="744.9" x2="534.9" y2="744.9" stroke="#fff" stroke-width="0.45" />
<line x1="537.5" y1="747.34" x2="536" y2="747.34" stroke="#fff" stroke-width="0.45" />
<line x1="537.5" y1="749.78" x2="536" y2="749.78" stroke="#fff" stroke-width="0.45" />
<line x1="537.5" y1="752.22" x2="536" y2="752.22" stroke="#fff" stroke-width="0.45" />
<line x1="537.5" y1="754.66" x2="536" y2="754.66" stroke="#fff" stroke-width="0.45" />
<line x1="537.5" y1="757.1" x2="534.9" y2="757.1" stroke="#fff" stroke-width="0.45" />
<line x1="537.5" y1="759.54" x2="536" y2="759.54" stroke="#fff" stroke-width="0.45" />
<line x1="537.5" y1="761.98" x2="536" y2="761.98" stroke="#fff" stroke-width="0.45" />
<line x1="537.5" y1="764.42" x2="536" y2="764.42" stroke="#fff" stroke-width="0.45" />
<line x1="537.5" y1="766.86" x2="536" y2="766.86" stroke="#fff" stroke-width="0.45" />
<line x1="537.5" y1="769.3" x2="534.9" y2="769.3" stroke="#fff" stroke-width="0.45" />
<path d="M535.2 738.3 L539.6 736.3 L544 738.3 L539.6 740.3 Z" fill="#000" stroke="none" stroke-width="0" />
<rect x="547.4" y="707" width="4.2" height="63.4" rx="0" fill="#fff" stroke="#000" stroke-width="0" />
<line x1="551.6" y1="708.3" x2="554.2" y2="708.3" stroke="#fff" stroke-width="0.45" />
<line x1="551.6" y1="710.74" x2="553.1" y2="710.74" stroke="#fff" stroke-width="0.45" />
<line x1="551.6" y1="713.18" x2="553.1" y2="713.18" stroke="#fff" stroke-width="0.45" />
<line x1="551.6" y1="715.62" x2="553.1" y2="715.62" stroke="#fff" stroke-width="0.45" />
<line x1="551.6" y1="718.06" x2="553.1" y2="718.06" stroke="#fff" stroke-width="0.45" />
<line x1="551.6" y1="720.5" x2="554.2" y2="720.5" stroke="#fff" stroke-width="0.45" />
<line x1="551.6" y1="722.94" x2="553.1" y2="722.94" stroke="#fff" stroke-width="0.45" />
<line x1="551.6" y1="725.38" x2="553.1" y2="725.38" stroke="#fff" stroke-width="0.45" />
<line x1="551.6" y1="727.82" x2="553.1" y2="727.82" stroke="#fff" stroke-width="0.45" />
<line x1="551.6" y1="730.26" x2="553.1" y2="730.26" stroke="#fff" stroke-width="0.45" />
<line x1="551.6" y1="732.7" x2="554.2" y2="732.7" stroke="#fff" stroke-width="0.45" />
<line x1="551.6" y1="735.14" x2="553.1" y2="735.14" stroke="#fff" stroke-width="0.45" />
<line x1="551.6" y1="737.58" x2="553.1" y2="737.58" stroke="#fff" stroke-width="0.45" />
<line x1="551.6" y1="740.02" x2="553.1" y2="740.02" stroke="#fff" stroke-width="0.45" />
<line x1="551.6" y1="742.46" x2="553.1" y2="742.46" stroke="#fff" stroke-width="0.45" />
<line x1="551.6" y1="744.9" x2="554.2" y2="744.9" stroke="#fff" stroke-width="0.45" />
<line x1="551.6" y1="747.34" x2="553.1" y2="747.34" stroke="#fff" stroke-width="0.45" />
<line x1="551.6" y1="749.78" x2="553.1" y2="749.78" stroke="#fff" stroke-width="0.45" />
<line x1="551.6" y1="752.22" x2="553.1" y2="752.22" stroke="#fff" stroke-width="0.45" />
<line x1="551.6" y1="754.66" x2="553.1" y2="754.66" stroke="#fff" stroke-width="0.45" />
<line x1="551.6" y1="757.1" x2="554.2" y2="757.1" stroke="#fff" stroke-width="0.45" />
<line x1="551.6" y1="759.54" x2="553.1" y2="759.54" stroke="#fff" stroke-width="0.45" />
<line x1="551.6" y1="761.98" x2="553.1" y2="761.98" stroke="#fff" stroke-width="0.45" />
<line x1="551.6" y1="764.42" x2="553.1" y2="764.42" stroke="#fff" stroke-width="0.45" />
<line x1="551.6" y1="766.86" x2="553.1" y2="766.86" stroke="#fff" stroke-width="0.45" />
<line x1="551.6" y1="769.3" x2="554.2" y2="769.3" stroke="#fff" stroke-width="0.45" />
<path d="M545.1 738.3 L549.5 736.3 L553.9 738.3 L549.5 740.3 Z" fill="#000" stroke="none" stroke-width="0" />
<rect x="565" y="707" width="4.2" height="63.4" rx="0" fill="#fff" stroke="#000" stroke-width="0" />
<line x1="565" y1="708.3" x2="562.4" y2="708.3" stroke="#fff" stroke-width="0.45" />
<line x1="565" y1="710.74" x2="563.5" y2="710.74" stroke="#fff" stroke-width="0.45" />
<line x1="565" y1="713.18" x2="563.5" y2="713.18" stroke="#fff" stroke-width="0.45" />
<line x1="565" y1="715.62" x2="563.5" y2="715.62" stroke="#fff" stroke-width="0.45" />
<line x1="565" y1="718.06" x2="563.5" y2="718.06" stroke="#fff" stroke-width="0.45" />
<line x1="565" y1="720.5" x2="562.4" y2="720.5" stroke="#fff" stroke-width="0.45" />
<line x1="565" y1="722.94" x2="563.5" y2="722.94" stroke="#fff" stroke-width="0.45" />
<line x1="565" y1="725.38" x2="563.5" y2="725.38" stroke="#fff" stroke-width="0.45" />
<line x1="565" y1="727.82" x2="563.5" y2="727.82" stroke="#fff" stroke-width="0.45" />
<line x1="565" y1="730.26" x2="563.5" y2="730.26" stroke="#fff" stroke-width="0.45" />
<line x1="565" y1="732.7" x2="562.4" y2="732.7" stroke="#fff" stroke-width="0.45" />
<line x1="565" y1="735.14" x2="563.5" y2="735.14" stroke="#fff" stroke-width="0.45" />
<line x1="565" y1="737.58" x2="563.5" y2="737.58" stroke="#fff" stroke-width="0.45" />
<line x1="565" y1="740.02" x2="563.5" y2="740.02" stroke="#fff" stroke-width="0.45" />
<line x1="565" y1="742.46" x2="563.5" y2="742.46" stroke="#fff" stroke-width="0.45" />
<line x1="565" y1="744.9" x2="562.4" y2="744.9" stroke="#fff" stroke-width="0.45" />
<line x1="565" y1="747.34" x2="563.5" y2="747.34" stroke="#fff" stroke-width="0.45" />
<line x1="565" y1="749.78" x2="563.5" y2="749.78" stroke="#fff" stroke-width="0.45" />
<line x1="565" y1="752.22" x2="563.5" y2="752.22" stroke="#fff" stroke-width="0.45" />
<line x1="565" y1="754.66" x2="563.5" y2="754.66" stroke="#fff" stroke-width="0.45" />
<line x1="565" y1="757.1" x2="562.4" y2="757.1" stroke="#fff" stroke-width="0.45" />
<line x1="565" y1="759.54" x2="563.5" y2="759.54" stroke="#fff" stroke-width="0.45" />
<line x1="565" y1="761.98" x2="563.5" y2="761.98" stroke="#fff" stroke-width="0.45" />
<line x1="565" y1="764.42" x2="563.5" y2="764.42" stroke="#fff" stroke-width="0.45" />
<line x1="565" y1="766.86" x2="563.5" y2="766.86" stroke="#fff" stroke-width="0.45" />
<line x1="565" y1="769.3" x2="562.4" y2="769.3" stroke="#fff" stroke-width="0.45" />
<path d="M562.7 738.3 L567.1 736.3 L571.5 738.3 L567.1 740.3 Z" fill="#000" stroke="none" stroke-width="0" />
<rect x="574.3" y="707" width="4.2" height="63.4" rx="0" fill="#fff" stroke="#000" stroke-width="0" />
<line x1="578.5" y1="708.3" x2="581.1" y2="708.3" stroke="#fff" stroke-width="0.45" />
<line x1="578.5" y1="710.74" x2="580" y2="710.74" stroke="#fff" stroke-width="0.45" />
<line x1="578.5" y1="713.18" x2="580" y2="713.18" stroke="#fff" stroke-width="0.45" />
<line x1="578.5" y1="715.62" x2="580" y2="715.62" stroke="#fff" stroke-width="0.45" />
<line x1="578.5" y1="718.06" x2="580" y2="718.06" stroke="#fff" stroke-width="0.45" />
<line x1="578.5" y1="720.5" x2="581.1" y2="720.5" stroke="#fff" stroke-width="0.45" />
<line x1="578.5" y1="722.94" x2="580" y2="722.94" stroke="#fff" stroke-width="0.45" />
<line x1="578.5" y1="725.38" x2="580" y2="725.38" stroke="#fff" stroke-width="0.45" />
<line x1="578.5" y1="727.82" x2="580" y2="727.82" stroke="#fff" stroke-width="0.45" />
<line x1="578.5" y1="730.26" x2="580" y2="730.26" stroke="#fff" stroke-width="0.45" />
<line x1="578.5" y1="732.7" x2="581.1" y2="732.7" stroke="#fff" stroke-width="0.45" />
<line x1="578.5" y1="735.14" x2="580" y2="735.14" stroke="#fff" stroke-width="0.45" />
<line x1="578.5" y1="737.58" x2="580" y2="737.58" stroke="#fff" stroke-width="0.45" />
<line x1="578.5" y1="740.02" x2="580" y2="740.02" stroke="#fff" stroke-width="0.45" />
<line x1="578.5" y1="742.46" x2="580" y2="742.46" stroke="#fff" stroke-width="0.45" />
<line x1="578.5" y1="744.9" x2="581.1" y2="744.9" stroke="#fff" stroke-width="0.45" />
<line x1="578.5" y1="747.34" x2="580" y2="747.34" stroke="#fff" stroke-width="0.45" />
<line x1="578.5" y1="749.78" x2="580" y2="749.78" stroke="#fff" stroke-width="0.45" />
<line x1="578.5" y1="752.22" x2="580" y2="752.22" stroke="#fff" stroke-width="0.45" />
<line x1="578.5" y1="754.66" x2="580" y2="754.66" stroke="#fff" stroke-width="0.45" />
<line x1="578.5" y1="757.1" x2="581.1" y2="757.1" stroke="#fff" stroke-width="0.45" />
<line x1="578.5" y1="759.54" x2="580" y2="759.54" stroke="#fff" stroke-width="0.45" />
<line x1="578.5" y1="761.98" x2="580" y2="761.98" stroke="#fff" stroke-width="0.45" />
<line x1="578.5" y1="764.42" x2="580" y2="764.42" stroke="#fff" stroke-width="0.45" />
<line x1="578.5" y1="766.86" x2="580" y2="766.86" stroke="#fff" stroke-width="0.45" />
<line x1="578.5" y1="769.3" x2="581.1" y2="769.3" stroke="#fff" stroke-width="0.45" />
<path d="M572 738.3 L576.4 736.3 L580.8 738.3 L576.4 740.3 Z" fill="#000" stroke="none" stroke-width="0" />
<text x="479.3" y="710" font-size="4.6" text-anchor="middle" font-weight="bold" fill="#fff" >50</text>
<text x="479.3" y="722.2" font-size="4.6" text-anchor="middle" font-weight="bold" fill="#fff" >40</text>
<text x="479.3" y="734.4" font-size="4.6" text-anchor="middle" font-weight="bold" fill="#fff" >30</text>
<text x="479.3" y="746.6" font-size="4.6" text-anchor="middle" font-weight="bold" fill="#fff" >20</text>
<text x="479.3" y="758.8" font-size="4.6" text-anchor="middle" font-weight="bold" fill="#fff" >10</text>
<text x="479.3" y="771" font-size="4.6" text-anchor="middle" font-weight="bold" fill="#fff" >0</text>
<text x="530.8" y="710" font-size="4.6" text-anchor="middle" font-weight="bold" fill="#fff" >50</text>
<text x="530.8" y="722.2" font-size="4.6" text-anchor="middle" font-weight="bold" fill="#fff" >40</text>
<text x="530.8" y="734.4" font-size="4.6" text-anchor="middle" font-weight="bold" fill="#fff" >30</text>
<text x="530.8" y="746.6" font-size="4.6" text-anchor="middle" font-weight="bold" fill="#fff" >20</text>
<text x="530.8" y="758.8" font-size="4.6" text-anchor="middle" font-weight="bold" fill="#fff" >10</text>
<text x="530.8" y="771" font-size="4.6" text-anchor="middle" font-weight="bold" fill="#fff" >0</text>
<text x="584.3" y="710" font-size="4.6" text-anchor="middle" font-weight="bold" fill="#fff" >50</text>
<text x="584.3" y="722.2" font-size="4.6" text-anchor="middle" font-weight="bold" fill="#fff" >40</text>
<text x="584.3" y="734.4" font-size="4.6" text-anchor="middle" font-weight="bold" fill="#fff" >30</text>
<text x="584.3" y="746.6" font-size="4.6" text-anchor="middle" font-weight="bold" fill="#fff" >20</text>
<text x="584.3" y="758.8" font-size="4.6" text-anchor="middle" font-weight="bold" fill="#fff" >10</text>
<text x="584.3" y="771" font-size="4.6" text-anchor="middle" font-weight="bold" fill="#fff" >0</text>
<text x="504.5" y="713.6" font-size="4.6" text-anchor="middle" font-weight="bold" fill="#fff" >4</text>
<text x="504.5" y="720.4" font-size="4.6" text-anchor="middle" font-weight="bold" fill="#fff" >+</text>
<text x="504.5" y="727.2" font-size="4.6" text-anchor="middle" font-weight="bold" fill="#fff" >2</text>
<text x="504.5" y="734" font-size="4.6" text-anchor="middle" font-weight="bold" fill="#fff" >+</text>
<text x="504.5" y="740.8" font-size="4.6" text-anchor="middle" font-weight="bold" fill="#fff" >0</text>
<text x="504.5" y="747.6" font-size="4.6" text-anchor="middle" font-weight="bold" fill="#fff" >–</text>
<text x="504.5" y="754.4" font-size="4.6" text-anchor="middle" font-weight="bold" fill="#fff" >2</text>
<text x="504.5" y="761.2" font-size="4.6" text-anchor="middle" font-weight="bold" fill="#fff" >–</text>
<text x="504.5" y="768" font-size="4.6" text-anchor="middle" font-weight="bold" fill="#fff" >4</text>
<text x="557.8" y="713.6" font-size="4.6" text-anchor="middle" font-weight="bold" fill="#fff" >4</text>
<text x="557.8" y="720.4" font-size="4.6" text-anchor="middle" font-weight="bold" fill="#fff" >+</text>
<text x="557.8" y="727.2" font-size="4.6" text-anchor="middle" font-weight="bold" fill="#fff" >2</text>
<text x="557.8" y="734" font-size="4.6" text-anchor="middle" font-weight="bold" fill="#fff" >+</text>
<text x="557.8" y="740.8" font-size="4.6" text-anchor="middle" font-weight="bold" fill="#fff" >0</text>
<text x="557.8" y="747.6" font-size="4.6" text-anchor="middle" font-weight="bold" fill="#fff" >–</text>
<text x="557.8" y="754.4" font-size="4.6" text-anchor="middle" font-weight="bold" fill="#fff" >2</text>
<text x="557.8" y="761.2" font-size="4.6" text-anchor="middle" font-weight="bold" fill="#fff" >–</text>
<text x="557.8" y="768" font-size="4.6" text-anchor="middle" font-weight="bold" fill="#fff" >4</text>
<circle cx="501.4" cy="808.6" r="17.8" fill="#fff" stroke="#000" stroke-width="0.7" />
<circle cx="501.4" cy="808.6" r="15.6" fill="#fff" stroke="#000" stroke-width="1.2" />
<rect x="493.8" y="796.1" width="4" height="25" rx="0" fill="#222" stroke="#000" stroke-width="0" />
<line x1="493.8" y1="797.1" x2="496.1" y2="797.1" stroke="#fff" stroke-width="0.5" />
<line x1="493.8" y1="799.2" x2="496.1" y2="799.2" stroke="#fff" stroke-width="0.5" />
<line x1="493.8" y1="801.3" x2="496.1" y2="801.3" stroke="#fff" stroke-width="0.5" />
<line x1="493.8" y1="803.4" x2="496.1" y2="803.4" stroke="#fff" stroke-width="0.5" />
<line x1="493.8" y1="805.5" x2="496.1" y2="805.5" stroke="#fff" stroke-width="0.5" />
<line x1="493.8" y1="807.6" x2="496.1" y2="807.6" stroke="#fff" stroke-width="0.5" />
<line x1="493.8" y1="809.7" x2="496.1" y2="809.7" stroke="#fff" stroke-width="0.5" />
<line x1="493.8" y1="811.8" x2="496.1" y2="811.8" stroke="#fff" stroke-width="0.5" />
<line x1="493.8" y1="813.9" x2="496.1" y2="813.9" stroke="#fff" stroke-width="0.5" />
<line x1="493.8" y1="816" x2="496.1" y2="816" stroke="#fff" stroke-width="0.5" />
<line x1="493.8" y1="818.1" x2="496.1" y2="818.1" stroke="#fff" stroke-width="0.5" />
<line x1="493.8" y1="820.2" x2="496.1" y2="820.2" stroke="#fff" stroke-width="0.5" />
<rect x="504.4" y="796.1" width="4" height="25" rx="0" fill="#222" stroke="#000" stroke-width="0" />
<line x1="504.4" y1="797.1" x2="506.7" y2="797.1" stroke="#fff" stroke-width="0.5" />
<line x1="504.4" y1="799.2" x2="506.7" y2="799.2" stroke="#fff" stroke-width="0.5" />
<line x1="504.4" y1="801.3" x2="506.7" y2="801.3" stroke="#fff" stroke-width="0.5" />
<line x1="504.4" y1="803.4" x2="506.7" y2="803.4" stroke="#fff" stroke-width="0.5" />
<line x1="504.4" y1="805.5" x2="506.7" y2="805.5" stroke="#fff" stroke-width="0.5" />
<line x1="504.4" y1="807.6" x2="506.7" y2="807.6" stroke="#fff" stroke-width="0.5" />
<line x1="504.4" y1="809.7" x2="506.7" y2="809.7" stroke="#fff" stroke-width="0.5" />
<line x1="504.4" y1="811.8" x2="506.7" y2="811.8" stroke="#fff" stroke-width="0.5" />
<line x1="504.4" y1="813.9" x2="506.7" y2="813.9" stroke="#fff" stroke-width="0.5" />
<line x1="504.4" y1="816" x2="506.7" y2="816" stroke="#fff" stroke-width="0.5" />
<line x1="504.4" y1="818.1" x2="506.7" y2="818.1" stroke="#fff" stroke-width="0.5" />
<line x1="504.4" y1="820.2" x2="506.7" y2="820.2" stroke="#fff" stroke-width="0.5" />
<rect x="498.8" y="795.1" width="4.6" height="27" rx="0" fill="#fff" stroke="#000" stroke-width="0.6" />
<line x1="499.9" y1="799.6" x2="502.3" y2="799.6" stroke="#000" stroke-width="0.6" />
<line x1="499.9" y1="804.1" x2="502.3" y2="804.1" stroke="#000" stroke-width="0.6" />
<line x1="499.9" y1="808.6" x2="502.3" y2="808.6" stroke="#000" stroke-width="0.6" />
<line x1="499.9" y1="813.1" x2="502.3" y2="813.1" stroke="#000" stroke-width="0.6" />
<line x1="499.9" y1="817.6" x2="502.3" y2="817.6" stroke="#000" stroke-width="0.6" />
<path d="M484.4 805.8 L496.4 808.6 L484.4 811.4 Z" fill="#fff" stroke="#000" stroke-width="0.7" />
<path d="M518.4 805.8 L505.8 808.6 L518.4 811.4 Z" fill="#fff" stroke="#000" stroke-width="0.7" />
<circle cx="561" cy="808.6" r="17.8" fill="#fff" stroke="#000" stroke-width="0.7" />
<circle cx="561" cy="808.6" r="15.6" fill="#fff" stroke="#000" stroke-width="1.2" />
<rect x="548" y="802.3" width="25.6" height="3.4" rx="0" fill="#222" stroke="#000" stroke-width="0" />
<line x1="549" y1="802.3" x2="549" y2="804.3" stroke="#fff" stroke-width="0.5" />
<line x1="551.15" y1="802.3" x2="551.15" y2="804.3" stroke="#fff" stroke-width="0.5" />
<line x1="553.3" y1="802.3" x2="553.3" y2="804.3" stroke="#fff" stroke-width="0.5" />
<line x1="555.45" y1="802.3" x2="555.45" y2="804.3" stroke="#fff" stroke-width="0.5" />
<line x1="557.6" y1="802.3" x2="557.6" y2="804.3" stroke="#fff" stroke-width="0.5" />
<line x1="559.75" y1="802.3" x2="559.75" y2="804.3" stroke="#fff" stroke-width="0.5" />
<line x1="561.9" y1="802.3" x2="561.9" y2="804.3" stroke="#fff" stroke-width="0.5" />
<line x1="564.05" y1="802.3" x2="564.05" y2="804.3" stroke="#fff" stroke-width="0.5" />
<line x1="566.2" y1="802.3" x2="566.2" y2="804.3" stroke="#fff" stroke-width="0.5" />
<line x1="568.35" y1="802.3" x2="568.35" y2="804.3" stroke="#fff" stroke-width="0.5" />
<line x1="570.5" y1="802.3" x2="570.5" y2="804.3" stroke="#fff" stroke-width="0.5" />
<line x1="572.65" y1="802.3" x2="572.65" y2="804.3" stroke="#fff" stroke-width="0.5" />
<rect x="548" y="811.8" width="25.6" height="3.4" rx="0" fill="#222" stroke="#000" stroke-width="0" />
<line x1="549" y1="811.8" x2="549" y2="813.8" stroke="#fff" stroke-width="0.5" />
<line x1="551.15" y1="811.8" x2="551.15" y2="813.8" stroke="#fff" stroke-width="0.5" />
<line x1="553.3" y1="811.8" x2="553.3" y2="813.8" stroke="#fff" stroke-width="0.5" />
<line x1="555.45" y1="811.8" x2="555.45" y2="813.8" stroke="#fff" stroke-width="0.5" />
<line x1="557.6" y1="811.8" x2="557.6" y2="813.8" stroke="#fff" stroke-width="0.5" />
<line x1="559.75" y1="811.8" x2="559.75" y2="813.8" stroke="#fff" stroke-width="0.5" />
<line x1="561.9" y1="811.8" x2="561.9" y2="813.8" stroke="#fff" stroke-width="0.5" />
<line x1="564.05" y1="811.8" x2="564.05" y2="813.8" stroke="#fff" stroke-width="0.5" />
<line x1="566.2" y1="811.8" x2="566.2" y2="813.8" stroke="#fff" stroke-width="0.5" />
<line x1="568.35" y1="811.8" x2="568.35" y2="813.8" stroke="#fff" stroke-width="0.5" />
<line x1="570.5" y1="811.8" x2="570.5" y2="813.8" stroke="#fff" stroke-width="0.5" />
<line x1="572.65" y1="811.8" x2="572.65" y2="813.8" stroke="#fff" stroke-width="0.5" />
<rect x="547" y="806.5" width="27.6" height="4.5" rx="0" fill="#fff" stroke="#000" stroke-width="0.7" />
<line x1="550" y1="807.4" x2="550" y2="810.1" stroke="#000" stroke-width="0.8" />
<line x1="554.4" y1="807.4" x2="554.4" y2="810.1" stroke="#000" stroke-width="0.8" />
<line x1="558.8" y1="807.4" x2="558.8" y2="810.1" stroke="#000" stroke-width="0.8" />
<line x1="563.2" y1="807.4" x2="563.2" y2="810.1" stroke="#000" stroke-width="0.8" />
<line x1="567.6" y1="807.4" x2="567.6" y2="810.1" stroke="#000" stroke-width="0.8" />
<line x1="572" y1="807.4" x2="572" y2="810.1" stroke="#000" stroke-width="0.8" />
<path d="M558.2 791.6 L561 803.6 L563.8 791.6 Z" fill="#fff" stroke="#000" stroke-width="0.7" />
<path d="M558.2 825.6 L561 814.1 L563.8 825.6 Z" fill="#fff" stroke="#000" stroke-width="0.7" />
<text x="500" y="842.6" font-size="4.5" text-anchor="middle" font-weight="normal" fill="#000" stroke="#000" stroke-width="0.14" >PITCH</text>
<text x="566.3" y="842.6" font-size="4.5" text-anchor="middle" font-weight="normal" fill="#000" stroke="#000" stroke-width="0.14" >YAW</text>
<path d="M490 841 V845 H514 M553 845 H576.8 V841" fill="none" stroke="#000" stroke-width="0.8" />
<text x="533.4" y="846.7" font-size="4.5" text-anchor="middle" font-weight="normal" fill="#000" stroke="#000" stroke-width="0.14" >SPS GIMBAL</text>
<path d="M620 676.6 H705 Q713.8 676.6 713.8 685 V838.5 Q713.8 847 705 847 H620 Q610.8 847 610.8 838.5 V685 Q610.8 676.6 620 676.6 Z" fill="#f1f1f1" stroke="#000" stroke-width="0.9" />
<circle cx="619" cy="684.9" r="5.3" fill="#fff" stroke="#000" stroke-width="0.8" />
<circle cx="619" cy="684.9" r="4.24" fill="none" stroke="#000" stroke-width="0.4" />
<path d="M617.94 681.61 H620.06 V683.84 H622.29 V685.96 H620.06 V688.19 H617.94 V685.96 H615.71 V683.84 H617.94 Z" fill="#fff" stroke="#000" stroke-width="0.6" />
<circle cx="703.2" cy="684.9" r="5.3" fill="#fff" stroke="#000" stroke-width="0.8" />
<circle cx="703.2" cy="684.9" r="4.24" fill="none" stroke="#000" stroke-width="0.4" />
<path d="M702.14 681.61 H704.26 V683.84 H706.49 V685.96 H704.26 V688.19 H702.14 V685.96 H699.91 V683.84 H702.14 Z" fill="#fff" stroke="#000" stroke-width="0.6" />
<circle cx="619" cy="835.3" r="5.3" fill="#fff" stroke="#000" stroke-width="0.8" />
<circle cx="619" cy="835.3" r="4.24" fill="none" stroke="#000" stroke-width="0.4" />
<path d="M617.94 832.01 H620.06 V834.24 H622.29 V836.36 H620.06 V838.59 H617.94 V836.36 H615.71 V834.24 H617.94 Z" fill="#fff" stroke="#000" stroke-width="0.6" />
<circle cx="703.2" cy="835.3" r="5.3" fill="#fff" stroke="#000" stroke-width="0.8" />
<circle cx="703.2" cy="835.3" r="4.24" fill="none" stroke="#000" stroke-width="0.4" />
<path d="M702.14 832.01 H704.26 V834.24 H706.49 V836.36 H704.26 V838.59 H702.14 V836.36 H699.91 V834.24 H702.14 Z" fill="#fff" stroke="#000" stroke-width="0.6" />
<rect x="607" y="693.5" width="111" height="134.5" rx="2" fill="#f1f1f1" stroke="#000" stroke-width="0.8" />
<rect x="641" y="693.5" width="39" height="4.5" rx="0" fill="#fff" stroke="#000" stroke-width="0.8" />
<rect x="641" y="823.5" width="39" height="4.5" rx="0" fill="#fff" stroke="#000" stroke-width="1.4" />
<rect x="594.7" y="696.7" width="135" height="26.1" rx="3.5" fill="#fff" stroke="#000" stroke-width="1.0" />
<line x1="599.5" y1="696.7" x2="599.5" y2="722.8" stroke="#000" stroke-width="0.5" />
<line x1="724.5" y1="696.7" x2="724.5" y2="722.8" stroke="#000" stroke-width="0.5" />
<line x1="657" y1="696.7" x2="657" y2="722.8" stroke="#000" stroke-width="0.6" />
<line x1="664" y1="696.7" x2="664" y2="722.8" stroke="#000" stroke-width="0.6" />
<path d="M657 706.75 Q660 709.75 657 712.75" fill="none" stroke="#000" stroke-width="0.6" />
<path d="M664 706.75 Q661 709.75 664 712.75" fill="none" stroke="#000" stroke-width="0.6" />
<text x="647" y="711.35" font-size="4.5" text-anchor="middle" font-weight="normal" fill="#000" stroke="#000" stroke-width="0.14" >(S29)</text>
<text x="674.7" y="711.35" font-size="4.5" text-anchor="middle" font-weight="normal" fill="#000" stroke="#000" stroke-width="0.14" >(S30)</text>
<rect x="610" y="697.9" width="25.7" height="23.7" rx="0.5" fill="#fff" stroke="#000" stroke-width="0.7" />
<line x1="611.5" y1="709.25" x2="634.2" y2="709.25" stroke="#000" stroke-width="0.5" />
<text x="622.85" y="702.85" font-size="4.0" text-anchor="middle" font-weight="bold" fill="#000" >LIFT</text>
<text x="622.85" y="708.45" font-size="4.0" text-anchor="middle" font-weight="bold" fill="#000" >OFF</text>
<text x="622.85" y="714.05" font-size="4.0" text-anchor="middle" font-weight="bold" fill="#000" >NO AUTO</text>
<text x="622.85" y="719.65" font-size="4.0" text-anchor="middle" font-weight="bold" fill="#000" >ABORT</text>
<rect x="685.4" y="697.9" width="26.1" height="23.7" rx="0.5" fill="#000" stroke="#000" stroke-width="0" />
<text x="698.45" y="705.35" font-size="4.6" text-anchor="middle" font-weight="bold" fill="#fff" >APEX</text>
<text x="698.45" y="711.25" font-size="4.6" text-anchor="middle" font-weight="bold" fill="#fff" >COVER</text>
<text x="698.45" y="717.15" font-size="4.6" text-anchor="middle" font-weight="bold" fill="#fff" >JETT</text>
<rect x="594.7" y="731" width="135" height="26" rx="3.5" fill="#fff" stroke="#000" stroke-width="1.0" />
<line x1="599.5" y1="731" x2="599.5" y2="757" stroke="#000" stroke-width="0.5" />
<line x1="724.5" y1="731" x2="724.5" y2="757" stroke="#000" stroke-width="0.5" />
<line x1="657" y1="731" x2="657" y2="757" stroke="#000" stroke-width="0.6" />
<line x1="664" y1="731" x2="664" y2="757" stroke="#000" stroke-width="0.6" />
<path d="M657 741 Q660 744 657 747" fill="none" stroke="#000" stroke-width="0.6" />
<path d="M664 741 Q661 744 664 747" fill="none" stroke="#000" stroke-width="0.6" />
<text x="647" y="745.6" font-size="4.5" text-anchor="middle" font-weight="normal" fill="#000" stroke="#000" stroke-width="0.14" >(S31)</text>
<text x="674.7" y="745.6" font-size="4.5" text-anchor="middle" font-weight="normal" fill="#000" stroke="#000" stroke-width="0.14" >(S32)</text>
<rect x="610" y="732.2" width="25.7" height="23.6" rx="0.5" fill="#000" stroke="#000" stroke-width="0" />
<text x="622.85" y="739.6" font-size="4.6" text-anchor="middle" font-weight="bold" fill="#fff" >LES</text>
<text x="622.85" y="745.5" font-size="4.6" text-anchor="middle" font-weight="bold" fill="#fff" >MOTOR</text>
<text x="622.85" y="751.4" font-size="4.6" text-anchor="middle" font-weight="bold" fill="#fff" >FIRE</text>
<rect x="685.4" y="732.2" width="26.1" height="23.6" rx="0.5" fill="#000" stroke="#000" stroke-width="0" />
<text x="698.45" y="742.55" font-size="4.6" text-anchor="middle" font-weight="bold" fill="#fff" >DROGUE</text>
<text x="698.45" y="748.45" font-size="4.6" text-anchor="middle" font-weight="bold" fill="#fff" >DEPLOY</text>
<rect x="594.7" y="765.4" width="135" height="25.3" rx="3.5" fill="#fff" stroke="#000" stroke-width="1.0" />
<line x1="599.5" y1="765.4" x2="599.5" y2="790.7" stroke="#000" stroke-width="0.5" />
<line x1="724.5" y1="765.4" x2="724.5" y2="790.7" stroke="#000" stroke-width="0.5" />
<line x1="657" y1="765.4" x2="657" y2="790.7" stroke="#000" stroke-width="0.6" />
<line x1="664" y1="765.4" x2="664" y2="790.7" stroke="#000" stroke-width="0.6" />
<path d="M657 775.05 Q660 778.05 657 781.05" fill="none" stroke="#000" stroke-width="0.6" />
<path d="M664 775.05 Q661 778.05 664 781.05" fill="none" stroke="#000" stroke-width="0.6" />
<text x="647" y="779.65" font-size="4.5" text-anchor="middle" font-weight="normal" fill="#000" stroke="#000" stroke-width="0.14" >(S33)</text>
<text x="674.7" y="779.65" font-size="4.5" text-anchor="middle" font-weight="normal" fill="#000" stroke="#000" stroke-width="0.14" >(S34)</text>
<rect x="610" y="766.6" width="25.7" height="22.9" rx="0.5" fill="#000" stroke="#000" stroke-width="0" />
<text x="622.85" y="776.6" font-size="4.6" text-anchor="middle" font-weight="bold" fill="#fff" >CANARD</text>
<text x="622.85" y="782.5" font-size="4.6" text-anchor="middle" font-weight="bold" fill="#fff" >DEPLOY</text>
<rect x="685.4" y="766.6" width="26.1" height="22.9" rx="0.5" fill="#000" stroke="#000" stroke-width="0" />
<text x="698.45" y="776.6" font-size="4.6" text-anchor="middle" font-weight="bold" fill="#fff" >MAIN</text>
<text x="698.45" y="782.5" font-size="4.6" text-anchor="middle" font-weight="bold" fill="#fff" >DEPLOY</text>
<rect x="594.7" y="799.3" width="135" height="25.3" rx="3.5" fill="#fff" stroke="#000" stroke-width="1.0" />
<line x1="599.5" y1="799.3" x2="599.5" y2="824.6" stroke="#000" stroke-width="0.5" />
<line x1="724.5" y1="799.3" x2="724.5" y2="824.6" stroke="#000" stroke-width="0.5" />
<line x1="657" y1="799.3" x2="657" y2="824.6" stroke="#000" stroke-width="0.6" />
<line x1="664" y1="799.3" x2="664" y2="824.6" stroke="#000" stroke-width="0.6" />
<path d="M657 808.95 Q660 811.95 657 814.95" fill="none" stroke="#000" stroke-width="0.6" />
<path d="M664 808.95 Q661 811.95 664 814.95" fill="none" stroke="#000" stroke-width="0.6" />
<text x="647" y="813.55" font-size="4.5" text-anchor="middle" font-weight="normal" fill="#000" stroke="#000" stroke-width="0.14" >(S35)</text>
<text x="674.7" y="813.55" font-size="4.5" text-anchor="middle" font-weight="normal" fill="#000" stroke="#000" stroke-width="0.14" >(S60)</text>
<rect x="610" y="800.5" width="25.7" height="22.9" rx="0.5" fill="#000" stroke="#000" stroke-width="0" />
<text x="622.85" y="810.5" font-size="4.6" text-anchor="middle" font-weight="bold" fill="#fff" >CSM/LV</text>
<text x="622.85" y="816.4" font-size="4.6" text-anchor="middle" font-weight="bold" fill="#fff" >SEP</text>
<rect x="685.4" y="800.5" width="26.1" height="22.9" rx="0.5" fill="#000" stroke="#000" stroke-width="0" />
<text x="698.45" y="807.55" font-size="4.6" text-anchor="middle" font-weight="bold" fill="#fff" >CM RCS</text>
<text x="698.45" y="813.45" font-size="4.6" text-anchor="middle" font-weight="bold" fill="#fff" >He</text>
<text x="698.45" y="819.35" font-size="4.6" text-anchor="middle" font-weight="bold" fill="#fff" >DUMP</text>
<rect x="642.8" y="719.3" width="35.5" height="15.2" rx="1.5" fill="#f4f4f4" stroke="#000" stroke-width="0.9" />
<rect x="642.8" y="753.5" width="35.5" height="15.4" rx="1.5" fill="#f4f4f4" stroke="#000" stroke-width="0.9" />
<rect x="642.8" y="787.2" width="35.5" height="15.6" rx="1.5" fill="#f4f4f4" stroke="#000" stroke-width="0.9" />
<defs><filter id="blur" x="-50%" y="-50%" width="200%" height="200%"><feGaussianBlur stdDeviation="2.8"/></filter></defs>
<rect x="93.2" y="826.8" width="112.7" height="151.6" rx="1.5" fill="#fff" stroke="#000" stroke-width="1.3" />
<rect x="95.3" y="828.9" width="108.5" height="147.4" rx="1" fill="none" stroke="#000" stroke-width="0.5" />
<text x="150" y="834" font-size="4.4" text-anchor="middle" font-weight="normal" fill="#000" stroke="#000" stroke-width="0.14" >(A4)</text>
<circle cx="122.5" cy="859" r="16.3" fill="#fff" stroke="#000" stroke-width="0.8" />
<path d="M111.5 844.2 A18.4 18.4 0 0 1 126.5 841" fill="none" stroke="#000" stroke-width="0.45" />
<path d="M118.5 877 A18.4 18.4 0 0 0 133.5 873.8" fill="none" stroke="#000" stroke-width="0.45" />
<rect x="115.2" y="845.6" width="14.6" height="26.8" rx="0.8" fill="#fff" stroke="#000" stroke-width="1.4" />
<rect x="117.3" y="847.2" width="10.4" height="23.6" rx="0" fill="#ccc" stroke="#000" stroke-width="0.6" />
<line x1="117.5" y1="848.7" x2="127.5" y2="848.7" stroke="#222" stroke-width="1.5" />
<line x1="117.5" y1="851.65" x2="127.5" y2="851.65" stroke="#222" stroke-width="1.5" />
<line x1="117.5" y1="854.6" x2="127.5" y2="854.6" stroke="#222" stroke-width="1.5" />
<line x1="117.5" y1="857.55" x2="127.5" y2="857.55" stroke="#222" stroke-width="1.5" />
<line x1="117.5" y1="860.5" x2="127.5" y2="860.5" stroke="#222" stroke-width="1.5" />
<line x1="117.5" y1="863.45" x2="127.5" y2="863.45" stroke="#222" stroke-width="1.5" />
<line x1="117.5" y1="866.4" x2="127.5" y2="866.4" stroke="#222" stroke-width="1.5" />
<line x1="117.5" y1="869.35" x2="127.5" y2="869.35" stroke="#222" stroke-width="1.5" />
<rect x="165.5" y="850.5" width="29.8" height="19" rx="2" fill="#fff" stroke="#000" stroke-width="1.2" />
<rect x="170.3" y="851.7" width="21.4" height="5.2" rx="1" fill="none" stroke="#000" stroke-width="0.8" />
<text x="181" y="856.1" font-size="4.8" text-anchor="middle" font-weight="normal" fill="#000" stroke="#000" stroke-width="0.14" >ROLL</text>
<rect x="166.3" y="858.5" width="28.3" height="10.4" rx="1" fill="#000" stroke="#000" stroke-width="0" />
<rect x="169.5" y="860" width="15.5" height="7.7" rx="0" fill="#fff" stroke="#000" stroke-width="0" />
<text x="177.2" y="866.2" font-size="6.4" text-anchor="middle" font-weight="normal" fill="#000" stroke="#000" stroke-width="0.14" >350</text>
<rect x="186.2" y="860.8" width="1.8" height="6.1" rx="0" fill="#bbb" stroke="#000" stroke-width="0" />
<path d="M194.8 861.3 L194.8 866.5 L190.3 863.85 Z" fill="#fff" stroke="none" stroke-width="0" />
<circle cx="122.5" cy="901.7" r="16.3" fill="#fff" stroke="#000" stroke-width="0.8" />
<path d="M111.5 886.9 A18.4 18.4 0 0 1 126.5 883.7" fill="none" stroke="#000" stroke-width="0.45" />
<path d="M118.5 919.7 A18.4 18.4 0 0 0 133.5 916.5" fill="none" stroke="#000" stroke-width="0.45" />
<rect x="115.2" y="888.3" width="14.6" height="26.8" rx="0.8" fill="#fff" stroke="#000" stroke-width="1.4" />
<rect x="117.3" y="889.9" width="10.4" height="23.6" rx="0" fill="#ccc" stroke="#000" stroke-width="0.6" />
<line x1="117.5" y1="891.4" x2="127.5" y2="891.4" stroke="#222" stroke-width="1.5" />
<line x1="117.5" y1="894.35" x2="127.5" y2="894.35" stroke="#222" stroke-width="1.5" />
<line x1="117.5" y1="897.3" x2="127.5" y2="897.3" stroke="#222" stroke-width="1.5" />
<line x1="117.5" y1="900.25" x2="127.5" y2="900.25" stroke="#222" stroke-width="1.5" />
<line x1="117.5" y1="903.2" x2="127.5" y2="903.2" stroke="#222" stroke-width="1.5" />
<line x1="117.5" y1="906.15" x2="127.5" y2="906.15" stroke="#222" stroke-width="1.5" />
<line x1="117.5" y1="909.1" x2="127.5" y2="909.1" stroke="#222" stroke-width="1.5" />
<line x1="117.5" y1="912.05" x2="127.5" y2="912.05" stroke="#222" stroke-width="1.5" />
<rect x="165.5" y="893.2" width="29.8" height="19.5" rx="2" fill="#fff" stroke="#000" stroke-width="1.2" />
<rect x="170.3" y="894.4" width="21.4" height="5.2" rx="1" fill="none" stroke="#000" stroke-width="0.8" />
<text x="181" y="898.8" font-size="4.8" text-anchor="middle" font-weight="normal" fill="#000" stroke="#000" stroke-width="0.14" >PITCH</text>
<rect x="166.3" y="901.2" width="28.3" height="10.9" rx="1" fill="#000" stroke="#000" stroke-width="0" />
<rect x="169.5" y="902.7" width="15.5" height="8.2" rx="0" fill="#fff" stroke="#000" stroke-width="0" />
<text x="177.2" y="909.4" font-size="6.4" text-anchor="middle" font-weight="normal" fill="#000" stroke="#000" stroke-width="0.14" >350</text>
<rect x="186.2" y="903.5" width="1.8" height="6.6" rx="0" fill="#bbb" stroke="#000" stroke-width="0" />
<path d="M194.8 904 L194.8 909.7 L190.3 906.8 Z" fill="#fff" stroke="none" stroke-width="0" />
<circle cx="122.5" cy="944.6" r="16.3" fill="#fff" stroke="#000" stroke-width="0.8" />
<path d="M111.5 929.8 A18.4 18.4 0 0 1 126.5 926.6" fill="none" stroke="#000" stroke-width="0.45" />
<path d="M118.5 962.6 A18.4 18.4 0 0 0 133.5 959.4" fill="none" stroke="#000" stroke-width="0.45" />
<rect x="115.2" y="931.2" width="14.6" height="26.8" rx="0.8" fill="#fff" stroke="#000" stroke-width="1.4" />
<rect x="117.3" y="932.8" width="10.4" height="23.6" rx="0" fill="#ccc" stroke="#000" stroke-width="0.6" />
<line x1="117.5" y1="934.3" x2="127.5" y2="934.3" stroke="#222" stroke-width="1.5" />
<line x1="117.5" y1="937.25" x2="127.5" y2="937.25" stroke="#222" stroke-width="1.5" />
<line x1="117.5" y1="940.2" x2="127.5" y2="940.2" stroke="#222" stroke-width="1.5" />
<line x1="117.5" y1="943.15" x2="127.5" y2="943.15" stroke="#222" stroke-width="1.5" />
<line x1="117.5" y1="946.1" x2="127.5" y2="946.1" stroke="#222" stroke-width="1.5" />
<line x1="117.5" y1="949.05" x2="127.5" y2="949.05" stroke="#222" stroke-width="1.5" />
<line x1="117.5" y1="952" x2="127.5" y2="952" stroke="#222" stroke-width="1.5" />
<line x1="117.5" y1="954.95" x2="127.5" y2="954.95" stroke="#222" stroke-width="1.5" />
<rect x="165.5" y="936.4" width="29.8" height="19.9" rx="2" fill="#fff" stroke="#000" stroke-width="1.2" />
<rect x="170.3" y="937.6" width="21.4" height="5.2" rx="1" fill="none" stroke="#000" stroke-width="0.8" />
<text x="181" y="942" font-size="4.8" text-anchor="middle" font-weight="normal" fill="#000" stroke="#000" stroke-width="0.14" >YAW</text>
<rect x="166.3" y="944.4" width="28.3" height="11.3" rx="1" fill="#000" stroke="#000" stroke-width="0" />
<rect x="169.5" y="945.9" width="15.5" height="8.6" rx="0" fill="#fff" stroke="#000" stroke-width="0" />
<text x="177.2" y="953" font-size="6.4" text-anchor="middle" font-weight="normal" fill="#000" stroke="#000" stroke-width="0.14" >350</text>
<rect x="186.2" y="946.7" width="1.8" height="7" rx="0" fill="#bbb" stroke="#000" stroke-width="0" />
<path d="M194.8 947.2 L194.8 953.3 L190.3 950.2 Z" fill="#fff" stroke="none" stroke-width="0" />
<circle cx="87.8" cy="999" r="6.8" fill="#fff" stroke="#000" stroke-width="0.9" />
<circle cx="87.8" cy="999" r="3.4" fill="none" stroke="#000" stroke-width="0.9" />
<circle cx="180.6" cy="999" r="6.8" fill="#fff" stroke="#000" stroke-width="0.9" />
<circle cx="180.6" cy="999" r="3.4" fill="none" stroke="#000" stroke-width="0.9" />
<circle cx="45.5" cy="883" r="6.8" fill="#fff" stroke="#000" stroke-width="0.9" />
<circle cx="45.5" cy="883" r="3.4" fill="none" stroke="#000" stroke-width="0.9" />
<circle cx="29.6" cy="974" r="6.8" fill="#fff" stroke="#000" stroke-width="0.9" />
<circle cx="29.6" cy="974" r="3.4" fill="none" stroke="#000" stroke-width="0.9" />
<circle cx="214.7" cy="992" r="4.4" fill="#fff" stroke="#000" stroke-width="0.9" />
<circle cx="214.7" cy="992" r="2.55" fill="#f6f6f6" stroke="#000" stroke-width="0.6" />
<line x1="212.5" y1="992" x2="216.9" y2="992" stroke="#000" stroke-width="0.8" />
<line x1="214.7" y1="989.8" x2="214.7" y2="994.2" stroke="#000" stroke-width="0.8" />
<path d="M295.8 860.7 V857.5 H312.71 M338.89 857.5 H356.2 V860.7" fill="none" stroke="#000" stroke-width="1.0" />
<text x="325.8" y="859.2" font-size="4.6" text-anchor="middle" font-weight="normal" fill="#000" stroke="#000" stroke-width="0.14" >SCS TVC</text>
<path d="M360 860.7 V857.5 H395.65 M454.95 857.5 H496.4 V860.7" fill="none" stroke="#000" stroke-width="1.0" />
<text x="425.3" y="859.2" font-size="4.6" text-anchor="middle" font-weight="normal" fill="#000" stroke="#000" stroke-width="0.14" >SPS GIMBAL MOTORS</text>
<text x="311.6" y="866.5" font-size="4.4" text-anchor="middle" font-weight="normal" fill="#000" stroke="#000" stroke-width="0.14" >PITCH</text>
<text x="342.4" y="866.5" font-size="4.4" text-anchor="middle" font-weight="normal" fill="#000" stroke="#000" stroke-width="0.14" >YAW</text>
<text x="377" y="866.5" font-size="4.4" text-anchor="middle" font-weight="normal" fill="#000" stroke="#000" stroke-width="0.14" >1</text>
<text x="393" y="866.5" font-size="4.4" text-anchor="middle" font-weight="normal" fill="#000" stroke="#000" stroke-width="0.14" >PITCH</text>
<text x="408.7" y="866.5" font-size="4.4" text-anchor="middle" font-weight="normal" fill="#000" stroke="#000" stroke-width="0.14" >2</text>
<text x="425.3" y="866.5" font-size="4.4" text-anchor="middle" font-weight="normal" fill="#000" stroke="#000" stroke-width="0.14" >–START–</text>
<text x="441.9" y="866.5" font-size="4.4" text-anchor="middle" font-weight="normal" fill="#000" stroke="#000" stroke-width="0.14" >1</text>
<text x="466.7" y="866.5" font-size="4.4" text-anchor="middle" font-weight="normal" fill="#000" stroke="#000" stroke-width="0.14" >YAW</text>
<text x="483.7" y="866.5" font-size="4.4" text-anchor="middle" font-weight="normal" fill="#000" stroke="#000" stroke-width="0.14" >2</text>
<rect x="287.4" y="869" width="215.5" height="40.6" rx="5.6" fill="#fff" stroke="#888" stroke-width="0.7" />
<rect x="288" y="869.6" width="214.3" height="39.4" rx="5" fill="#fff" stroke="#000" stroke-width="1.2" />
<rect x="289.8" y="871.4" width="210.7" height="35.8" rx="3.5" fill="none" stroke="#555" stroke-width="0.5" />
<line x1="293.5" y1="874.4" x2="496.8" y2="874.4" stroke="#000" stroke-width="0.7" />
<line x1="293.5" y1="903.7" x2="496.8" y2="903.7" stroke="#000" stroke-width="0.7" />
<rect x="291.8" y="871.9" width="3.4" height="34.8" rx="0.8" fill="#fff" stroke="#000" stroke-width="0.8" />
<rect x="323.9" y="871.9" width="3.4" height="34.8" rx="0.8" fill="#fff" stroke="#000" stroke-width="0.8" />
<rect x="354.8" y="871.9" width="3.4" height="34.8" rx="0.8" fill="#fff" stroke="#000" stroke-width="0.8" />
<rect x="356.8" y="871.9" width="3.4" height="34.8" rx="0.8" fill="#fff" stroke="#000" stroke-width="0.8" />
<rect x="389.8" y="871.9" width="3.4" height="34.8" rx="0.8" fill="#fff" stroke="#000" stroke-width="0.8" />
<rect x="425.3" y="871.9" width="3.4" height="34.8" rx="0.8" fill="#fff" stroke="#000" stroke-width="0.8" />
<rect x="461.3" y="871.9" width="3.4" height="34.8" rx="0.8" fill="#fff" stroke="#000" stroke-width="0.8" />
<rect x="495.1" y="871.9" width="3.4" height="34.8" rx="0.8" fill="#fff" stroke="#000" stroke-width="0.8" />
<path d="M300.4 889.3 L305.2 879.4 L316.4 879.4 L321.2 889.3 L316.4 899.2 L305.2 899.2 Z" fill="#fff" stroke="#000" stroke-width="1.4" />
<path d="M302.48 889.3 L306.32 881.38 L315.28 881.38 L319.12 889.3 L315.28 897.22 L306.32 897.22 Z" fill="#a2a2a2" stroke="#222" stroke-width="0.6" />
<rect x="305.1" y="883.1" width="11.4" height="12.6" rx="1.2" fill="#cfcfcf" stroke="#000" stroke-width="1.1" />
<rect x="305.9" y="889.6" width="9.8" height="3.6" rx="0" fill="#444" stroke="#000" stroke-width="0" />
<line x1="305.9" y1="886.5" x2="315.7" y2="886.5" stroke="#333" stroke-width="0.7" />
<line x1="305.9" y1="894.5" x2="315.7" y2="894.5" stroke="#333" stroke-width="0.6" />
<rect x="304.05" y="874.4" width="13.5" height="4" rx="0" fill="#fff" stroke="#000" stroke-width="0" />
<text x="310.8" y="877.9" font-size="4.8" text-anchor="middle" font-weight="normal" fill="#000" stroke="#000" stroke-width="0.14" >(S38)</text>
<path d="M330 889.3 L334.8 879.4 L346 879.4 L350.8 889.3 L346 899.2 L334.8 899.2 Z" fill="#fff" stroke="#000" stroke-width="1.4" />
<path d="M332.08 889.3 L335.92 881.38 L344.88 881.38 L348.72 889.3 L344.88 897.22 L335.92 897.22 Z" fill="#a2a2a2" stroke="#222" stroke-width="0.6" />
<rect x="334.7" y="883.1" width="11.4" height="12.6" rx="1.2" fill="#cfcfcf" stroke="#000" stroke-width="1.1" />
<rect x="335.5" y="889.6" width="9.8" height="3.6" rx="0" fill="#444" stroke="#000" stroke-width="0" />
<line x1="335.5" y1="886.5" x2="345.3" y2="886.5" stroke="#333" stroke-width="0.7" />
<line x1="335.5" y1="894.5" x2="345.3" y2="894.5" stroke="#333" stroke-width="0.6" />
<rect x="333.65" y="874.4" width="13.5" height="4" rx="0" fill="#fff" stroke="#000" stroke-width="0" />
<text x="340.4" y="877.9" font-size="4.8" text-anchor="middle" font-weight="normal" fill="#000" stroke="#000" stroke-width="0.14" >(S39)</text>
<path d="M364.4 889.3 L369.2 879.4 L380.4 879.4 L385.2 889.3 L380.4 899.2 L369.2 899.2 Z" fill="#fff" stroke="#000" stroke-width="1.4" />
<path d="M366.48 889.3 L370.32 881.38 L379.28 881.38 L383.12 889.3 L379.28 897.22 L370.32 897.22 Z" fill="#a2a2a2" stroke="#222" stroke-width="0.6" />
<rect x="369.1" y="883.1" width="11.4" height="12.6" rx="1.2" fill="#cfcfcf" stroke="#000" stroke-width="1.1" />
<rect x="369.9" y="889.6" width="9.8" height="3.6" rx="0" fill="#444" stroke="#000" stroke-width="0" />
<line x1="369.9" y1="886.5" x2="379.7" y2="886.5" stroke="#333" stroke-width="0.7" />
<line x1="369.9" y1="894.5" x2="379.7" y2="894.5" stroke="#333" stroke-width="0.6" />
<rect x="368.05" y="874.4" width="13.5" height="4" rx="0" fill="#fff" stroke="#000" stroke-width="0" />
<text x="374.8" y="877.9" font-size="4.8" text-anchor="middle" font-weight="normal" fill="#000" stroke="#000" stroke-width="0.14" >(S40)</text>
<path d="M398.3 889.3 L403.1 879.4 L414.3 879.4 L419.1 889.3 L414.3 899.2 L403.1 899.2 Z" fill="#fff" stroke="#000" stroke-width="1.4" />
<path d="M400.38 889.3 L404.22 881.38 L413.18 881.38 L417.02 889.3 L413.18 897.22 L404.22 897.22 Z" fill="#a2a2a2" stroke="#222" stroke-width="0.6" />
<rect x="403" y="883.1" width="11.4" height="12.6" rx="1.2" fill="#cfcfcf" stroke="#000" stroke-width="1.1" />
<rect x="403.8" y="889.6" width="9.8" height="3.6" rx="0" fill="#444" stroke="#000" stroke-width="0" />
<line x1="403.8" y1="886.5" x2="413.6" y2="886.5" stroke="#333" stroke-width="0.7" />
<line x1="403.8" y1="894.5" x2="413.6" y2="894.5" stroke="#333" stroke-width="0.6" />
<rect x="401.95" y="874.4" width="13.5" height="4" rx="0" fill="#fff" stroke="#000" stroke-width="0" />
<text x="408.7" y="877.9" font-size="4.8" text-anchor="middle" font-weight="normal" fill="#000" stroke="#000" stroke-width="0.14" >(S41)</text>
<path d="M435.4 889.3 L440.2 879.4 L451.4 879.4 L456.2 889.3 L451.4 899.2 L440.2 899.2 Z" fill="#fff" stroke="#000" stroke-width="1.4" />
<path d="M437.48 889.3 L441.32 881.38 L450.28 881.38 L454.12 889.3 L450.28 897.22 L441.32 897.22 Z" fill="#a2a2a2" stroke="#222" stroke-width="0.6" />
<rect x="440.1" y="883.1" width="11.4" height="12.6" rx="1.2" fill="#cfcfcf" stroke="#000" stroke-width="1.1" />
<rect x="440.9" y="889.6" width="9.8" height="3.6" rx="0" fill="#444" stroke="#000" stroke-width="0" />
<line x1="440.9" y1="886.5" x2="450.7" y2="886.5" stroke="#333" stroke-width="0.7" />
<line x1="440.9" y1="894.5" x2="450.7" y2="894.5" stroke="#333" stroke-width="0.6" />
<rect x="439.05" y="874.4" width="13.5" height="4" rx="0" fill="#fff" stroke="#000" stroke-width="0" />
<text x="445.8" y="877.9" font-size="4.8" text-anchor="middle" font-weight="normal" fill="#000" stroke="#000" stroke-width="0.14" >(S42)</text>
<path d="M470.2 889.3 L475 879.4 L486.2 879.4 L491 889.3 L486.2 899.2 L475 899.2 Z" fill="#fff" stroke="#000" stroke-width="1.4" />
<path d="M472.28 889.3 L476.12 881.38 L485.08 881.38 L488.92 889.3 L485.08 897.22 L476.12 897.22 Z" fill="#a2a2a2" stroke="#222" stroke-width="0.6" />
<rect x="474.9" y="883.1" width="11.4" height="12.6" rx="1.2" fill="#cfcfcf" stroke="#000" stroke-width="1.1" />
<rect x="475.7" y="889.6" width="9.8" height="3.6" rx="0" fill="#444" stroke="#000" stroke-width="0" />
<line x1="475.7" y1="886.5" x2="485.5" y2="886.5" stroke="#333" stroke-width="0.7" />
<line x1="475.7" y1="894.5" x2="485.5" y2="894.5" stroke="#333" stroke-width="0.6" />
<rect x="473.85" y="874.4" width="13.5" height="4" rx="0" fill="#fff" stroke="#000" stroke-width="0" />
<text x="480.6" y="877.9" font-size="4.8" text-anchor="middle" font-weight="normal" fill="#000" stroke="#000" stroke-width="0.14" >(S43)</text>
<rect x="357.6" y="871.6" width="35.9" height="35.4" rx="0" fill="#fff" stroke="#000" stroke-width="0.8" />
<path d="M364.4 889.3 L369.2 879.4 L380.4 879.4 L385.2 889.3 L380.4 899.2 L369.2 899.2 Z" fill="#fff" stroke="#000" stroke-width="1.4" />
<path d="M366.48 889.3 L370.32 881.38 L379.28 881.38 L383.12 889.3 L379.28 897.22 L370.32 897.22 Z" fill="#a2a2a2" stroke="#222" stroke-width="0.6" />
<rect x="369.1" y="883.1" width="11.4" height="12.6" rx="1.2" fill="#cfcfcf" stroke="#000" stroke-width="1.1" />
<rect x="369.9" y="889.6" width="9.8" height="3.6" rx="0" fill="#444" stroke="#000" stroke-width="0" />
<line x1="369.9" y1="886.5" x2="379.7" y2="886.5" stroke="#333" stroke-width="0.7" />
<line x1="369.9" y1="894.5" x2="379.7" y2="894.5" stroke="#333" stroke-width="0.6" />
<rect x="368.05" y="874.4" width="13.5" height="4" rx="0" fill="#fff" stroke="#000" stroke-width="0" />
<text x="374.8" y="877.9" font-size="4.8" text-anchor="middle" font-weight="normal" fill="#000" stroke="#000" stroke-width="0.14" >(S40)</text>
<rect x="427.5" y="871.6" width="36.5" height="35.4" rx="0" fill="#fff" stroke="#000" stroke-width="0.8" />
<path d="M435.4 889.3 L440.2 879.4 L451.4 879.4 L456.2 889.3 L451.4 899.2 L440.2 899.2 Z" fill="#fff" stroke="#000" stroke-width="1.4" />
<path d="M437.48 889.3 L441.32 881.38 L450.28 881.38 L454.12 889.3 L450.28 897.22 L441.32 897.22 Z" fill="#a2a2a2" stroke="#222" stroke-width="0.6" />
<rect x="440.1" y="883.1" width="11.4" height="12.6" rx="1.2" fill="#cfcfcf" stroke="#000" stroke-width="1.1" />
<rect x="440.9" y="889.6" width="9.8" height="3.6" rx="0" fill="#444" stroke="#000" stroke-width="0" />
<line x1="440.9" y1="886.5" x2="450.7" y2="886.5" stroke="#333" stroke-width="0.7" />
<line x1="440.9" y1="894.5" x2="450.7" y2="894.5" stroke="#333" stroke-width="0.6" />
<rect x="439.05" y="874.4" width="13.5" height="4" rx="0" fill="#fff" stroke="#000" stroke-width="0" />
<text x="445.8" y="877.9" font-size="4.8" text-anchor="middle" font-weight="normal" fill="#000" stroke="#000" stroke-width="0.14" >(S42)</text>
<path d="M384.94 876.96 L390.66 876.96 L387.8 881.64 Z" fill="#000" stroke="#000" stroke-width="0.2" />
<path d="M418.84 876.96 L424.56 876.96 L421.7 881.64 Z" fill="#000" stroke="#000" stroke-width="0.2" />
<path d="M455.94 876.96 L461.66 876.96 L458.8 881.64 Z" fill="#000" stroke="#000" stroke-width="0.2" />
<path d="M490.74 876.96 L496.46 876.96 L493.6 881.64 Z" fill="#000" stroke="#000" stroke-width="0.2" />
<text x="425.3" y="916.6" font-size="4.4" text-anchor="middle" font-weight="normal" fill="#000" stroke="#000" stroke-width="0.14" >–OFF–</text>
<text x="247.6" y="924.6" font-size="4.4" text-anchor="middle" font-weight="normal" fill="#000" stroke="#000" stroke-width="0.14" >IMU CAGE</text>
<path d="M266.6 919.7 V916.5 H284.42 M303.98 916.5 H320.7 V919.7" fill="none" stroke="#000" stroke-width="1.0" />
<text x="294.2" y="918.2" font-size="4.6" text-anchor="middle" font-weight="normal" fill="#000" stroke="#000" stroke-width="0.14" >ENTRY</text>
<path d="M327.4 919.7 V916.5 H338.14 M374.26 916.5 H382.7 V919.7" fill="none" stroke="#000" stroke-width="1.0" />
<text x="356.2" y="918.2" font-size="4.6" text-anchor="middle" font-weight="normal" fill="#000" stroke="#000" stroke-width="0.14" >LV/SPS IND</text>
<path d="M389 924 V921.5 H394.23 M440.57 921.5 H447 V924" fill="none" stroke="#000" stroke-width="1.0" />
<text x="417.4" y="923.2" font-size="4.3" text-anchor="middle" font-weight="normal" fill="#000" stroke="#000" stroke-width="0.14" >TVC GMBL DRIVE</text>
<text x="280" y="925.3" font-size="4.4" text-anchor="middle" font-weight="normal" fill="#000" stroke="#000" stroke-width="0.14" >EMS</text>
<text x="280" y="930" font-size="4.4" text-anchor="middle" font-weight="normal" fill="#000" stroke="#000" stroke-width="0.14" >ROLL</text>
<text x="307.6" y="930" font-size="4.4" text-anchor="middle" font-weight="normal" fill="#000" stroke="#000" stroke-width="0.14" >.05 G</text>
<text x="338.4" y="930" font-size="4.4" text-anchor="middle" font-weight="normal" fill="#000" stroke="#000" stroke-width="0.14" >α</text>
<text x="368" y="930" font-size="4.4" text-anchor="middle" font-weight="normal" fill="#000" stroke="#000" stroke-width="0.14" >SII/SIVB</text>
<text x="397.7" y="930" font-size="4.4" text-anchor="middle" font-weight="normal" fill="#000" stroke="#000" stroke-width="0.14" >PITCH</text>
<text x="417.4" y="930" font-size="4.4" text-anchor="middle" font-weight="normal" fill="#000" stroke="#000" stroke-width="0.14" >1</text>
<text x="436.3" y="930" font-size="4.4" text-anchor="middle" font-weight="normal" fill="#000" stroke="#000" stroke-width="0.14" >YAW</text>
<text x="293" y="978.3" font-size="4.4" text-anchor="middle" font-weight="normal" fill="#000" stroke="#000" stroke-width="0.14" >OFF</text>
<text x="340.4" y="978.3" font-size="4.4" text-anchor="middle" font-weight="normal" fill="#000" stroke="#000" stroke-width="0.14" >Pc</text>
<text x="369.2" y="978.3" font-size="4.4" text-anchor="middle" font-weight="normal" fill="#000" stroke="#000" stroke-width="0.14" >GPI</text>
<text x="417.4" y="978.3" font-size="4.4" text-anchor="middle" font-weight="normal" fill="#000" stroke="#000" stroke-width="0.14" >2</text>
<rect x="225.4" y="932.2" width="230.2" height="38.7" rx="5.6" fill="#fff" stroke="#888" stroke-width="0.7" />
<rect x="226" y="932.8" width="229" height="37.5" rx="5" fill="#fff" stroke="#000" stroke-width="1.2" />
<rect x="227.8" y="934.6" width="225.4" height="33.9" rx="3.5" fill="none" stroke="#555" stroke-width="0.5" />
<line x1="261.5" y1="937.6" x2="449.5" y2="937.6" stroke="#000" stroke-width="0.7" />
<line x1="261.5" y1="965" x2="449.5" y2="965" stroke="#000" stroke-width="0.7" />
<rect x="259.8" y="935.1" width="3.4" height="32.9" rx="0.8" fill="#fff" stroke="#000" stroke-width="0.8" />
<rect x="290.1" y="935.1" width="3.4" height="32.9" rx="0.8" fill="#fff" stroke="#000" stroke-width="0.8" />
<rect x="321.3" y="935.1" width="3.4" height="32.9" rx="0.8" fill="#fff" stroke="#000" stroke-width="0.8" />
<rect x="352.1" y="935.1" width="3.4" height="32.9" rx="0.8" fill="#fff" stroke="#000" stroke-width="0.8" />
<rect x="382.1" y="935.1" width="3.4" height="32.9" rx="0.8" fill="#fff" stroke="#000" stroke-width="0.8" />
<rect x="412.1" y="935.1" width="3.4" height="32.9" rx="0.8" fill="#fff" stroke="#000" stroke-width="0.8" />
<rect x="447.8" y="935.1" width="3.4" height="32.9" rx="0.8" fill="#fff" stroke="#000" stroke-width="0.8" />
<path d="M265.6 952.5 L270.4 942.6 L281.6 942.6 L286.4 952.5 L281.6 962.4 L270.4 962.4 Z" fill="#fff" stroke="#000" stroke-width="1.4" />
<path d="M267.68 952.5 L271.52 944.58 L280.48 944.58 L284.32 952.5 L280.48 960.42 L271.52 960.42 Z" fill="#c8c8c8" stroke="#222" stroke-width="0.6" />
<path d="M268.7 953.5 A7.6 7.6 0 0 1 283.3 953.5 L282 959.3 H270 Z" fill="#fff" stroke="#000" stroke-width="0.7" />
<path d="M270.6 952.7 H274.8 V951.3 H277.2 V952.7 H281.4 L282 959.9 H270 Z" fill="#8a8a8a" stroke="#000" stroke-width="1.1" />
<line x1="271" y1="956.1" x2="281" y2="956.1" stroke="#333" stroke-width="0.9" />
<rect x="269.25" y="937.6" width="13.5" height="4" rx="0" fill="#fff" stroke="#000" stroke-width="0" />
<text x="276" y="941.1" font-size="4.8" text-anchor="middle" font-weight="normal" fill="#000" stroke="#000" stroke-width="0.14" >(S50)</text>
<path d="M297.2 952.5 L302 942.6 L313.2 942.6 L318 952.5 L313.2 962.4 L302 962.4 Z" fill="#fff" stroke="#000" stroke-width="1.4" />
<path d="M299.28 952.5 L303.12 944.58 L312.08 944.58 L315.92 952.5 L312.08 960.42 L303.12 960.42 Z" fill="#c8c8c8" stroke="#222" stroke-width="0.6" />
<path d="M300.3 953.5 A7.6 7.6 0 0 1 314.9 953.5 L313.6 959.3 H301.6 Z" fill="#fff" stroke="#000" stroke-width="0.7" />
<path d="M302.2 952.7 H306.4 V951.3 H308.8 V952.7 H313 L313.6 959.9 H301.6 Z" fill="#8a8a8a" stroke="#000" stroke-width="1.1" />
<line x1="302.6" y1="956.1" x2="312.6" y2="956.1" stroke="#333" stroke-width="0.9" />
<rect x="300.85" y="937.6" width="13.5" height="4" rx="0" fill="#fff" stroke="#000" stroke-width="0" />
<text x="307.6" y="941.1" font-size="4.8" text-anchor="middle" font-weight="normal" fill="#000" stroke="#000" stroke-width="0.14" >(S51)</text>
<path d="M328 952.5 L332.8 942.6 L344 942.6 L348.8 952.5 L344 962.4 L332.8 962.4 Z" fill="#fff" stroke="#000" stroke-width="1.4" />
<path d="M330.08 952.5 L333.92 944.58 L342.88 944.58 L346.72 952.5 L342.88 960.42 L333.92 960.42 Z" fill="#c8c8c8" stroke="#222" stroke-width="0.6" />
<path d="M331.1 953.5 A7.6 7.6 0 0 1 345.7 953.5 L344.4 959.3 H332.4 Z" fill="#fff" stroke="#000" stroke-width="0.7" />
<path d="M333 952.7 H337.2 V951.3 H339.6 V952.7 H343.8 L344.4 959.9 H332.4 Z" fill="#8a8a8a" stroke="#000" stroke-width="1.1" />
<line x1="333.4" y1="956.1" x2="343.4" y2="956.1" stroke="#333" stroke-width="0.9" />
<rect x="331.65" y="937.6" width="13.5" height="4" rx="0" fill="#fff" stroke="#000" stroke-width="0" />
<text x="338.4" y="941.1" font-size="4.8" text-anchor="middle" font-weight="normal" fill="#000" stroke="#000" stroke-width="0.14" >(S52)</text>
<path d="M358.8 952.5 L363.6 942.6 L374.8 942.6 L379.6 952.5 L374.8 962.4 L363.6 962.4 Z" fill="#fff" stroke="#000" stroke-width="1.4" />
<path d="M360.88 952.5 L364.72 944.58 L373.68 944.58 L377.52 952.5 L373.68 960.42 L364.72 960.42 Z" fill="#c8c8c8" stroke="#222" stroke-width="0.6" />
<path d="M361.9 953.5 A7.6 7.6 0 0 1 376.5 953.5 L375.2 959.3 H363.2 Z" fill="#fff" stroke="#000" stroke-width="0.7" />
<path d="M363.8 952.7 H368 V951.3 H370.4 V952.7 H374.6 L375.2 959.9 H363.2 Z" fill="#8a8a8a" stroke="#000" stroke-width="1.1" />
<line x1="364.2" y1="956.1" x2="374.2" y2="956.1" stroke="#333" stroke-width="0.9" />
<rect x="362.45" y="937.6" width="13.5" height="4" rx="0" fill="#fff" stroke="#000" stroke-width="0" />
<text x="369.2" y="941.1" font-size="4.8" text-anchor="middle" font-weight="normal" fill="#000" stroke="#000" stroke-width="0.14" >(S53)</text>
<path d="M388 952.5 L392.8 942.6 L404 942.6 L408.8 952.5 L404 962.4 L392.8 962.4 Z" fill="#fff" stroke="#000" stroke-width="1.4" />
<path d="M390.08 952.5 L393.92 944.58 L402.88 944.58 L406.72 952.5 L402.88 960.42 L393.92 960.42 Z" fill="#a2a2a2" stroke="#222" stroke-width="0.6" />
<rect x="392.7" y="946.3" width="11.4" height="12.6" rx="1.2" fill="#cfcfcf" stroke="#000" stroke-width="1.1" />
<rect x="393.5" y="952.8" width="9.8" height="3.6" rx="0" fill="#444" stroke="#000" stroke-width="0" />
<line x1="393.5" y1="949.7" x2="403.3" y2="949.7" stroke="#333" stroke-width="0.7" />
<line x1="393.5" y1="957.7" x2="403.3" y2="957.7" stroke="#333" stroke-width="0.6" />
<rect x="391.65" y="937.6" width="13.5" height="4" rx="0" fill="#fff" stroke="#000" stroke-width="0" />
<text x="398.4" y="941.1" font-size="4.8" text-anchor="middle" font-weight="normal" fill="#000" stroke="#000" stroke-width="0.14" >(S27)</text>
<path d="M418.8 952.5 L423.6 942.6 L434.8 942.6 L439.6 952.5 L434.8 962.4 L423.6 962.4 Z" fill="#fff" stroke="#000" stroke-width="1.4" />
<path d="M420.88 952.5 L424.72 944.58 L433.68 944.58 L437.52 952.5 L433.68 960.42 L424.72 960.42 Z" fill="#a2a2a2" stroke="#222" stroke-width="0.6" />
<rect x="423.5" y="946.3" width="11.4" height="12.6" rx="1.2" fill="#cfcfcf" stroke="#000" stroke-width="1.1" />
<rect x="424.3" y="952.8" width="9.8" height="3.6" rx="0" fill="#444" stroke="#000" stroke-width="0" />
<line x1="424.3" y1="949.7" x2="434.1" y2="949.7" stroke="#333" stroke-width="0.7" />
<line x1="424.3" y1="957.7" x2="434.1" y2="957.7" stroke="#333" stroke-width="0.6" />
<rect x="422.45" y="937.6" width="13.5" height="4" rx="0" fill="#fff" stroke="#000" stroke-width="0" />
<text x="429.2" y="941.1" font-size="4.8" text-anchor="middle" font-weight="normal" fill="#000" stroke="#000" stroke-width="0.14" >(S28)</text>
<rect x="235" y="930" width="24.5" height="39.5" rx="1.8" fill="#fff" stroke="#000" stroke-width="1.2" />
<line x1="235" y1="949.36" x2="259.5" y2="949.36" stroke="#000" stroke-width="0.8" />
<text x="247.25" y="941.77" font-size="4.8" text-anchor="middle" font-weight="normal" fill="#000" stroke="#000" stroke-width="0.14" >(S49)</text>
<rect x="237.69" y="953.25" width="19.11" height="9.4" rx="1.5" fill="#fff" stroke="#000" stroke-width="0.9" />
<path d="M239.89 955.25 H254.61 L253.21 960.05 H241.29 Z" fill="#777" stroke="#000" stroke-width="1.3" stroke-linejoin="round"/>
<line x1="240.89" y1="956.85" x2="253.61" y2="956.85" stroke="#000" stroke-width="1.0" />
<path d="M253.9 939.07 L258.9 939.07 L256.4 943.47 Z" fill="#000" stroke="#000" stroke-width="0.2" />
<text x="0" y="0" font-size="4.2" text-anchor="middle" font-weight="normal" fill="#000" stroke="#000" stroke-width="0.14" transform="translate(458 951.8) rotate(90)" style="letter-spacing:0.9px">AUTO</text>
<path d="M470 918.5 H504 Q513.7 918.5 513.7 927.5 Q513.7 934.5 506 936 Q498 937.5 498 943.4 Q498 949.3 506 950.8 Q513.7 952.3 513.7 959.5 Q513.7 968.7 504 968.7 H470 Q463.2 968.7 463.2 962 V925 Q463.2 918.5 470 918.5 Z" fill="#fff" stroke="#000" stroke-width="0.9" />
<path d="M470.5 920.7 H503.5 Q511.4 920.7 511.4 927.5 Q511.4 932.8 505.5 933.9 Q495.7 935.8 495.7 943.4 Q495.7 951 505.5 952.9 Q511.4 954 511.4 959.5 Q511.4 966.5 503.5 966.5 H470.5 Q465.4 966.5 465.4 961.5 V925.5 Q465.4 920.7 470.5 920.7 Z" fill="none" stroke="#000" stroke-width="0.5" />
<circle cx="473" cy="927.1" r="3.6" fill="#fff" stroke="#000" stroke-width="0.9" />
<circle cx="473" cy="927.1" r="2.09" fill="#f6f6f6" stroke="#000" stroke-width="0.6" />
<line x1="471.2" y1="927.1" x2="474.8" y2="927.1" stroke="#000" stroke-width="0.8" />
<line x1="473" y1="925.3" x2="473" y2="928.9" stroke="#000" stroke-width="0.8" />
<circle cx="503.9" cy="927.1" r="3.6" fill="#fff" stroke="#000" stroke-width="0.9" />
<circle cx="503.9" cy="927.1" r="2.09" fill="#f6f6f6" stroke="#000" stroke-width="0.6" />
<line x1="502.1" y1="927.1" x2="505.7" y2="927.1" stroke="#000" stroke-width="0.8" />
<line x1="503.9" y1="925.3" x2="503.9" y2="928.9" stroke="#000" stroke-width="0.8" />
<circle cx="473" cy="959.2" r="3.6" fill="#fff" stroke="#000" stroke-width="0.9" />
<circle cx="473" cy="959.2" r="2.09" fill="#f6f6f6" stroke="#000" stroke-width="0.6" />
<line x1="471.2" y1="959.2" x2="474.8" y2="959.2" stroke="#000" stroke-width="0.8" />
<line x1="473" y1="957.4" x2="473" y2="961" stroke="#000" stroke-width="0.8" />
<circle cx="503.9" cy="959.2" r="3.6" fill="#fff" stroke="#000" stroke-width="0.9" />
<circle cx="503.9" cy="959.2" r="2.09" fill="#f6f6f6" stroke="#000" stroke-width="0.6" />
<line x1="502.1" y1="959.2" x2="505.7" y2="959.2" stroke="#000" stroke-width="0.8" />
<line x1="503.9" y1="957.4" x2="503.9" y2="961" stroke="#000" stroke-width="0.8" />
<circle cx="481.6" cy="943.4" r="10.25" fill="#fff" stroke="#000" stroke-width="4.7" />
<circle cx="272.5" cy="1000.5" r="6.8" fill="#fff" stroke="#000" stroke-width="0.9" />
<circle cx="272.5" cy="1000.5" r="3.4" fill="none" stroke="#000" stroke-width="0.9" />
<circle cx="366.9" cy="1000.5" r="6.8" fill="#fff" stroke="#000" stroke-width="0.9" />
<circle cx="366.9" cy="1000.5" r="3.4" fill="none" stroke="#000" stroke-width="0.9" />
<circle cx="460.8" cy="1000.5" r="6.8" fill="#fff" stroke="#000" stroke-width="0.9" />
<circle cx="460.8" cy="1000.5" r="3.4" fill="none" stroke="#000" stroke-width="0.9" />
<circle cx="552.6" cy="1000.5" r="6.8" fill="#fff" stroke="#000" stroke-width="0.9" />
<circle cx="552.6" cy="1000.5" r="3.4" fill="none" stroke="#000" stroke-width="0.9" />
<circle cx="645" cy="1000.5" r="6.8" fill="#fff" stroke="#000" stroke-width="0.9" />
<circle cx="645" cy="1000.5" r="3.4" fill="none" stroke="#000" stroke-width="0.9" />
<circle cx="299" cy="993.2" r="4.4" fill="#fff" stroke="#000" stroke-width="0.9" />
<circle cx="299" cy="993.2" r="2.55" fill="#f6f6f6" stroke="#000" stroke-width="0.6" />
<line x1="296.8" y1="993.2" x2="301.2" y2="993.2" stroke="#000" stroke-width="0.8" />
<line x1="299" y1="991" x2="299" y2="995.4" stroke="#000" stroke-width="0.8" />
<circle cx="436.3" cy="993.2" r="4.4" fill="#fff" stroke="#000" stroke-width="0.9" />
<circle cx="436.3" cy="993.2" r="2.55" fill="#f6f6f6" stroke="#000" stroke-width="0.6" />
<line x1="434.1" y1="993.2" x2="438.5" y2="993.2" stroke="#000" stroke-width="0.8" />
<line x1="436.3" y1="991" x2="436.3" y2="995.4" stroke="#000" stroke-width="0.8" />
<circle cx="511.4" cy="906.3" r="4.4" fill="#fff" stroke="#000" stroke-width="0.9" />
<circle cx="511.4" cy="906.3" r="2.55" fill="#f6f6f6" stroke="#000" stroke-width="0.6" />
<line x1="509.2" y1="906.3" x2="513.6" y2="906.3" stroke="#000" stroke-width="0.8" />
<line x1="511.4" y1="904.1" x2="511.4" y2="908.5" stroke="#000" stroke-width="0.8" />
<circle cx="575" cy="991.8" r="4.4" fill="#fff" stroke="#000" stroke-width="0.9" />
<circle cx="575" cy="991.8" r="2.55" fill="#f6f6f6" stroke="#000" stroke-width="0.6" />
<line x1="572.8" y1="991.8" x2="577.2" y2="991.8" stroke="#000" stroke-width="0.8" />
<line x1="575" y1="989.6" x2="575" y2="994" stroke="#000" stroke-width="0.8" />
<circle cx="711" cy="991.8" r="4.4" fill="#fff" stroke="#000" stroke-width="0.9" />
<circle cx="711" cy="991.8" r="2.55" fill="#f6f6f6" stroke="#000" stroke-width="0.6" />
<line x1="708.8" y1="991.8" x2="713.2" y2="991.8" stroke="#000" stroke-width="0.8" />
<line x1="711" y1="989.6" x2="711" y2="994" stroke="#000" stroke-width="0.8" />
<circle cx="512.4" cy="907" r="4.4" fill="#fff" stroke="#000" stroke-width="0.9" />
<circle cx="512.4" cy="907" r="2.55" fill="#f6f6f6" stroke="#000" stroke-width="0.6" />
<line x1="510.2" y1="907" x2="514.6" y2="907" stroke="#000" stroke-width="0.8" />
<line x1="512.4" y1="904.8" x2="512.4" y2="909.2" stroke="#000" stroke-width="0.8" />
<circle cx="711.4" cy="865" r="4.4" fill="#fff" stroke="#000" stroke-width="0.9" />
<circle cx="711.4" cy="865" r="2.55" fill="#f6f6f6" stroke="#000" stroke-width="0.6" />
<line x1="709.2" y1="865" x2="713.6" y2="865" stroke="#000" stroke-width="0.8" />
<line x1="711.4" y1="862.8" x2="711.4" y2="867.2" stroke="#000" stroke-width="0.8" />
<circle cx="504" cy="927.3" r="4.4" fill="#fff" stroke="#000" stroke-width="0.9" />
<circle cx="504" cy="927.3" r="2.55" fill="#f6f6f6" stroke="#000" stroke-width="0.6" />
<line x1="501.8" y1="927.3" x2="506.2" y2="927.3" stroke="#000" stroke-width="0.8" />
<line x1="504" y1="925.1" x2="504" y2="929.5" stroke="#000" stroke-width="0.8" />
<text x="535.3" y="858.2" font-size="4.4" text-anchor="middle" font-weight="normal" fill="#000" stroke="#000" stroke-width="0.14" >ΔV CG</text>
<text x="535.3" y="864.2" font-size="4.4" text-anchor="middle" font-weight="normal" fill="#000" stroke="#000" stroke-width="0.14" >LM/CSM</text>
<path d="M558 855.7 V852.5 H579.03 M591.97 852.5 H612.6 V855.7" fill="none" stroke="#000" stroke-width="1.0" />
<text x="585.5" y="854.2" font-size="4.6" text-anchor="middle" font-weight="normal" fill="#000" stroke="#000" stroke-width="0.14" >ELS</text>
<text x="567.3" y="861" font-size="4.4" text-anchor="middle" font-weight="normal" fill="#000" stroke="#000" stroke-width="0.14" >LOGIC</text>
<text x="597.2" y="861" font-size="4.4" text-anchor="middle" font-weight="normal" fill="#000" stroke="#000" stroke-width="0.14" >AUTO</text>
<path d="M648.8 855.7 V852.5 H661 M693.8 852.5 H705.9 V855.7" fill="none" stroke="#000" stroke-width="1.0" />
<text x="677.4" y="854.2" font-size="4.6" text-anchor="middle" font-weight="normal" fill="#000" stroke="#000" stroke-width="0.14" >CM PRPLNT</text>
<text x="660.5" y="861" font-size="4.4" text-anchor="middle" font-weight="normal" fill="#000" stroke="#000" stroke-width="0.14" >DUMP</text>
<text x="690" y="861" font-size="4.4" text-anchor="middle" font-weight="normal" fill="#000" stroke="#000" stroke-width="0.14" >PURGE</text>
<rect x="516.2" y="870.7" width="194.7" height="39.9" rx="5.6" fill="#fff" stroke="#888" stroke-width="0.7" />
<rect x="516.8" y="871.3" width="193.5" height="38.7" rx="5" fill="#fff" stroke="#000" stroke-width="1.2" />
<rect x="518.6" y="873.1" width="189.9" height="35.1" rx="3.5" fill="none" stroke="#555" stroke-width="0.5" />
<line x1="522.3" y1="876.1" x2="704.8" y2="876.1" stroke="#000" stroke-width="0.7" />
<line x1="522.3" y1="904.7" x2="704.8" y2="904.7" stroke="#000" stroke-width="0.7" />
<rect x="520.6" y="873.6" width="3.4" height="34.1" rx="0.8" fill="#fff" stroke="#000" stroke-width="0.8" />
<rect x="551.3" y="873.6" width="3.4" height="34.1" rx="0.8" fill="#fff" stroke="#000" stroke-width="0.8" />
<rect x="583.8" y="873.6" width="3.4" height="34.1" rx="0.8" fill="#fff" stroke="#000" stroke-width="0.8" />
<rect x="612.3" y="873.6" width="3.4" height="34.1" rx="0.8" fill="#fff" stroke="#000" stroke-width="0.8" />
<rect x="643.3" y="873.6" width="3.4" height="34.1" rx="0.8" fill="#fff" stroke="#000" stroke-width="0.8" />
<rect x="703.1" y="873.6" width="3.4" height="34.1" rx="0.8" fill="#fff" stroke="#000" stroke-width="0.8" />
<path d="M527.4 891.6 L532.2 881.7 L543.4 881.7 L548.2 891.6 L543.4 901.5 L532.2 901.5 Z" fill="#fff" stroke="#000" stroke-width="1.4" />
<path d="M529.48 891.6 L533.32 883.68 L542.28 883.68 L546.12 891.6 L542.28 899.52 L533.32 899.52 Z" fill="#c8c8c8" stroke="#222" stroke-width="0.6" />
<path d="M530.5 892.6 A7.6 7.6 0 0 1 545.1 892.6 L543.8 898.4 H531.8 Z" fill="#fff" stroke="#000" stroke-width="0.7" />
<path d="M532.4 891.8 H536.6 V890.4 H539 V891.8 H543.2 L543.8 899 H531.8 Z" fill="#8a8a8a" stroke="#000" stroke-width="1.1" />
<line x1="532.8" y1="895.2" x2="542.8" y2="895.2" stroke="#333" stroke-width="0.9" />
<rect x="531.05" y="876.7" width="13.5" height="4" rx="0" fill="#fff" stroke="#000" stroke-width="0" />
<text x="537.8" y="880.2" font-size="4.8" text-anchor="middle" font-weight="normal" fill="#000" stroke="#000" stroke-width="0.14" >(S54)</text>
<path d="M588.2 891.6 L593 881.7 L604.2 881.7 L609 891.6 L604.2 901.5 L593 901.5 Z" fill="#fff" stroke="#000" stroke-width="1.4" />
<path d="M590.28 891.6 L594.12 883.68 L603.08 883.68 L606.92 891.6 L603.08 899.52 L594.12 899.52 Z" fill="#c8c8c8" stroke="#222" stroke-width="0.6" />
<path d="M591.3 892.6 A7.6 7.6 0 0 1 605.9 892.6 L604.6 898.4 H592.6 Z" fill="#fff" stroke="#000" stroke-width="0.7" />
<path d="M593.2 891.8 H597.4 V890.4 H599.8 V891.8 H604 L604.6 899 H592.6 Z" fill="#8a8a8a" stroke="#000" stroke-width="1.1" />
<line x1="593.6" y1="895.2" x2="603.6" y2="895.2" stroke="#333" stroke-width="0.9" />
<rect x="591.85" y="876.7" width="13.5" height="4" rx="0" fill="#fff" stroke="#000" stroke-width="0" />
<text x="598.6" y="880.2" font-size="4.8" text-anchor="middle" font-weight="normal" fill="#000" stroke="#000" stroke-width="0.14" >(S63)</text>
<path d="M618.8 891.6 L623.6 881.7 L634.8 881.7 L639.6 891.6 L634.8 901.5 L623.6 901.5 Z" fill="#fff" stroke="#000" stroke-width="1.4" />
<path d="M620.88 891.6 L624.72 883.68 L633.68 883.68 L637.52 891.6 L633.68 899.52 L624.72 899.52 Z" fill="#c8c8c8" stroke="#222" stroke-width="0.6" />
<path d="M621.9 892.6 A7.6 7.6 0 0 1 636.5 892.6 L635.2 898.4 H623.2 Z" fill="#fff" stroke="#000" stroke-width="0.7" />
<path d="M623.8 891.8 H628 V890.4 H630.4 V891.8 H634.6 L635.2 899 H623.2 Z" fill="#8a8a8a" stroke="#000" stroke-width="1.1" />
<line x1="624.2" y1="895.2" x2="634.2" y2="895.2" stroke="#333" stroke-width="0.9" />
<rect x="622.45" y="876.7" width="13.5" height="4" rx="0" fill="#fff" stroke="#000" stroke-width="0" />
<text x="629.2" y="880.2" font-size="4.8" text-anchor="middle" font-weight="normal" fill="#000" stroke="#000" stroke-width="0.14" >(S64)</text>
<rect x="557.4" y="868.7" width="23.9" height="41.3" rx="1.8" fill="#fff" stroke="#000" stroke-width="1.2" />
<line x1="557.4" y1="888.94" x2="581.3" y2="888.94" stroke="#000" stroke-width="0.8" />
<text x="569.35" y="880.94" font-size="4.8" text-anchor="middle" font-weight="normal" fill="#000" stroke="#000" stroke-width="0.14" >(S44)</text>
<rect x="560.03" y="893.22" width="18.64" height="9.4" rx="1.5" fill="#fff" stroke="#000" stroke-width="0.9" />
<path d="M562.23 895.22 H576.47 L575.07 900.02 H563.63 Z" fill="#777" stroke="#000" stroke-width="1.3" stroke-linejoin="round"/>
<line x1="563.23" y1="896.82" x2="575.47" y2="896.82" stroke="#000" stroke-width="1.0" />
<rect x="649.5" y="868.7" width="23.9" height="41.3" rx="1.8" fill="#fff" stroke="#000" stroke-width="1.2" />
<line x1="649.5" y1="888.94" x2="673.4" y2="888.94" stroke="#000" stroke-width="0.8" />
<text x="661.45" y="880.94" font-size="4.8" text-anchor="middle" font-weight="normal" fill="#000" stroke="#000" stroke-width="0.14" >(S47)</text>
<rect x="652.13" y="893.22" width="18.64" height="9.4" rx="1.5" fill="#fff" stroke="#000" stroke-width="0.9" />
<path d="M654.33 895.22 H668.57 L667.17 900.02 H655.73 Z" fill="#777" stroke="#000" stroke-width="1.3" stroke-linejoin="round"/>
<line x1="655.33" y1="896.82" x2="667.57" y2="896.82" stroke="#000" stroke-width="1.0" />
<rect x="679" y="868.7" width="24.7" height="41.3" rx="1.8" fill="#fff" stroke="#000" stroke-width="1.2" />
<line x1="679" y1="888.94" x2="703.7" y2="888.94" stroke="#000" stroke-width="0.8" />
<text x="691.35" y="880.94" font-size="4.8" text-anchor="middle" font-weight="normal" fill="#000" stroke="#000" stroke-width="0.14" >(S48)</text>
<rect x="681.72" y="893.22" width="19.27" height="9.4" rx="1.5" fill="#fff" stroke="#000" stroke-width="0.9" />
<path d="M683.92 895.22 H698.78 L697.38 900.02 H685.32 Z" fill="#777" stroke="#000" stroke-width="1.3" stroke-linejoin="round"/>
<line x1="684.92" y1="896.82" x2="697.78" y2="896.82" stroke="#000" stroke-width="1.0" />
<text x="537.8" y="917.2" font-size="4.4" text-anchor="middle" font-weight="normal" fill="#000" stroke="#000" stroke-width="0.14" >CSM</text>
<text x="568.4" y="917.2" font-size="4.4" text-anchor="middle" font-weight="normal" fill="#000" stroke="#000" stroke-width="0.14" >OFF</text>
<text x="598.6" y="917.2" font-size="4.4" text-anchor="middle" font-weight="normal" fill="#000" stroke="#000" stroke-width="0.14" >MAN</text>
<text x="629.2" y="917.2" font-size="4.4" text-anchor="middle" font-weight="normal" fill="#000" stroke="#000" stroke-width="0.14" >OFF</text>
<text x="660.5" y="917.2" font-size="4.4" text-anchor="middle" font-weight="normal" fill="#000" stroke="#000" stroke-width="0.14" >OFF</text>
<path d="M586 926.2 V923 H626.78 M666.22 923 H705.5 V926.2" fill="none" stroke="#000" stroke-width="1.0" />
<text x="646.5" y="924.7" font-size="4.6" text-anchor="middle" font-weight="normal" fill="#000" stroke="#000" stroke-width="0.14" >EVENT TIMER</text>
<text x="598.6" y="930" font-size="4.4" text-anchor="middle" font-weight="normal" fill="#000" stroke="#000" stroke-width="0.14" >RESET</text>
<text x="629.2" y="930" font-size="4.4" text-anchor="middle" font-weight="normal" fill="#000" stroke="#000" stroke-width="0.14" >START</text>
<text x="675.3" y="930" font-size="4.4" text-anchor="middle" font-weight="normal" fill="#000" stroke="#000" stroke-width="0.14" >MIN–TENS–SEC</text>
<rect x="516.2" y="932.6" width="195.8" height="38.8" rx="6" fill="#fff" stroke="#888" stroke-width="0.7" />
<rect x="516.8" y="933.2" width="194.6" height="37.6" rx="5" fill="#fff" stroke="#000" stroke-width="1.4" />
<rect x="518.6" y="935" width="191" height="34" rx="3.5" fill="none" stroke="#555" stroke-width="0.5" />
<line x1="583" y1="938" x2="705.9" y2="938" stroke="#000" stroke-width="0.7" />
<line x1="583" y1="965.5" x2="705.9" y2="965.5" stroke="#000" stroke-width="0.7" />
<rect x="581.3" y="935.5" width="3.4" height="33" rx="0.8" fill="#fff" stroke="#000" stroke-width="0.8" />
<rect x="612.8" y="935.5" width="3.4" height="33" rx="0.8" fill="#fff" stroke="#000" stroke-width="0.8" />
<rect x="643.7" y="935.5" width="3.4" height="33" rx="0.8" fill="#fff" stroke="#000" stroke-width="0.8" />
<rect x="673.9" y="935.5" width="3.4" height="33" rx="0.8" fill="#fff" stroke="#000" stroke-width="0.8" />
<rect x="704.2" y="935.5" width="3.4" height="33" rx="0.8" fill="#fff" stroke="#000" stroke-width="0.8" />
<path d="M588.2 951.6 L593 941.7 L604.2 941.7 L609 951.6 L604.2 961.5 L593 961.5 Z" fill="#fff" stroke="#000" stroke-width="1.4" />
<path d="M590.28 951.6 L594.12 943.68 L603.08 943.68 L606.92 951.6 L603.08 959.52 L594.12 959.52 Z" fill="#a2a2a2" stroke="#222" stroke-width="0.6" />
<rect x="592.9" y="945.4" width="11.4" height="12.6" rx="1.2" fill="#cfcfcf" stroke="#000" stroke-width="1.1" />
<rect x="593.7" y="951.9" width="9.8" height="3.6" rx="0" fill="#444" stroke="#000" stroke-width="0" />
<line x1="593.7" y1="948.8" x2="603.5" y2="948.8" stroke="#333" stroke-width="0.7" />
<line x1="593.7" y1="956.8" x2="603.5" y2="956.8" stroke="#333" stroke-width="0.6" />
<rect x="591.85" y="936.7" width="13.5" height="4" rx="0" fill="#fff" stroke="#000" stroke-width="0" />
<text x="598.6" y="940.2" font-size="4.8" text-anchor="middle" font-weight="normal" fill="#000" stroke="#000" stroke-width="0.14" >(S55)</text>
<path d="M619.9 951.6 L624.7 941.7 L635.9 941.7 L640.7 951.6 L635.9 961.5 L624.7 961.5 Z" fill="#fff" stroke="#000" stroke-width="1.4" />
<path d="M621.98 951.6 L625.82 943.68 L634.78 943.68 L638.62 951.6 L634.78 959.52 L625.82 959.52 Z" fill="#a2a2a2" stroke="#222" stroke-width="0.6" />
<rect x="624.6" y="945.4" width="11.4" height="12.6" rx="1.2" fill="#cfcfcf" stroke="#000" stroke-width="1.1" />
<rect x="625.4" y="951.9" width="9.8" height="3.6" rx="0" fill="#444" stroke="#000" stroke-width="0" />
<line x1="625.4" y1="948.8" x2="635.2" y2="948.8" stroke="#333" stroke-width="0.7" />
<line x1="625.4" y1="956.8" x2="635.2" y2="956.8" stroke="#333" stroke-width="0.6" />
<rect x="623.55" y="936.7" width="13.5" height="4" rx="0" fill="#fff" stroke="#000" stroke-width="0" />
<text x="630.3" y="940.2" font-size="4.8" text-anchor="middle" font-weight="normal" fill="#000" stroke="#000" stroke-width="0.14" >(S56)</text>
<path d="M650.1 951.6 L654.9 941.7 L666.1 941.7 L670.9 951.6 L666.1 961.5 L654.9 961.5 Z" fill="#fff" stroke="#000" stroke-width="1.4" />
<path d="M652.18 951.6 L656.02 943.68 L664.98 943.68 L668.82 951.6 L664.98 959.52 L656.02 959.52 Z" fill="#a2a2a2" stroke="#222" stroke-width="0.6" />
<rect x="654.8" y="945.4" width="11.4" height="12.6" rx="1.2" fill="#cfcfcf" stroke="#000" stroke-width="1.1" />
<rect x="655.6" y="951.9" width="9.8" height="3.6" rx="0" fill="#444" stroke="#000" stroke-width="0" />
<line x1="655.6" y1="948.8" x2="665.4" y2="948.8" stroke="#333" stroke-width="0.7" />
<line x1="655.6" y1="956.8" x2="665.4" y2="956.8" stroke="#333" stroke-width="0.6" />
<rect x="653.75" y="936.7" width="13.5" height="4" rx="0" fill="#fff" stroke="#000" stroke-width="0" />
<text x="660.5" y="940.2" font-size="4.8" text-anchor="middle" font-weight="normal" fill="#000" stroke="#000" stroke-width="0.14" >(S57)</text>
<path d="M680.4 951.6 L685.2 941.7 L696.4 941.7 L701.2 951.6 L696.4 961.5 L685.2 961.5 Z" fill="#fff" stroke="#000" stroke-width="1.4" />
<path d="M682.48 951.6 L686.32 943.68 L695.28 943.68 L699.12 951.6 L695.28 959.52 L686.32 959.52 Z" fill="#a2a2a2" stroke="#222" stroke-width="0.6" />
<rect x="685.1" y="945.4" width="11.4" height="12.6" rx="1.2" fill="#cfcfcf" stroke="#000" stroke-width="1.1" />
<rect x="685.9" y="951.9" width="9.8" height="3.6" rx="0" fill="#444" stroke="#000" stroke-width="0" />
<line x1="685.9" y1="948.8" x2="695.7" y2="948.8" stroke="#333" stroke-width="0.7" />
<line x1="685.9" y1="956.8" x2="695.7" y2="956.8" stroke="#333" stroke-width="0.6" />
<rect x="684.05" y="936.7" width="13.5" height="4" rx="0" fill="#fff" stroke="#000" stroke-width="0" />
<text x="690.8" y="940.2" font-size="4.8" text-anchor="middle" font-weight="normal" fill="#000" stroke="#000" stroke-width="0.14" >(S58)</text>
<path d="M607.24 939.16 L612.96 939.16 L610.1 943.84 Z" fill="#000" stroke="#000" stroke-width="0.2" />
<path d="M638.94 939.16 L644.66 939.16 L641.8 943.84 Z" fill="#000" stroke="#000" stroke-width="0.2" />
<path d="M669.14 939.16 L674.86 939.16 L672 943.84 Z" fill="#000" stroke="#000" stroke-width="0.2" />
<path d="M699.44 939.16 L705.16 939.16 L702.3 943.84 Z" fill="#000" stroke="#000" stroke-width="0.2" />
<path d="M669.14 964.84 L674.86 964.84 L672 960.16 Z" fill="#000" stroke="#000" stroke-width="0.2" />
<path d="M699.44 964.84 L705.16 964.84 L702.3 960.16 Z" fill="#000" stroke="#000" stroke-width="0.2" />
<path d="M606.14 964.84 L611.86 964.84 L609 960.16 Z" fill="#000" stroke="#000" stroke-width="0.2" />
<text x="598.6" y="978.6" font-size="4.4" text-anchor="middle" font-weight="normal" fill="#000" stroke="#000" stroke-width="0.14" >DOWN</text>
<text x="630.3" y="978.6" font-size="4.4" text-anchor="middle" font-weight="normal" fill="#000" stroke="#000" stroke-width="0.14" >STOP</text>
<text x="675.3" y="978.6" font-size="4.4" text-anchor="middle" font-weight="normal" fill="#000" stroke="#000" stroke-width="0.14" >UNITS</text>
<text x="630.3" y="856.3" font-size="4.4" text-anchor="middle" font-weight="normal" fill="#000" stroke="#000" stroke-width="0.14" >CM RCS</text>
<text x="630.3" y="861" font-size="4.4" text-anchor="middle" font-weight="normal" fill="#000" stroke="#000" stroke-width="0.14" >LOGIC</text>
<text x="629.2" y="917.2" font-size="4.4" text-anchor="middle" font-weight="normal" fill="#000" stroke="#000" stroke-width="0.14" >OFF</text>
<rect x="615" y="852" width="31" height="66" rx="3" fill="#4848ff" opacity="0.44" filter="url(#blur)"/>
</svg>
</body></html>
